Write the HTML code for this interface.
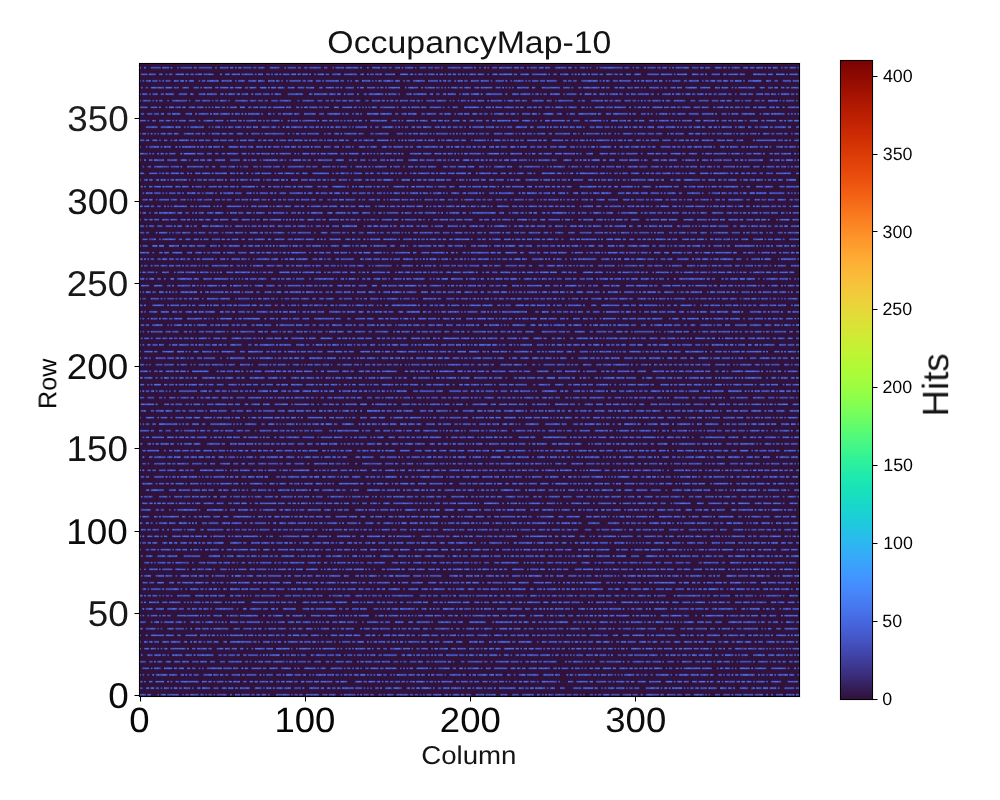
<!DOCTYPE html><html><head><meta charset="utf-8"><title>OccupancyMap-10</title><style>html,body{margin:0;padding:0;background:#fff;}body{width:1000px;height:800px;overflow:hidden;}svg{display:block;}text{font-family:"Liberation Sans",sans-serif;fill:#000;text-rendering:geometricPrecision;}</style></head><body>
<svg width="1000" height="800" viewBox="0 0 1000 800">
<defs><linearGradient id="cbg" x1="0" y1="0" x2="0" y2="1"><stop offset="0.0020" stop-color="#7a0403"/><stop offset="0.0059" stop-color="#7e0502"/><stop offset="0.0098" stop-color="#810602"/><stop offset="0.0137" stop-color="#850702"/><stop offset="0.0176" stop-color="#880802"/><stop offset="0.0215" stop-color="#8b0902"/><stop offset="0.0254" stop-color="#8e0a01"/><stop offset="0.0293" stop-color="#920b01"/><stop offset="0.0332" stop-color="#950d01"/><stop offset="0.0371" stop-color="#980e01"/><stop offset="0.0410" stop-color="#9b0f01"/><stop offset="0.0449" stop-color="#9e1001"/><stop offset="0.0488" stop-color="#a11201"/><stop offset="0.0527" stop-color="#a41301"/><stop offset="0.0566" stop-color="#a71401"/><stop offset="0.0605" stop-color="#a91601"/><stop offset="0.0645" stop-color="#ac1701"/><stop offset="0.0684" stop-color="#af1801"/><stop offset="0.0723" stop-color="#b21a01"/><stop offset="0.0762" stop-color="#b41b01"/><stop offset="0.0801" stop-color="#b71d02"/><stop offset="0.0840" stop-color="#b91e02"/><stop offset="0.0879" stop-color="#bc2002"/><stop offset="0.0918" stop-color="#be2102"/><stop offset="0.0957" stop-color="#c12302"/><stop offset="0.0996" stop-color="#c32503"/><stop offset="0.1035" stop-color="#c52603"/><stop offset="0.1074" stop-color="#c82803"/><stop offset="0.1113" stop-color="#ca2a04"/><stop offset="0.1152" stop-color="#cc2b04"/><stop offset="0.1191" stop-color="#ce2d04"/><stop offset="0.1230" stop-color="#d02f05"/><stop offset="0.1270" stop-color="#d23105"/><stop offset="0.1309" stop-color="#d43305"/><stop offset="0.1348" stop-color="#d63506"/><stop offset="0.1387" stop-color="#d83706"/><stop offset="0.1426" stop-color="#da3907"/><stop offset="0.1465" stop-color="#dc3b07"/><stop offset="0.1504" stop-color="#dd3d08"/><stop offset="0.1543" stop-color="#df3f08"/><stop offset="0.1582" stop-color="#e14109"/><stop offset="0.1621" stop-color="#e2430a"/><stop offset="0.1660" stop-color="#e4450a"/><stop offset="0.1699" stop-color="#e5470b"/><stop offset="0.1738" stop-color="#e7490c"/><stop offset="0.1777" stop-color="#e84b0c"/><stop offset="0.1816" stop-color="#ea4e0d"/><stop offset="0.1855" stop-color="#eb500e"/><stop offset="0.1895" stop-color="#ec530f"/><stop offset="0.1934" stop-color="#ed5510"/><stop offset="0.1973" stop-color="#ef5811"/><stop offset="0.2012" stop-color="#f05b12"/><stop offset="0.2051" stop-color="#f15d13"/><stop offset="0.2090" stop-color="#f26014"/><stop offset="0.2129" stop-color="#f36315"/><stop offset="0.2168" stop-color="#f46617"/><stop offset="0.2207" stop-color="#f56918"/><stop offset="0.2246" stop-color="#f66c19"/><stop offset="0.2285" stop-color="#f76f1a"/><stop offset="0.2324" stop-color="#f8721c"/><stop offset="0.2363" stop-color="#f9751d"/><stop offset="0.2402" stop-color="#f9781e"/><stop offset="0.2441" stop-color="#fa7b1f"/><stop offset="0.2480" stop-color="#fb7e21"/><stop offset="0.2520" stop-color="#fb8122"/><stop offset="0.2559" stop-color="#fc8423"/><stop offset="0.2598" stop-color="#fc8725"/><stop offset="0.2637" stop-color="#fd8a26"/><stop offset="0.2676" stop-color="#fd8d27"/><stop offset="0.2715" stop-color="#fe9029"/><stop offset="0.2754" stop-color="#fe932a"/><stop offset="0.2793" stop-color="#fe962b"/><stop offset="0.2832" stop-color="#fe992c"/><stop offset="0.2871" stop-color="#fe9b2d"/><stop offset="0.2910" stop-color="#fe9e2f"/><stop offset="0.2949" stop-color="#fea130"/><stop offset="0.2988" stop-color="#fea431"/><stop offset="0.3027" stop-color="#fea732"/><stop offset="0.3066" stop-color="#fea933"/><stop offset="0.3105" stop-color="#fdac34"/><stop offset="0.3145" stop-color="#fdae35"/><stop offset="0.3184" stop-color="#fcb136"/><stop offset="0.3223" stop-color="#fcb336"/><stop offset="0.3262" stop-color="#fbb637"/><stop offset="0.3301" stop-color="#fbb838"/><stop offset="0.3340" stop-color="#faba39"/><stop offset="0.3379" stop-color="#f9bc39"/><stop offset="0.3418" stop-color="#f8be39"/><stop offset="0.3457" stop-color="#f7c13a"/><stop offset="0.3496" stop-color="#f6c33a"/><stop offset="0.3535" stop-color="#f5c53a"/><stop offset="0.3574" stop-color="#f4c73a"/><stop offset="0.3613" stop-color="#f2c93a"/><stop offset="0.3652" stop-color="#f1cb3a"/><stop offset="0.3691" stop-color="#efcd3a"/><stop offset="0.3730" stop-color="#eecf3a"/><stop offset="0.3770" stop-color="#ecd13a"/><stop offset="0.3809" stop-color="#ebd339"/><stop offset="0.3848" stop-color="#e9d539"/><stop offset="0.3887" stop-color="#e7d739"/><stop offset="0.3926" stop-color="#e5d938"/><stop offset="0.3965" stop-color="#e3db38"/><stop offset="0.4004" stop-color="#e1dd37"/><stop offset="0.4043" stop-color="#dfdf37"/><stop offset="0.4082" stop-color="#dde037"/><stop offset="0.4121" stop-color="#dbe236"/><stop offset="0.4160" stop-color="#d9e436"/><stop offset="0.4199" stop-color="#d7e535"/><stop offset="0.4238" stop-color="#d4e735"/><stop offset="0.4277" stop-color="#d2e935"/><stop offset="0.4316" stop-color="#d0ea34"/><stop offset="0.4355" stop-color="#cdec34"/><stop offset="0.4395" stop-color="#cbed34"/><stop offset="0.4434" stop-color="#c8ef34"/><stop offset="0.4473" stop-color="#c6f034"/><stop offset="0.4512" stop-color="#c3f134"/><stop offset="0.4551" stop-color="#c1f334"/><stop offset="0.4590" stop-color="#bef434"/><stop offset="0.4629" stop-color="#bcf534"/><stop offset="0.4668" stop-color="#b9f635"/><stop offset="0.4707" stop-color="#b7f735"/><stop offset="0.4746" stop-color="#b4f836"/><stop offset="0.4785" stop-color="#b1f936"/><stop offset="0.4824" stop-color="#affa37"/><stop offset="0.4863" stop-color="#acfb38"/><stop offset="0.4902" stop-color="#a9fb39"/><stop offset="0.4941" stop-color="#a7fc3a"/><stop offset="0.4980" stop-color="#a4fc3c"/><stop offset="0.5020" stop-color="#a1fd3d"/><stop offset="0.5059" stop-color="#9ffd3f"/><stop offset="0.5098" stop-color="#9cfe40"/><stop offset="0.5137" stop-color="#99fe42"/><stop offset="0.5176" stop-color="#96fe44"/><stop offset="0.5215" stop-color="#92ff47"/><stop offset="0.5254" stop-color="#8fff49"/><stop offset="0.5293" stop-color="#8bff4b"/><stop offset="0.5332" stop-color="#88ff4e"/><stop offset="0.5371" stop-color="#84ff51"/><stop offset="0.5410" stop-color="#80ff53"/><stop offset="0.5449" stop-color="#7dff56"/><stop offset="0.5488" stop-color="#79fe59"/><stop offset="0.5527" stop-color="#75fe5c"/><stop offset="0.5566" stop-color="#71fe5f"/><stop offset="0.5605" stop-color="#6dfe62"/><stop offset="0.5645" stop-color="#69fd66"/><stop offset="0.5684" stop-color="#65fd69"/><stop offset="0.5723" stop-color="#61fc6c"/><stop offset="0.5762" stop-color="#5dfc6f"/><stop offset="0.5801" stop-color="#59fb73"/><stop offset="0.5840" stop-color="#55fa76"/><stop offset="0.5879" stop-color="#52fa7a"/><stop offset="0.5918" stop-color="#4ef97d"/><stop offset="0.5957" stop-color="#4af880"/><stop offset="0.5996" stop-color="#46f884"/><stop offset="0.6035" stop-color="#43f787"/><stop offset="0.6074" stop-color="#3ff68a"/><stop offset="0.6113" stop-color="#3cf58e"/><stop offset="0.6152" stop-color="#38f491"/><stop offset="0.6191" stop-color="#35f394"/><stop offset="0.6230" stop-color="#32f298"/><stop offset="0.6270" stop-color="#2ff19b"/><stop offset="0.6309" stop-color="#2cf09e"/><stop offset="0.6348" stop-color="#2aefa1"/><stop offset="0.6387" stop-color="#27eea4"/><stop offset="0.6426" stop-color="#25eca7"/><stop offset="0.6465" stop-color="#22ebaa"/><stop offset="0.6504" stop-color="#20eaac"/><stop offset="0.6543" stop-color="#1fe9af"/><stop offset="0.6582" stop-color="#1de7b2"/><stop offset="0.6621" stop-color="#1ce6b4"/><stop offset="0.6660" stop-color="#1ae4b6"/><stop offset="0.6699" stop-color="#19e3b9"/><stop offset="0.6738" stop-color="#19e2bb"/><stop offset="0.6777" stop-color="#18e0bd"/><stop offset="0.6816" stop-color="#18dec0"/><stop offset="0.6855" stop-color="#18ddc2"/><stop offset="0.6895" stop-color="#18dbc5"/><stop offset="0.6934" stop-color="#18d9c8"/><stop offset="0.6973" stop-color="#18d7ca"/><stop offset="0.7012" stop-color="#19d5cd"/><stop offset="0.7051" stop-color="#1ad4d0"/><stop offset="0.7090" stop-color="#1ad2d2"/><stop offset="0.7129" stop-color="#1bd0d5"/><stop offset="0.7168" stop-color="#1ccdd8"/><stop offset="0.7207" stop-color="#1ecbda"/><stop offset="0.7246" stop-color="#1fc9dd"/><stop offset="0.7285" stop-color="#20c7df"/><stop offset="0.7324" stop-color="#22c5e2"/><stop offset="0.7363" stop-color="#23c3e4"/><stop offset="0.7402" stop-color="#25c0e7"/><stop offset="0.7441" stop-color="#27bee9"/><stop offset="0.7480" stop-color="#28bceb"/><stop offset="0.7520" stop-color="#2ab9ee"/><stop offset="0.7559" stop-color="#2cb7f0"/><stop offset="0.7598" stop-color="#2eb4f2"/><stop offset="0.7637" stop-color="#2fb2f4"/><stop offset="0.7676" stop-color="#31aff5"/><stop offset="0.7715" stop-color="#33adf7"/><stop offset="0.7754" stop-color="#35abf8"/><stop offset="0.7793" stop-color="#37a8fa"/><stop offset="0.7832" stop-color="#38a5fb"/><stop offset="0.7871" stop-color="#3aa3fc"/><stop offset="0.7910" stop-color="#3ba0fd"/><stop offset="0.7949" stop-color="#3d9efe"/><stop offset="0.7988" stop-color="#3e9bfe"/><stop offset="0.8027" stop-color="#4099ff"/><stop offset="0.8066" stop-color="#4196ff"/><stop offset="0.8105" stop-color="#4294ff"/><stop offset="0.8145" stop-color="#4391fe"/><stop offset="0.8184" stop-color="#448ffe"/><stop offset="0.8223" stop-color="#458cfd"/><stop offset="0.8262" stop-color="#458afc"/><stop offset="0.8301" stop-color="#4687fb"/><stop offset="0.8340" stop-color="#4685fa"/><stop offset="0.8379" stop-color="#4682f8"/><stop offset="0.8418" stop-color="#4680f6"/><stop offset="0.8457" stop-color="#467df4"/><stop offset="0.8496" stop-color="#477bf2"/><stop offset="0.8535" stop-color="#4778f0"/><stop offset="0.8574" stop-color="#4776ee"/><stop offset="0.8613" stop-color="#4773eb"/><stop offset="0.8652" stop-color="#4771e9"/><stop offset="0.8691" stop-color="#476ee6"/><stop offset="0.8730" stop-color="#466be3"/><stop offset="0.8770" stop-color="#4669e0"/><stop offset="0.8809" stop-color="#4666dd"/><stop offset="0.8848" stop-color="#4664da"/><stop offset="0.8887" stop-color="#4661d6"/><stop offset="0.8926" stop-color="#455ed3"/><stop offset="0.8965" stop-color="#455ccf"/><stop offset="0.9004" stop-color="#4559cb"/><stop offset="0.9043" stop-color="#4456c7"/><stop offset="0.9082" stop-color="#4454c3"/><stop offset="0.9121" stop-color="#4451bf"/><stop offset="0.9160" stop-color="#434eba"/><stop offset="0.9199" stop-color="#424bb5"/><stop offset="0.9238" stop-color="#4249b1"/><stop offset="0.9277" stop-color="#4146ac"/><stop offset="0.9316" stop-color="#4143a7"/><stop offset="0.9355" stop-color="#4040a2"/><stop offset="0.9395" stop-color="#3f3e9c"/><stop offset="0.9434" stop-color="#3f3b97"/><stop offset="0.9473" stop-color="#3e3891"/><stop offset="0.9512" stop-color="#3d358b"/><stop offset="0.9551" stop-color="#3c3286"/><stop offset="0.9590" stop-color="#3b2f80"/><stop offset="0.9629" stop-color="#3a2d79"/><stop offset="0.9668" stop-color="#392a73"/><stop offset="0.9707" stop-color="#38276d"/><stop offset="0.9746" stop-color="#372466"/><stop offset="0.9785" stop-color="#36215f"/><stop offset="0.9824" stop-color="#351e58"/><stop offset="0.9863" stop-color="#341b51"/><stop offset="0.9902" stop-color="#33184a"/><stop offset="0.9941" stop-color="#321543"/><stop offset="0.9980" stop-color="#30123b"/></linearGradient>
<clipPath id="axc"><rect x="140" y="64" width="659" height="632"/></clipPath></defs>
<rect x="0" y="0" width="1000" height="800" fill="#fff"/>
<g id="heat"><rect x="140" y="64" width="659" height="632" fill="#30123b"/>
<g clip-path="url(#axc)">
<g transform="translate(139.25 0) scale(1.6500 1)" fill="none">
<use href="#hb" stroke-width="2.80" stroke-opacity="0.180"/>
<g stroke-width="1.20"><path id="hb" stroke="#4664da" d="M0 694.75h4m1 0h2m4 0h1m1 0h3m1 0h7m2 0h1m1 0h2m1 0h5m1 0h2m1 0h1m1 0h2m1 0h1m1 0h6m2 0h1m2 0h3m1 0h5m1 0h2m1 0h2m1 0h3m1 0h1m4 0h8m1 0h1m1 0h2m1 0h2m2 0h8m2 0h3m1 0h4m3 0h1m1 0h7m1 0h1m1 0h1m1 0h3m1 0h2m3 0h2m1 0h1m1 0h4m2 0h7m1 0h2m1 0h2m1 0h1m1 0h1m1 0h3m1 0h5m2 0h2m1 0h1m1 0h4m1 0h2m1 0h3m3 0h5m1 0h6m3 0h4m3 0h4m2 0h7m2 0h2m1 0h1m1 0h1m1 0h3m1 0h6m1 0h3m1 0h3m1 0h1m1 0h1m3 0h2m1 0h1m1 0h2m1 0h4m1 0h5m2 0h5m1 0h3m2 0h1m2 0h8m1 0h2m2 0h5m1 0h3m2 0h3m2 0h6m1 0h1m1 0h1m3 0h3m2 0h4m1 0h1m1 0h4m1 0h6m1 0h5m2 0h1m2 0h1m2 0h4m2 0h5m1 0h2M0 688.15h2m2 0h2m1 0h2m1 0h2m1 0h1m1 0h3m1 0h1m1 0h2m1 0h2m1 0h4m1 0h1m2 0h2m1 0h5m2 0h3m2 0h3m1 0h3m1 0h2m1 0h6m3 0h4m1 0h1m1 0h3m1 0h1m1 0h4m1 0h4m2 0h4m1 0h1m3 0h6m1 0h2m2 0h2m1 0h2m1 0h2m1 0h7m1 0h4m1 0h1m1 0h1m1 0h1m2 0h2m1 0h1m2 0h4m1 0h5m3 0h2m1 0h2m1 0h2m1 0h6m1 0h1m2 0h2m1 0h4m1 0h6m1 0h1m2 0h2m1 0h1m1 0h4m1 0h1m1 0h3m1 0h1m2 0h10m2 0h3m1 0h2m1 0h2m1 0h6m1 0h1m1 0h3m3 0h3m5 0h5m1 0h6m1 0h2m2 0h1m1 0h1m1 0h4m1 0h5m1 0h1m1 0h2m1 0h3m4 0h8m1 0h1m1 0h2m1 0h1m1 0h6m1 0h1m1 0h1m1 0h2m1 0h2m1 0h4m1 0h5m2 0h4m1 0h2m1 0h1m3 0h5m2 0h2m1 0h3m1 0h3m1 0h4m1 0h1m3 0h6m1 0h2M0 681.55h2m1 0h1m2 0h2m2 0h5m2 0h1m1 0h1m2 0h2m1 0h11m2 0h3m1 0h2m1 0h1m1 0h4m1 0h1m1 0h2m1 0h4m2 0h2m2 0h2m1 0h2m1 0h5m1 0h2m2 0h2m1 0h2m1 0h4m1 0h2m2 0h2m1 0h4m1 0h3m1 0h7m2 0h2m1 0h4m5 0h4m1 0h2m1 0h4m1 0h2m1 0h1m1 0h2m1 0h2m1 0h3m1 0h2m1 0h1m1 0h3m1 0h5m1 0h1m1 0h2m1 0h1m1 0h1m1 0h7m2 0h2m1 0h4m1 0h2m1 0h3m2 0h3m1 0h1m1 0h3m1 0h3m1 0h1m1 0h1m2 0h2m1 0h2m1 0h3m1 0h3m1 0h1m2 0h9m1 0h1m5 0h3m2 0h7m1 0h2m2 0h6m1 0h2m1 0h1m1 0h5m1 0h2m1 0h2m2 0h5m2 0h7m3 0h4m1 0h1m1 0h3m1 0h3m2 0h3m1 0h4m1 0h1m1 0h2m2 0h2m1 0h1m1 0h6m1 0h2m1 0h2m1 0h3m1 0h1m1 0h5m1 0h1m2 0h6m4 0h6M0 674.95h1m1 0h1m2 0h1m2 0h1m1 0h7m1 0h5m2 0h2m1 0h1m1 0h2m1 0h3m3 0h5m1 0h3m1 0h2m1 0h2m2 0h5m1 0h2m1 0h6m2 0h1m1 0h1m1 0h4m2 0h3m1 0h1m1 0h4m1 0h4m1 0h2m2 0h1m1 0h1m1 0h6m1 0h4m1 0h2m1 0h1m1 0h2m1 0h2m1 0h3m1 0h3m1 0h1m1 0h1m1 0h1m1 0h3m1 0h2m2 0h1m1 0h1m1 0h6m1 0h4m1 0h2m1 0h2m2 0h1m1 0h2m1 0h4m1 0h1m2 0h7m1 0h2m2 0h1m1 0h2m1 0h6m1 0h3m1 0h4m3 0h2m2 0h1m2 0h4m1 0h7m3 0h6m1 0h3m4 0h1m1 0h2m1 0h1m1 0h8m1 0h2m1 0h1m1 0h3m1 0h3m1 0h1m1 0h1m1 0h1m1 0h6m1 0h2m1 0h1m1 0h2m2 0h1m2 0h8m1 0h1m2 0h1m1 0h6m1 0h5m1 0h5m1 0h2m3 0h2m1 0h1m1 0h2m1 0h1m1 0h2m1 0h9m2 0h1m1 0h2m1 0h1m1 0h2m1 0h1m1 0h6m1 0h3m2 0h1M2 668.35h4m1 0h1m1 0h4m2 0h5m1 0h2m1 0h3m2 0h2m1 0h2m2 0h1m1 0h1m2 0h9m1 0h5m1 0h3m2 0h1m1 0h2m2 0h6m1 0h2m2 0h5m2 0h6m2 0h1m1 0h1m3 0h7m1 0h1m1 0h3m3 0h7m1 0h1m1 0h2m1 0h1m1 0h2m1 0h1m2 0h2m1 0h5m1 0h2m1 0h7m2 0h1m1 0h1m1 0h1m1 0h2m2 0h7m1 0h1m2 0h1m1 0h7m2 0h2m2 0h2m1 0h1m1 0h7m1 0h1m2 0h3m2 0h8m2 0h3m1 0h2m1 0h2m2 0h5m1 0h7m2 0h2m1 0h1m1 0h4m2 0h1m1 0h3m1 0h1m1 0h1m2 0h2m1 0h3m2 0h5m1 0h2m2 0h5m1 0h2m1 0h2m1 0h2m1 0h2m1 0h2m1 0h5m2 0h1m1 0h2m2 0h2m1 0h1m1 0h10m1 0h6m3 0h1m1 0h2m1 0h3m1 0h1m1 0h1m2 0h6m1 0h1m1 0h7m3 0h9m1 0h1m3 0h1m1 0h1M0 661.75h4m2 0h2m1 0h1m1 0h3m2 0h3m2 0h4m1 0h4m2 0h4m1 0h4m2 0h3m3 0h3m2 0h8m2 0h2m1 0h1m2 0h1m1 0h3m1 0h4m1 0h7m1 0h1m1 0h2m1 0h1m1 0h5m1 0h2m2 0h4m3 0h2m1 0h1m2 0h5m1 0h4m3 0h1m1 0h2m1 0h4m1 0h4m1 0h5m2 0h3m1 0h1m1 0h2m2 0h4m1 0h3m2 0h2m1 0h1m1 0h7m1 0h2m1 0h1m4 0h2m2 0h9m1 0h2m2 0h1m2 0h8m1 0h5m1 0h1m2 0h2m1 0h4m1 0h2m1 0h8m5 0h1m1 0h2m1 0h6m1 0h1m1 0h1m1 0h2m3 0h3m1 0h9m1 0h1m2 0h1m2 0h7m1 0h3m1 0h5m1 0h1m2 0h4m2 0h1m2 0h6m2 0h3m1 0h2m1 0h3m1 0h1m1 0h3m1 0h4m1 0h1m2 0h1m1 0h7m1 0h1m2 0h6m1 0h1m1 0h2m1 0h2m1 0h2m2 0h2m1 0h3M1 655.15h1m3 0h3m1 0h4m1 0h2m1 0h1m2 0h6m2 0h4m1 0h1m1 0h10m3 0h2m1 0h2m1 0h4m1 0h2m2 0h2m1 0h6m1 0h1m1 0h1m1 0h1m1 0h6m2 0h1m1 0h2m1 0h3m1 0h1m1 0h3m3 0h2m1 0h6m1 0h4m1 0h3m2 0h1m1 0h3m1 0h1m1 0h3m1 0h1m1 0h1m1 0h3m2 0h2m1 0h8m3 0h2m1 0h3m1 0h1m1 0h2m1 0h2m1 0h2m1 0h1m1 0h1m1 0h3m2 0h7m1 0h3m1 0h1m1 0h3m1 0h1m1 0h2m1 0h2m1 0h5m1 0h1m2 0h3m1 0h1m2 0h2m1 0h3m1 0h7m1 0h6m1 0h1m1 0h2m2 0h1m1 0h2m1 0h1m1 0h1m1 0h4m2 0h4m1 0h2m1 0h4m1 0h1m1 0h1m3 0h2m1 0h2m1 0h3m1 0h8m1 0h5m2 0h1m2 0h2m1 0h3m1 0h2m1 0h3m1 0h1m1 0h3m1 0h3m1 0h4m2 0h2m2 0h1m1 0h5m1 0h1m1 0h1m1 0h4m3 0h7m2 0h4m1 0h5m1 0h1m1 0h2m1 0h1m1 0h1M0 648.55h1m2 0h3m1 0h3m1 0h1m1 0h1m1 0h2m2 0h9m1 0h1m2 0h2m1 0h6m1 0h2m3 0h4m1 0h3m1 0h3m2 0h2m2 0h1m2 0h1m1 0h6m1 0h4m2 0h8m1 0h1m2 0h1m1 0h7m1 0h1m1 0h1m1 0h1m1 0h8m1 0h1m1 0h1m2 0h1m1 0h1m1 0h1m1 0h6m1 0h2m1 0h1m2 0h2m2 0h2m2 0h7m1 0h4m1 0h1m2 0h2m1 0h4m2 0h1m1 0h2m1 0h5m2 0h3m1 0h5m2 0h3m1 0h2m1 0h1m1 0h2m1 0h3m1 0h3m2 0h6m1 0h2m1 0h1m1 0h2m1 0h3m1 0h4m1 0h1m1 0h2m1 0h2m1 0h2m1 0h2m2 0h1m1 0h2m1 0h3m1 0h2m1 0h2m1 0h1m1 0h3m1 0h2m1 0h3m1 0h1m1 0h1m1 0h2m1 0h1m2 0h6m1 0h1m1 0h4m1 0h1m1 0h3m1 0h5m2 0h1m1 0h2m1 0h5m1 0h3m1 0h5m1 0h1m2 0h1m1 0h2m1 0h1m2 0h2m2 0h7m1 0h5m1 0h4m1 0h1m1 0h1m1 0h1m1 0h3m1 0h1m1 0h1m1 0h1m1 0h4M0 641.95h1m2 0h2m1 0h2m1 0h3m2 0h4m1 0h6m2 0h2m2 0h1m1 0h2m1 0h2m1 0h1m1 0h3m1 0h3m3 0h2m2 0h13m1 0h2m1 0h1m2 0h4m1 0h1m1 0h1m1 0h2m2 0h1m1 0h6m1 0h2m1 0h4m1 0h2m1 0h1m1 0h2m1 0h4m1 0h1m2 0h1m1 0h5m1 0h2m1 0h4m2 0h1m1 0h1m1 0h2m1 0h4m1 0h2m1 0h2m1 0h1m1 0h2m1 0h1m1 0h7m1 0h3m2 0h2m1 0h3m2 0h6m2 0h4m4 0h5m1 0h3m3 0h2m1 0h1m1 0h8m1 0h2m2 0h8m3 0h1m2 0h3m1 0h5m1 0h2m1 0h4m1 0h1m1 0h2m1 0h1m1 0h2m1 0h3m2 0h3m1 0h4m1 0h1m2 0h2m1 0h3m1 0h5m2 0h4m1 0h2m1 0h3m2 0h2m1 0h3m2 0h4m2 0h5m1 0h2m1 0h3m2 0h5m2 0h2m1 0h3m2 0h2m1 0h4m1 0h4m2 0h1m1 0h3m2 0h5m1 0h2m1 0h2m1 0h5m1 0h1M0 635.35h1m3 0h1m2 0h8m1 0h5m2 0h2m3 0h7m2 0h4m1 0h1m1 0h2m1 0h1m1 0h1m1 0h1m1 0h1m1 0h8m1 0h1m1 0h3m1 0h1m1 0h2m1 0h2m1 0h4m1 0h2m1 0h2m2 0h2m1 0h4m1 0h4m2 0h5m1 0h1m2 0h1m2 0h4m1 0h3m1 0h4m1 0h4m3 0h3m1 0h2m2 0h1m2 0h4m1 0h3m1 0h4m1 0h2m1 0h2m2 0h1m1 0h5m1 0h4m2 0h2m1 0h1m1 0h4m1 0h1m1 0h2m1 0h5m2 0h6m1 0h1m2 0h5m1 0h2m2 0h3m1 0h4m1 0h2m2 0h2m1 0h2m1 0h3m1 0h4m1 0h2m1 0h1m2 0h3m1 0h1m1 0h2m1 0h3m2 0h7m1 0h3m3 0h3m3 0h4m2 0h7m2 0h1m1 0h2m1 0h6m1 0h5m3 0h3m1 0h1m1 0h2m2 0h1m1 0h2m2 0h8m2 0h2m1 0h6m1 0h3m2 0h2m1 0h3m1 0h2m1 0h3m1 0h1m2 0h6m1 0h1m1 0h1m1 0h3M0 628.75h2m2 0h6m1 0h1m1 0h1m3 0h4m1 0h5m1 0h1m2 0h1m2 0h3m1 0h4m1 0h1m1 0h9m3 0h4m2 0h5m1 0h2m1 0h2m2 0h1m1 0h5m1 0h5m2 0h1m1 0h2m1 0h3m2 0h4m1 0h1m1 0h1m1 0h5m2 0h2m1 0h1m1 0h2m1 0h5m4 0h1m1 0h4m1 0h4m1 0h6m2 0h2m1 0h1m1 0h3m1 0h2m1 0h4m2 0h3m1 0h1m2 0h9m1 0h1m2 0h2m2 0h1m1 0h5m1 0h2m1 0h1m1 0h5m2 0h1m1 0h5m1 0h2m1 0h4m2 0h2m1 0h3m2 0h1m1 0h2m1 0h1m1 0h5m1 0h3m2 0h1m1 0h6m1 0h2m2 0h2m2 0h1m1 0h5m1 0h2m1 0h1m2 0h2m1 0h5m1 0h1m1 0h6m1 0h5m3 0h1m1 0h6m4 0h3m1 0h4m1 0h7m2 0h3m2 0h1m1 0h5m1 0h1m2 0h3m1 0h9m2 0h1m1 0h1m1 0h2m3 0h3m2 0h8M0 622.15h4m3 0h1m1 0h3m1 0h1m1 0h6m1 0h4m1 0h1m3 0h2m1 0h3m1 0h1m1 0h5m1 0h1m1 0h1m1 0h1m1 0h1m2 0h5m1 0h3m1 0h8m1 0h1m2 0h2m1 0h1m1 0h1m1 0h4m2 0h4m1 0h3m1 0h5m1 0h1m1 0h1m1 0h1m1 0h1m1 0h2m2 0h3m1 0h4m1 0h4m1 0h1m3 0h1m2 0h7m1 0h2m1 0h3m3 0h5m3 0h3m2 0h8m1 0h1m3 0h8m1 0h2m1 0h3m4 0h10m4 0h1m1 0h10m1 0h2m1 0h2m1 0h3m2 0h2m2 0h2m1 0h2m1 0h3m1 0h8m3 0h2m1 0h2m1 0h1m1 0h2m1 0h3m2 0h5m1 0h2m1 0h1m2 0h1m1 0h1m1 0h2m1 0h7m1 0h1m1 0h2m1 0h1m1 0h5m1 0h2m1 0h1m1 0h1m1 0h1m1 0h1m1 0h6m2 0h4m1 0h4m2 0h4m4 0h8m1 0h8m1 0h1m1 0h2m2 0h2m1 0h3m2 0h1m2 0h5m1 0h2M0 615.55h1m1 0h1m2 0h1m1 0h4m1 0h1m1 0h2m1 0h2m4 0h13m1 0h1m1 0h1m1 0h2m2 0h5m3 0h1m1 0h5m1 0h11m3 0h1m2 0h2m1 0h6m2 0h2m2 0h6m1 0h1m3 0h6m1 0h2m1 0h6m1 0h1m1 0h1m1 0h2m1 0h1m1 0h2m1 0h6m4 0h1m1 0h3m1 0h1m1 0h6m1 0h1m1 0h2m1 0h1m1 0h1m1 0h1m1 0h3m1 0h5m1 0h4m1 0h1m2 0h3m1 0h2m2 0h1m1 0h2m1 0h1m1 0h8m1 0h2m1 0h4m2 0h3m1 0h5m1 0h4m3 0h1m1 0h6m2 0h1m1 0h2m1 0h1m1 0h4m2 0h3m2 0h2m1 0h1m1 0h2m1 0h2m1 0h1m1 0h2m1 0h3m1 0h3m1 0h8m2 0h1m1 0h2m1 0h5m1 0h1m1 0h1m3 0h5m1 0h7m1 0h3m4 0h1m3 0h1m1 0h11m2 0h1m1 0h5m1 0h3m1 0h2m1 0h4m2 0h3m2 0h4m3 0h1m1 0h8M2 608.95h1m1 0h4m2 0h5m2 0h6m1 0h3m2 0h2m1 0h3m1 0h2m1 0h3m1 0h1m2 0h11m2 0h1m3 0h2m2 0h7m1 0h3m2 0h2m1 0h1m3 0h8m4 0h4m1 0h2m1 0h12m2 0h2m2 0h2m2 0h4m1 0h4m4 0h3m1 0h1m1 0h1m1 0h2m1 0h4m1 0h9m1 0h1m2 0h3m2 0h1m1 0h1m1 0h2m2 0h7m1 0h1m1 0h2m1 0h4m1 0h1m1 0h2m1 0h1m1 0h4m1 0h1m2 0h6m2 0h7m2 0h3m2 0h2m1 0h2m1 0h1m1 0h1m1 0h2m1 0h5m1 0h3m1 0h1m3 0h4m1 0h1m1 0h2m1 0h1m1 0h2m1 0h3m1 0h7m1 0h1m2 0h1m1 0h2m1 0h4m2 0h1m1 0h1m2 0h8m2 0h1m1 0h2m1 0h6m1 0h2m1 0h5m1 0h2m2 0h3m1 0h9m1 0h1m3 0h2m1 0h1m1 0h6m2 0h1m1 0h2m1 0h2m3 0h1m1 0h5m1 0h4M1 602.35h1m1 0h1m2 0h6m2 0h3m1 0h7m2 0h1m1 0h1m1 0h1m1 0h4m1 0h1m1 0h2m1 0h1m1 0h5m2 0h1m1 0h1m1 0h3m1 0h4m4 0h10m1 0h3m1 0h2m1 0h3m1 0h3m1 0h1m4 0h4m1 0h4m1 0h3m1 0h4m2 0h7m3 0h4m1 0h1m1 0h1m1 0h4m2 0h2m1 0h2m1 0h4m1 0h1m2 0h2m2 0h3m1 0h5m1 0h3m3 0h3m1 0h2m1 0h1m1 0h8m1 0h4m3 0h3m1 0h1m1 0h3m2 0h3m1 0h4m1 0h3m2 0h1m1 0h2m1 0h1m1 0h8m2 0h3m2 0h3m1 0h2m1 0h4m1 0h5m1 0h1m3 0h1m1 0h1m2 0h5m1 0h4m1 0h1m3 0h7m1 0h3m1 0h1m1 0h2m1 0h3m1 0h2m1 0h2m1 0h2m2 0h4m2 0h5m1 0h1m1 0h6m2 0h1m1 0h3m1 0h4m1 0h2m3 0h4m1 0h4m1 0h2m1 0h6m3 0h3m1 0h4m2 0h4m2 0h1M0 595.75h2m1 0h1m1 0h2m1 0h3m1 0h1m1 0h1m1 0h2m1 0h1m3 0h8m3 0h5m1 0h2m1 0h4m1 0h4m3 0h2m1 0h4m1 0h1m1 0h1m1 0h1m2 0h3m1 0h9m1 0h1m3 0h4m1 0h5m1 0h2m1 0h2m1 0h2m1 0h3m4 0h1m1 0h6m1 0h4m3 0h4m1 0h2m1 0h1m1 0h3m1 0h2m2 0h1m1 0h1m1 0h13m4 0h4m1 0h2m1 0h3m2 0h4m1 0h1m1 0h2m2 0h5m1 0h1m1 0h1m1 0h7m1 0h2m1 0h2m2 0h2m1 0h3m1 0h1m1 0h5m1 0h1m2 0h4m1 0h1m1 0h2m1 0h2m1 0h3m1 0h2m1 0h1m1 0h4m1 0h1m2 0h4m1 0h4m2 0h4m1 0h3m2 0h3m1 0h3m1 0h1m1 0h2m2 0h5m1 0h2m2 0h1m1 0h5m5 0h1m1 0h14m1 0h2m1 0h2m2 0h3m1 0h6m3 0h2m1 0h2m1 0h5m1 0h1m2 0h1m1 0h1m1 0h9m1 0h1m3 0h5M2 589.15h2m1 0h1m1 0h6m1 0h1m1 0h8m1 0h1m2 0h1m2 0h5m1 0h2m1 0h1m1 0h2m1 0h2m1 0h1m2 0h2m2 0h6m1 0h4m1 0h6m2 0h2m2 0h3m1 0h5m2 0h1m1 0h3m1 0h3m1 0h5m2 0h2m1 0h1m1 0h1m1 0h3m1 0h1m1 0h2m1 0h2m1 0h5m2 0h3m1 0h3m1 0h1m2 0h2m1 0h2m2 0h7m2 0h1m2 0h6m2 0h4m1 0h1m1 0h7m2 0h2m1 0h1m1 0h5m2 0h4m2 0h2m1 0h4m1 0h5m1 0h1m1 0h1m2 0h1m1 0h8m3 0h2m2 0h3m1 0h1m1 0h6m1 0h1m1 0h2m1 0h2m1 0h2m1 0h1m1 0h1m1 0h2m1 0h1m1 0h7m3 0h3m1 0h3m3 0h2m2 0h6m1 0h4m1 0h1m2 0h5m1 0h4m2 0h5m2 0h2m1 0h1m1 0h1m1 0h2m1 0h2m1 0h6m1 0h2m2 0h1m1 0h3m1 0h5m1 0h2m1 0h2m1 0h2m2 0h3m1 0h2m1 0h3m1 0h5m1 0h1m2 0h2M2 582.55h3m1 0h3m2 0h4m3 0h3m2 0h2m1 0h7m1 0h5m1 0h2m2 0h2m1 0h1m1 0h2m2 0h1m1 0h4m1 0h7m2 0h2m1 0h2m1 0h3m1 0h6m2 0h5m3 0h3m1 0h3m1 0h1m1 0h3m2 0h2m1 0h6m1 0h1m1 0h2m1 0h2m1 0h4m1 0h1m1 0h2m2 0h2m1 0h1m1 0h8m2 0h1m2 0h1m1 0h4m2 0h7m3 0h5m2 0h2m1 0h2m1 0h1m1 0h4m1 0h2m1 0h3m1 0h4m2 0h1m2 0h2m1 0h6m1 0h1m1 0h5m2 0h6m3 0h6m1 0h4m1 0h1m2 0h1m2 0h1m1 0h2m1 0h2m1 0h1m1 0h2m1 0h10m3 0h2m1 0h1m1 0h1m1 0h2m1 0h1m2 0h5m1 0h2m2 0h1m2 0h2m1 0h13m2 0h2m1 0h3m2 0h2m1 0h2m2 0h1m1 0h4m1 0h4m1 0h2m2 0h7m1 0h1m1 0h1m1 0h4m3 0h3m1 0h5m1 0h4m1 0h3m2 0h1m1 0h1M1 575.95h1m1 0h4m3 0h5m1 0h4m2 0h1m2 0h5m1 0h4m1 0h3m1 0h2m2 0h1m1 0h6m1 0h1m2 0h1m1 0h4m1 0h1m1 0h4m2 0h3m1 0h2m1 0h8m2 0h1m1 0h2m2 0h4m1 0h2m1 0h3m2 0h3m1 0h1m1 0h1m1 0h7m2 0h3m4 0h2m1 0h2m1 0h1m1 0h5m1 0h1m2 0h2m1 0h3m1 0h9m2 0h5m1 0h1m1 0h1m1 0h7m5 0h5m1 0h2m2 0h4m1 0h3m1 0h1m2 0h5m1 0h2m1 0h2m1 0h2m2 0h5m1 0h1m1 0h1m1 0h8m2 0h2m1 0h2m2 0h4m3 0h5m1 0h2m1 0h1m1 0h3m2 0h2m1 0h1m1 0h6m1 0h1m1 0h1m2 0h2m1 0h5m1 0h2m1 0h2m1 0h7m1 0h1m1 0h1m1 0h2m1 0h4m1 0h1m2 0h2m1 0h7m1 0h1m2 0h2m1 0h1m1 0h2m4 0h6m1 0h6m1 0h3m1 0h5m1 0h2m3 0h1m1 0h1m2 0h6m1 0h3M0 569.35h1m2 0h1m2 0h5m1 0h1m1 0h6m2 0h6m1 0h1m2 0h2m1 0h4m1 0h4m1 0h1m3 0h4m1 0h1m1 0h1m1 0h1m1 0h5m2 0h3m1 0h6m1 0h1m1 0h1m1 0h1m1 0h5m1 0h2m1 0h1m1 0h4m2 0h7m2 0h1m1 0h1m1 0h2m1 0h3m1 0h1m1 0h1m1 0h4m1 0h6m1 0h1m1 0h1m2 0h1m4 0h2m1 0h8m1 0h2m2 0h4m1 0h5m2 0h4m1 0h2m2 0h2m1 0h2m1 0h6m1 0h3m1 0h1m1 0h1m1 0h2m1 0h4m1 0h1m1 0h2m1 0h2m1 0h2m3 0h7m2 0h1m1 0h5m1 0h3m2 0h1m1 0h2m1 0h3m1 0h3m4 0h4m1 0h6m1 0h3m1 0h1m1 0h2m1 0h1m1 0h4m1 0h4m1 0h2m2 0h2m1 0h1m1 0h1m1 0h5m1 0h1m1 0h3m1 0h4m2 0h3m1 0h4m2 0h5m2 0h2m1 0h2m1 0h1m1 0h4m2 0h1m1 0h2m1 0h2m1 0h4m1 0h1m1 0h4m1 0h2m1 0h2m1 0h3m2 0h2m1 0h5m1 0h1m1 0h1M3 562.75h3m1 0h1m1 0h1m1 0h5m1 0h2m1 0h1m1 0h8m2 0h1m3 0h4m1 0h6m1 0h2m1 0h4m1 0h2m1 0h1m2 0h2m2 0h2m1 0h1m1 0h1m1 0h7m2 0h1m1 0h2m1 0h3m1 0h9m2 0h5m1 0h2m2 0h2m2 0h1m1 0h1m1 0h5m1 0h2m1 0h1m1 0h2m1 0h2m2 0h3m1 0h7m4 0h4m1 0h4m1 0h1m2 0h5m1 0h2m1 0h1m1 0h3m2 0h3m1 0h3m1 0h6m1 0h3m1 0h1m1 0h2m1 0h1m2 0h3m3 0h3m1 0h11m3 0h1m1 0h1m1 0h3m1 0h1m1 0h2m2 0h4m1 0h4m1 0h2m1 0h1m1 0h3m3 0h5m3 0h1m1 0h2m1 0h7m2 0h2m1 0h3m1 0h5m1 0h1m1 0h6m2 0h3m2 0h5m2 0h5m1 0h3m5 0h2m1 0h9m2 0h2m3 0h7m1 0h2m1 0h2m1 0h2m1 0h2m1 0h3m1 0h2m1 0h6m1 0h1m1 0h4M1 556.15h1m2 0h4m3 0h5m1 0h6m4 0h10m5 0h7m2 0h1m1 0h4m2 0h5m1 0h2m1 0h3m1 0h1m1 0h4m1 0h2m1 0h2m2 0h8m2 0h1m1 0h3m1 0h5m1 0h2m3 0h3m1 0h6m1 0h1m1 0h1m2 0h3m1 0h1m1 0h1m1 0h4m1 0h1m3 0h8m3 0h5m1 0h1m1 0h1m1 0h4m2 0h4m1 0h7m2 0h1m2 0h3m1 0h1m1 0h3m2 0h5m1 0h5m1 0h1m1 0h4m2 0h1m1 0h1m1 0h2m1 0h2m1 0h2m1 0h5m1 0h2m1 0h3m2 0h3m1 0h1m1 0h2m2 0h1m1 0h1m1 0h2m1 0h3m1 0h4m1 0h1m2 0h8m2 0h1m1 0h6m3 0h5m4 0h7m1 0h3m1 0h2m2 0h1m1 0h2m1 0h6m1 0h4m2 0h1m1 0h4m1 0h2m1 0h3m3 0h3m1 0h6m1 0h1m2 0h2m1 0h5m1 0h2m1 0h1m1 0h2m1 0h2m2 0h2m1 0h5M0 549.55h1m3 0h2m1 0h3m1 0h1m1 0h6m1 0h1m1 0h3m1 0h3m2 0h1m1 0h3m1 0h1m2 0h2m1 0h5m2 0h1m2 0h3m1 0h9m1 0h4m1 0h1m2 0h4m2 0h1m2 0h6m1 0h3m1 0h5m1 0h1m1 0h2m1 0h3m1 0h1m2 0h3m2 0h1m1 0h3m1 0h4m1 0h1m1 0h1m2 0h4m2 0h4m1 0h1m1 0h5m2 0h3m1 0h6m3 0h1m1 0h4m1 0h7m2 0h4m2 0h2m1 0h3m2 0h2m1 0h1m1 0h5m1 0h4m1 0h1m2 0h2m2 0h5m1 0h1m1 0h2m1 0h1m1 0h4m1 0h3m1 0h3m1 0h2m1 0h1m2 0h5m1 0h4m4 0h2m1 0h4m1 0h2m1 0h8m4 0h2m1 0h4m2 0h1m1 0h5m1 0h3m1 0h6m1 0h1m2 0h6m1 0h2m1 0h1m1 0h1m1 0h1m2 0h1m1 0h3m1 0h1m1 0h5m1 0h1m1 0h7m2 0h1m1 0h3m1 0h2m1 0h2m2 0h2m1 0h5m1 0h2m3 0h5m1 0h4M0 542.95h1m1 0h2m1 0h2m1 0h3m3 0h3m1 0h2m1 0h2m2 0h4m1 0h2m1 0h2m1 0h1m1 0h2m1 0h3m1 0h6m4 0h7m1 0h2m3 0h5m1 0h5m1 0h2m1 0h4m1 0h2m1 0h2m1 0h1m2 0h1m1 0h4m2 0h5m1 0h4m1 0h2m1 0h1m1 0h3m2 0h3m1 0h2m1 0h2m2 0h3m1 0h2m2 0h4m2 0h2m1 0h1m1 0h4m2 0h5m1 0h2m1 0h4m1 0h4m2 0h3m2 0h4m1 0h7m1 0h2m1 0h1m3 0h1m1 0h1m2 0h8m1 0h1m1 0h1m3 0h2m1 0h8m1 0h1m1 0h4m1 0h5m1 0h2m2 0h3m2 0h1m2 0h2m1 0h3m1 0h2m1 0h4m1 0h5m1 0h1m2 0h6m1 0h1m1 0h1m1 0h1m1 0h1m1 0h1m1 0h1m1 0h3m2 0h6m1 0h2m2 0h5m1 0h1m2 0h5m1 0h4m1 0h1m3 0h5m1 0h1m1 0h6m2 0h3m1 0h1m1 0h2m1 0h4m1 0h3m1 0h1m1 0h4m2 0h3m1 0h3m2 0h2M0 536.35h1m1 0h1m2 0h3m1 0h3m1 0h1m1 0h2m3 0h5m1 0h4m1 0h2m1 0h4m1 0h2m2 0h1m1 0h7m2 0h1m1 0h1m1 0h4m1 0h9m1 0h1m3 0h1m1 0h2m4 0h1m1 0h10m1 0h5m2 0h1m2 0h6m1 0h1m4 0h8m1 0h2m3 0h2m2 0h8m1 0h2m2 0h2m1 0h1m1 0h9m1 0h1m4 0h6m1 0h1m1 0h5m1 0h2m2 0h4m1 0h1m1 0h2m1 0h2m2 0h4m1 0h1m1 0h3m1 0h2m1 0h3m1 0h7m3 0h1m1 0h2m1 0h10m1 0h2m2 0h2m2 0h3m1 0h4m3 0h3m3 0h1m1 0h1m2 0h2m1 0h8m1 0h1m1 0h7m3 0h2m2 0h7m1 0h3m2 0h1m1 0h3m2 0h2m1 0h1m1 0h5m1 0h4m1 0h2m2 0h2m1 0h3m1 0h1m1 0h1m1 0h1m1 0h8m2 0h2m1 0h2m2 0h5m1 0h7m2 0h2m1 0h1m1 0h2m1 0h1M1 529.75h3m1 0h2m1 0h4m2 0h1m2 0h1m2 0h6m1 0h1m1 0h5m3 0h2m2 0h10m2 0h2m1 0h1m1 0h3m1 0h3m1 0h2m1 0h1m1 0h1m1 0h6m2 0h2m1 0h2m1 0h3m1 0h2m1 0h5m1 0h5m1 0h2m3 0h1m1 0h1m1 0h2m1 0h5m1 0h2m1 0h3m1 0h2m1 0h1m1 0h2m1 0h2m2 0h1m1 0h1m1 0h5m1 0h3m2 0h4m2 0h1m1 0h2m1 0h4m1 0h3m1 0h3m3 0h7m1 0h1m1 0h3m2 0h3m1 0h1m1 0h6m1 0h2m1 0h3m2 0h2m1 0h1m1 0h1m1 0h1m1 0h1m1 0h6m1 0h2m2 0h4m1 0h2m1 0h5m1 0h2m1 0h3m1 0h3m4 0h4m3 0h2m1 0h5m1 0h7m1 0h1m2 0h2m2 0h3m1 0h5m1 0h3m1 0h3m3 0h6m1 0h2m3 0h5m1 0h1m1 0h7m1 0h1m2 0h4m4 0h6m1 0h1m1 0h1m1 0h3m1 0h4m1 0h3m1 0h2m1 0h2m2 0h4m1 0h3M0 523.15h2m2 0h2m1 0h1m2 0h1m1 0h5m1 0h4m2 0h5m1 0h1m1 0h1m1 0h1m3 0h3m1 0h6m2 0h5m1 0h6m2 0h1m2 0h2m1 0h7m1 0h1m2 0h2m2 0h4m1 0h5m1 0h5m1 0h1m1 0h1m1 0h2m1 0h2m1 0h1m1 0h6m1 0h1m1 0h1m2 0h6m1 0h1m3 0h5m2 0h2m2 0h6m1 0h1m1 0h1m1 0h3m2 0h5m1 0h2m1 0h2m1 0h5m2 0h1m1 0h1m1 0h4m1 0h2m1 0h5m1 0h2m1 0h1m1 0h1m1 0h4m2 0h1m1 0h4m1 0h1m1 0h1m1 0h4m1 0h2m1 0h1m1 0h2m1 0h9m1 0h1m1 0h1m2 0h2m1 0h5m1 0h3m1 0h2m4 0h7m5 0h7m2 0h1m1 0h2m1 0h3m1 0h2m1 0h2m2 0h6m1 0h3m1 0h2m1 0h1m2 0h1m1 0h1m1 0h7m1 0h6m1 0h1m2 0h3m1 0h2m2 0h3m1 0h6m2 0h1m1 0h1m1 0h3m2 0h5m1 0h1m2 0h3m1 0h4m1 0h4M0 516.55h1m1 0h4m3 0h2m1 0h1m1 0h10m2 0h2m2 0h1m2 0h2m1 0h2m1 0h4m2 0h4m2 0h3m3 0h11m1 0h1m2 0h3m1 0h1m1 0h2m2 0h3m1 0h5m1 0h1m1 0h2m1 0h2m1 0h2m1 0h3m1 0h4m2 0h3m3 0h7m1 0h5m2 0h3m3 0h2m1 0h4m1 0h1m2 0h3m1 0h1m1 0h4m1 0h2m1 0h4m1 0h3m1 0h1m1 0h6m2 0h3m2 0h2m2 0h1m1 0h1m1 0h5m2 0h5m2 0h2m2 0h3m1 0h9m1 0h2m1 0h3m1 0h2m3 0h1m1 0h8m3 0h3m2 0h8m4 0h3m1 0h4m1 0h3m1 0h1m2 0h1m1 0h1m1 0h3m1 0h3m1 0h1m1 0h7m1 0h1m1 0h1m3 0h8m1 0h4m1 0h2m2 0h1m1 0h4m2 0h6m1 0h1m2 0h9m3 0h2m2 0h1m1 0h1m1 0h6m1 0h4m3 0h4m1 0h4m1 0h3M1 509.95h6m3 0h2m1 0h2m3 0h1m2 0h1m1 0h12m1 0h1m4 0h10m1 0h1m2 0h3m2 0h6m1 0h2m1 0h1m2 0h1m1 0h8m2 0h2m1 0h4m1 0h1m1 0h1m1 0h3m2 0h8m2 0h4m2 0h1m1 0h3m1 0h3m4 0h5m1 0h1m1 0h4m1 0h1m1 0h5m1 0h3m1 0h1m1 0h1m2 0h7m1 0h1m2 0h3m1 0h3m1 0h2m3 0h6m2 0h4m2 0h6m1 0h1m2 0h4m1 0h1m1 0h3m1 0h2m1 0h4m1 0h6m3 0h2m1 0h2m2 0h7m1 0h1m1 0h1m1 0h5m2 0h1m2 0h2m1 0h1m1 0h4m1 0h2m2 0h2m1 0h3m1 0h5m2 0h1m1 0h3m1 0h3m1 0h1m1 0h2m1 0h3m2 0h5m1 0h4m1 0h3m3 0h4m2 0h4m1 0h3m2 0h2m1 0h5m4 0h3m1 0h9m1 0h1m1 0h3m1 0h1m1 0h1m1 0h7m1 0h1m1 0h3m1 0h1M2 503.35h3m1 0h2m1 0h1m1 0h2m1 0h2m1 0h4m1 0h1m1 0h4m1 0h2m1 0h1m1 0h3m2 0h6m2 0h4m3 0h2m1 0h4m1 0h3m2 0h1m2 0h2m1 0h10m1 0h4m2 0h2m1 0h2m1 0h1m1 0h4m1 0h1m1 0h1m1 0h4m1 0h1m1 0h3m1 0h3m1 0h1m1 0h3m2 0h2m1 0h1m2 0h3m2 0h4m1 0h1m2 0h4m2 0h12m1 0h2m1 0h1m1 0h1m1 0h1m1 0h1m2 0h3m2 0h3m1 0h4m1 0h9m1 0h1m1 0h1m3 0h9m2 0h1m2 0h1m1 0h4m1 0h1m1 0h1m1 0h1m1 0h7m1 0h1m2 0h5m1 0h1m1 0h1m3 0h1m2 0h6m1 0h4m2 0h1m2 0h8m1 0h2m2 0h1m1 0h5m1 0h2m1 0h5m1 0h2m1 0h3m2 0h3m3 0h1m1 0h10m4 0h4m3 0h8m1 0h3m2 0h2m2 0h7m3 0h4m1 0h5m1 0h5m1 0h1m3 0h5M1 496.75h1m1 0h5m4 0h5m1 0h1m2 0h5m1 0h4m1 0h4m1 0h4m1 0h1m2 0h2m2 0h4m2 0h1m1 0h4m1 0h3m1 0h1m1 0h1m1 0h4m2 0h5m1 0h2m2 0h7m1 0h1m1 0h3m1 0h3m2 0h1m1 0h4m3 0h1m1 0h8m1 0h1m1 0h1m1 0h5m1 0h1m1 0h2m2 0h1m1 0h1m2 0h1m1 0h1m1 0h3m1 0h7m1 0h4m1 0h2m2 0h2m1 0h5m1 0h3m1 0h2m3 0h8m1 0h1m2 0h2m1 0h1m1 0h3m1 0h2m1 0h3m1 0h3m2 0h6m1 0h4m1 0h2m3 0h2m1 0h2m2 0h1m1 0h7m2 0h5m3 0h4m2 0h3m1 0h1m1 0h1m1 0h2m1 0h3m1 0h6m2 0h1m1 0h4m2 0h2m2 0h5m2 0h2m1 0h5m1 0h6m1 0h1m3 0h3m1 0h4m2 0h5m1 0h1m1 0h2m1 0h4m1 0h3m3 0h3m1 0h5m1 0h3m1 0h2m1 0h1m1 0h4m2 0h1m2 0h5m1 0h1M4 490.15h2m1 0h8m3 0h4m2 0h7m1 0h5m1 0h3m1 0h3m3 0h2m1 0h3m2 0h3m1 0h1m1 0h2m1 0h1m2 0h3m1 0h5m1 0h2m1 0h1m2 0h7m1 0h2m1 0h7m1 0h1m2 0h3m2 0h7m1 0h3m1 0h2m3 0h1m1 0h3m5 0h8m1 0h2m1 0h5m1 0h2m2 0h1m1 0h3m1 0h4m1 0h2m1 0h1m1 0h3m2 0h2m2 0h6m1 0h3m1 0h2m1 0h4m2 0h1m1 0h2m1 0h2m1 0h2m1 0h1m2 0h8m1 0h3m3 0h1m1 0h4m1 0h5m2 0h3m1 0h2m1 0h1m1 0h1m2 0h4m1 0h1m1 0h2m1 0h2m2 0h1m1 0h3m1 0h7m2 0h3m2 0h5m2 0h7m2 0h6m3 0h1m3 0h6m1 0h4m1 0h6m1 0h4m3 0h1m1 0h3m1 0h1m2 0h1m1 0h1m1 0h6m1 0h5m1 0h1m2 0h2m1 0h7m1 0h3m1 0h1m3 0h3M2 483.55h6m2 0h1m1 0h3m1 0h2m1 0h2m1 0h5m1 0h1m2 0h5m1 0h1m1 0h1m1 0h3m1 0h1m1 0h1m1 0h7m1 0h3m2 0h1m1 0h1m2 0h8m1 0h1m2 0h3m1 0h1m1 0h4m2 0h2m1 0h3m1 0h1m1 0h5m2 0h4m1 0h1m1 0h2m1 0h1m3 0h12m1 0h2m2 0h2m2 0h1m1 0h4m1 0h2m2 0h1m1 0h2m1 0h5m1 0h3m2 0h5m2 0h8m1 0h1m2 0h2m4 0h4m1 0h2m1 0h3m1 0h3m1 0h4m1 0h1m1 0h3m2 0h2m2 0h3m1 0h3m1 0h1m1 0h5m2 0h5m2 0h1m1 0h8m1 0h1m1 0h2m1 0h1m1 0h1m1 0h1m1 0h2m2 0h5m1 0h3m2 0h1m1 0h3m2 0h6m1 0h1m1 0h3m1 0h1m1 0h3m1 0h1m1 0h3m1 0h4m2 0h1m1 0h1m1 0h5m1 0h3m1 0h4m3 0h1m1 0h9m1 0h1m3 0h2m1 0h4m1 0h3m1 0h5m1 0h2m2 0h2m1 0h4m1 0h1m1 0h3m1 0h1M1 476.95h2m1 0h2m3 0h6m1 0h1m1 0h1m1 0h2m1 0h1m1 0h4m1 0h5m1 0h1m1 0h1m1 0h2m1 0h1m1 0h7m1 0h1m1 0h2m1 0h2m2 0h3m1 0h4m1 0h4m1 0h2m5 0h2m1 0h3m1 0h7m1 0h4m1 0h2m1 0h3m2 0h2m1 0h5m1 0h1m1 0h1m1 0h3m2 0h5m3 0h2m1 0h3m1 0h2m1 0h1m1 0h7m2 0h1m2 0h2m2 0h2m1 0h1m1 0h6m1 0h7m2 0h1m1 0h3m1 0h2m2 0h4m1 0h5m2 0h6m1 0h3m2 0h1m1 0h1m1 0h3m1 0h4m2 0h1m1 0h1m1 0h6m2 0h2m1 0h5m3 0h1m2 0h2m1 0h2m1 0h1m1 0h5m1 0h7m1 0h1m1 0h1m1 0h1m1 0h1m1 0h7m2 0h3m2 0h2m1 0h3m1 0h2m1 0h1m1 0h2m1 0h3m2 0h1m1 0h1m1 0h6m1 0h3m1 0h1m2 0h2m1 0h2m1 0h7m1 0h1m1 0h2m2 0h2m1 0h5m1 0h2m1 0h2m2 0h3m1 0h5m1 0h3m1 0h2m2 0h3M0 470.35h1m1 0h1m2 0h2m1 0h2m2 0h4m1 0h5m2 0h3m1 0h2m1 0h2m4 0h8m1 0h5m1 0h1m2 0h1m1 0h3m1 0h6m2 0h2m1 0h3m1 0h1m1 0h5m2 0h1m1 0h3m1 0h1m1 0h10m3 0h2m1 0h1m1 0h2m1 0h1m1 0h4m2 0h4m1 0h2m1 0h1m1 0h1m1 0h4m3 0h3m1 0h2m2 0h6m1 0h1m1 0h3m2 0h2m1 0h1m1 0h5m1 0h2m2 0h4m1 0h3m2 0h6m1 0h2m1 0h4m1 0h1m1 0h2m1 0h3m1 0h2m1 0h2m1 0h4m2 0h1m1 0h2m1 0h2m1 0h3m1 0h3m1 0h2m2 0h1m1 0h6m1 0h1m1 0h7m2 0h1m2 0h1m1 0h1m1 0h1m1 0h7m2 0h3m2 0h2m1 0h2m1 0h2m1 0h1m1 0h1m1 0h4m1 0h5m1 0h5m1 0h1m2 0h1m3 0h6m1 0h3m1 0h3m1 0h2m2 0h1m1 0h2m1 0h4m1 0h1m1 0h2m1 0h1m1 0h5m1 0h3m1 0h1m1 0h2m1 0h3m1 0h3m1 0h4m1 0h2m1 0h2m1 0h2m2 0h2M2 463.75h2m1 0h1m3 0h7m1 0h2m1 0h2m1 0h7m2 0h6m1 0h2m2 0h3m3 0h6m2 0h3m2 0h2m2 0h4m2 0h5m1 0h6m1 0h2m2 0h3m2 0h6m2 0h1m3 0h8m1 0h3m1 0h3m1 0h2m1 0h1m4 0h1m3 0h12m2 0h5m1 0h2m2 0h2m1 0h4m2 0h1m1 0h1m1 0h7m1 0h1m1 0h3m1 0h1m1 0h1m1 0h2m1 0h3m1 0h1m1 0h3m1 0h1m1 0h3m2 0h1m1 0h3m1 0h2m1 0h8m1 0h3m1 0h1m1 0h2m1 0h2m1 0h4m1 0h1m1 0h1m1 0h1m2 0h4m1 0h2m3 0h7m2 0h5m1 0h2m1 0h2m1 0h2m2 0h1m1 0h3m1 0h3m1 0h3m2 0h2m2 0h2m1 0h5m1 0h2m1 0h2m2 0h1m1 0h4m1 0h3m1 0h8m2 0h1m1 0h1m1 0h2m1 0h5m3 0h5m1 0h2m1 0h5m1 0h3m2 0h1m1 0h2m1 0h5m2 0h3m1 0h2m1 0h1m1 0h1M2 457.15h1m3 0h2m1 0h7m1 0h3m1 0h4m2 0h3m1 0h4m1 0h3m1 0h3m1 0h2m2 0h3m1 0h1m1 0h4m1 0h1m1 0h1m1 0h1m1 0h4m1 0h1m2 0h3m1 0h7m1 0h2m2 0h5m2 0h1m1 0h1m1 0h4m1 0h4m1 0h1m1 0h4m1 0h2m1 0h2m1 0h3m5 0h3m1 0h7m4 0h3m1 0h6m1 0h1m1 0h1m2 0h2m1 0h5m1 0h2m1 0h3m1 0h2m1 0h3m1 0h2m1 0h1m1 0h2m1 0h5m2 0h1m1 0h5m1 0h1m1 0h1m2 0h6m2 0h4m1 0h2m1 0h7m2 0h1m2 0h5m1 0h1m1 0h4m1 0h1m1 0h2m1 0h2m1 0h1m2 0h2m1 0h1m1 0h9m2 0h1m1 0h1m1 0h1m1 0h2m2 0h1m1 0h7m2 0h5m1 0h3m1 0h1m1 0h1m2 0h4m2 0h2m1 0h2m1 0h1m1 0h5m1 0h6m1 0h1m1 0h2m2 0h5m2 0h7m1 0h1m2 0h4m1 0h3m2 0h4m4 0h1m1 0h6m1 0h4M2 450.55h2m1 0h7m3 0h1m2 0h2m1 0h4m1 0h4m1 0h2m1 0h3m2 0h5m1 0h2m1 0h4m1 0h1m1 0h1m1 0h2m1 0h3m1 0h2m2 0h3m1 0h2m1 0h3m1 0h2m2 0h4m1 0h5m1 0h1m1 0h2m1 0h3m1 0h5m3 0h2m1 0h1m1 0h3m1 0h1m1 0h2m1 0h4m3 0h2m1 0h4m1 0h3m1 0h2m1 0h1m1 0h6m3 0h6m3 0h4m2 0h4m1 0h2m2 0h4m2 0h4m1 0h4m2 0h4m1 0h3m1 0h4m2 0h1m1 0h6m2 0h3m1 0h6m2 0h1m2 0h1m1 0h1m1 0h2m1 0h2m1 0h2m1 0h4m1 0h3m2 0h1m1 0h1m1 0h5m1 0h2m1 0h2m2 0h3m1 0h4m2 0h1m1 0h5m1 0h1m1 0h3m1 0h3m1 0h2m1 0h3m2 0h4m1 0h1m2 0h1m2 0h4m1 0h5m1 0h1m1 0h2m1 0h2m1 0h2m1 0h5m1 0h3m2 0h3m2 0h5m2 0h1m1 0h2m1 0h4m1 0h4m1 0h2m3 0h7m1 0h1M0 443.95h2m3 0h2m1 0h1m1 0h2m1 0h5m1 0h2m2 0h1m1 0h1m1 0h5m1 0h4m4 0h8m1 0h2m3 0h4m1 0h4m1 0h4m1 0h1m1 0h2m1 0h4m1 0h2m1 0h2m1 0h3m1 0h4m2 0h4m2 0h3m2 0h2m1 0h4m1 0h5m2 0h1m1 0h1m1 0h2m1 0h1m1 0h2m1 0h2m2 0h5m1 0h3m2 0h2m2 0h4m1 0h2m1 0h5m1 0h6m3 0h3m2 0h2m1 0h3m1 0h1m1 0h2m1 0h4m1 0h1m1 0h1m1 0h1m1 0h4m2 0h1m1 0h6m1 0h4m1 0h3m1 0h1m1 0h4m2 0h1m1 0h2m1 0h6m3 0h3m1 0h7m1 0h1m1 0h4m4 0h1m1 0h1m1 0h4m1 0h1m1 0h3m1 0h1m1 0h2m1 0h3m1 0h4m1 0h1m1 0h1m1 0h3m2 0h2m2 0h6m3 0h1m1 0h1m1 0h10m1 0h2m1 0h4m1 0h1m1 0h2m1 0h2m3 0h3m1 0h3m1 0h9m1 0h1m1 0h1m2 0h4m1 0h1m1 0h2m1 0h1m1 0h3m1 0h4M2 437.35h1m1 0h2m2 0h7m2 0h4m1 0h1m1 0h3m1 0h2m1 0h3m1 0h6m2 0h1m1 0h2m1 0h2m1 0h1m1 0h3m1 0h4m2 0h2m1 0h6m1 0h1m1 0h1m1 0h2m3 0h1m2 0h3m1 0h8m2 0h7m2 0h1m1 0h7m1 0h5m2 0h1m2 0h1m1 0h2m1 0h5m2 0h1m1 0h1m1 0h4m3 0h4m2 0h4m1 0h2m1 0h2m1 0h3m1 0h3m1 0h7m3 0h1m2 0h4m1 0h4m1 0h4m2 0h1m1 0h2m1 0h4m1 0h2m1 0h2m1 0h2m1 0h2m4 0h6m1 0h3m5 0h14m2 0h1m1 0h2m1 0h2m1 0h2m2 0h1m1 0h2m1 0h5m2 0h3m1 0h1m1 0h1m1 0h3m1 0h3m1 0h3m1 0h8m1 0h1m1 0h2m2 0h4m1 0h3m1 0h2m1 0h1m2 0h1m4 0h2m1 0h12m2 0h6m3 0h2m2 0h4m1 0h2m2 0h7m1 0h1m2 0h4m1 0h1m1 0h3M0 430.75h6m1 0h2m3 0h2m2 0h3m3 0h2m1 0h1m1 0h7m1 0h1m1 0h3m1 0h2m2 0h3m1 0h2m1 0h5m2 0h4m1 0h3m3 0h1m2 0h7m1 0h3m1 0h3m1 0h2m1 0h2m1 0h1m1 0h2m1 0h3m1 0h1m1 0h5m4 0h2m1 0h1m1 0h13m2 0h1m1 0h3m3 0h3m2 0h4m1 0h1m1 0h4m1 0h1m1 0h3m2 0h3m2 0h9m1 0h1m1 0h1m1 0h1m1 0h2m1 0h3m1 0h1m1 0h1m2 0h6m1 0h2m1 0h1m1 0h4m1 0h1m1 0h4m3 0h1m1 0h6m1 0h3m1 0h1m1 0h2m1 0h2m2 0h4m1 0h3m1 0h1m1 0h3m2 0h1m2 0h6m3 0h8m1 0h2m2 0h1m1 0h6m1 0h2m1 0h1m1 0h7m1 0h2m1 0h1m2 0h2m1 0h1m2 0h2m1 0h6m1 0h1m1 0h1m1 0h1m1 0h2m1 0h1m1 0h5m1 0h3m2 0h3m1 0h3m1 0h4m1 0h1m1 0h6m1 0h2m1 0h1m2 0h1m1 0h2m1 0h6m1 0h1m2 0h2M0 424.15h1m1 0h1m1 0h2m2 0h2m2 0h11m1 0h1m1 0h1m1 0h2m2 0h4m2 0h2m3 0h13m1 0h1m1 0h1m1 0h1m2 0h7m3 0h2m2 0h4m1 0h1m1 0h1m1 0h1m1 0h5m1 0h1m1 0h1m1 0h2m1 0h2m1 0h4m1 0h2m1 0h4m1 0h2m3 0h7m3 0h1m1 0h2m1 0h2m1 0h3m1 0h1m1 0h4m1 0h4m2 0h4m1 0h4m1 0h3m3 0h5m2 0h2m1 0h5m2 0h2m1 0h1m1 0h5m1 0h2m2 0h4m1 0h2m1 0h4m2 0h3m1 0h3m1 0h1m1 0h1m3 0h8m4 0h9m1 0h3m4 0h3m1 0h2m1 0h6m1 0h3m1 0h1m1 0h2m2 0h1m2 0h2m2 0h7m1 0h2m2 0h1m1 0h6m2 0h5m2 0h1m2 0h8m1 0h1m2 0h3m2 0h8m3 0h1m1 0h2m1 0h3m1 0h5m1 0h1m1 0h3m1 0h4m1 0h2m1 0h3m3 0h5m1 0h3m1 0h1M0 417.55h1m3 0h5m2 0h1m1 0h4m2 0h1m2 0h5m1 0h4m1 0h4m2 0h5m1 0h1m1 0h3m1 0h4m1 0h1m1 0h3m2 0h1m2 0h1m1 0h3m1 0h2m1 0h6m1 0h3m1 0h2m1 0h2m1 0h3m1 0h1m1 0h1m3 0h9m1 0h1m2 0h3m1 0h5m1 0h1m1 0h1m1 0h2m3 0h4m2 0h4m1 0h4m3 0h1m1 0h6m1 0h2m1 0h7m1 0h1m1 0h1m1 0h1m1 0h2m2 0h3m1 0h1m1 0h7m1 0h3m3 0h1m1 0h5m1 0h1m1 0h3m1 0h3m2 0h7m2 0h1m1 0h1m1 0h4m1 0h4m1 0h4m1 0h1m1 0h1m1 0h1m1 0h2m1 0h4m2 0h2m2 0h2m1 0h2m2 0h4m1 0h2m1 0h3m1 0h1m1 0h2m1 0h3m1 0h3m1 0h2m1 0h1m1 0h4m1 0h3m1 0h4m2 0h5m1 0h2m3 0h1m1 0h4m1 0h3m2 0h1m1 0h1m1 0h5m2 0h7m1 0h4m2 0h2m1 0h1m1 0h3m1 0h1m1 0h4m1 0h1m1 0h1m1 0h2m1 0h1m1 0h6M1 410.95h3m3 0h2m1 0h5m1 0h4m2 0h3m1 0h2m2 0h4m1 0h4m1 0h1m2 0h4m1 0h5m3 0h2m1 0h4m2 0h3m2 0h1m1 0h2m1 0h7m2 0h4m2 0h4m1 0h5m1 0h3m1 0h2m2 0h2m1 0h1m1 0h3m1 0h2m1 0h1m1 0h4m1 0h2m1 0h1m2 0h1m3 0h8m1 0h2m1 0h3m1 0h1m1 0h3m1 0h6m4 0h4m1 0h3m2 0h7m1 0h1m2 0h2m3 0h7m2 0h3m1 0h1m1 0h4m1 0h3m2 0h6m1 0h5m1 0h1m2 0h2m1 0h1m1 0h3m1 0h1m1 0h4m1 0h2m1 0h2m2 0h2m2 0h2m1 0h4m1 0h2m2 0h6m2 0h3m1 0h1m1 0h2m1 0h4m1 0h1m2 0h5m1 0h3m1 0h5m3 0h1m1 0h1m2 0h4m1 0h2m1 0h4m1 0h1m1 0h3m1 0h4m1 0h3m1 0h1m3 0h3m1 0h3m1 0h5m2 0h6m2 0h1m1 0h3m2 0h5m3 0h6M1 404.35h8m1 0h1m4 0h3m1 0h2m1 0h4m2 0h2m1 0h1m1 0h4m1 0h1m2 0h4m1 0h7m1 0h3m1 0h3m3 0h2m2 0h5m2 0h4m3 0h8m2 0h1m1 0h9m1 0h2m2 0h1m2 0h3m1 0h3m1 0h2m2 0h1m1 0h7m2 0h4m3 0h1m1 0h7m1 0h2m1 0h2m3 0h5m1 0h3m1 0h2m1 0h1m1 0h1m1 0h6m1 0h1m1 0h3m2 0h1m1 0h4m2 0h1m3 0h9m2 0h3m2 0h5m1 0h5m1 0h3m1 0h1m3 0h2m1 0h6m1 0h1m3 0h8m1 0h3m2 0h1m3 0h5m2 0h4m2 0h3m1 0h4m1 0h4m1 0h2m1 0h1m2 0h3m4 0h4m1 0h7m1 0h5m1 0h1m1 0h3m2 0h6m1 0h1m2 0h3m2 0h4m1 0h2m2 0h2m1 0h3m1 0h1m1 0h1m1 0h6m1 0h1m1 0h1m1 0h2m1 0h1m1 0h6m3 0h4M0 397.75h3m2 0h4m3 0h2m1 0h1m2 0h4m1 0h1m1 0h5m1 0h2m2 0h1m1 0h2m1 0h3m1 0h4m2 0h4m1 0h2m2 0h5m2 0h8m1 0h1m1 0h1m1 0h2m1 0h1m1 0h4m1 0h2m1 0h1m1 0h6m1 0h2m1 0h2m1 0h1m2 0h2m2 0h3m1 0h6m1 0h2m1 0h3m1 0h3m3 0h3m2 0h3m1 0h1m1 0h5m1 0h2m1 0h1m1 0h4m1 0h1m2 0h3m1 0h1m1 0h2m1 0h4m2 0h3m1 0h2m1 0h4m1 0h5m1 0h1m1 0h2m1 0h1m2 0h6m2 0h2m1 0h2m1 0h2m1 0h2m1 0h1m1 0h1m1 0h6m1 0h2m2 0h3m1 0h3m1 0h3m3 0h2m1 0h1m1 0h4m1 0h3m2 0h9m2 0h2m2 0h4m1 0h1m1 0h1m1 0h2m1 0h2m1 0h4m1 0h4m2 0h3m1 0h1m1 0h1m3 0h9m2 0h2m2 0h7m1 0h1m1 0h1m1 0h2m1 0h1m3 0h3m1 0h7m3 0h7m2 0h4m1 0h1m1 0h5m1 0h3m1 0h1M0 391.15h1m1 0h1m1 0h2m1 0h2m1 0h1m1 0h3m1 0h1m1 0h1m2 0h1m2 0h11m2 0h4m1 0h2m2 0h3m1 0h3m1 0h1m1 0h4m1 0h2m1 0h2m1 0h1m1 0h1m2 0h6m1 0h1m1 0h3m2 0h3m1 0h2m1 0h4m2 0h5m1 0h4m1 0h1m1 0h2m1 0h3m3 0h1m1 0h5m1 0h3m1 0h2m1 0h2m1 0h1m1 0h2m1 0h2m1 0h2m1 0h1m1 0h1m1 0h1m1 0h6m4 0h3m1 0h9m1 0h4m4 0h7m1 0h3m2 0h2m1 0h2m1 0h2m1 0h5m1 0h1m2 0h4m2 0h1m1 0h3m1 0h6m1 0h1m1 0h1m3 0h9m2 0h2m1 0h2m3 0h4m1 0h2m1 0h1m1 0h2m1 0h6m1 0h1m2 0h3m2 0h3m1 0h5m1 0h1m1 0h2m1 0h2m2 0h6m1 0h1m1 0h2m1 0h1m1 0h2m1 0h3m1 0h1m1 0h6m3 0h1m1 0h2m1 0h7m3 0h8m2 0h1m1 0h1m1 0h1m1 0h3m1 0h5m1 0h2m1 0h1m1 0h3m1 0h3m1 0h2m1 0h1M0 384.55h3m2 0h1m1 0h1m1 0h4m2 0h2m1 0h3m1 0h1m1 0h3m1 0h1m1 0h5m1 0h3m1 0h1m1 0h3m2 0h4m3 0h5m1 0h1m1 0h2m1 0h3m1 0h3m2 0h2m1 0h4m2 0h2m1 0h4m2 0h7m2 0h5m1 0h1m1 0h2m1 0h3m1 0h4m1 0h1m2 0h2m1 0h1m1 0h2m2 0h4m1 0h1m1 0h1m1 0h3m2 0h7m1 0h2m1 0h1m1 0h3m1 0h5m2 0h1m2 0h3m1 0h7m1 0h2m2 0h1m3 0h2m1 0h3m1 0h5m1 0h1m1 0h5m1 0h1m2 0h5m1 0h3m1 0h7m4 0h1m2 0h7m3 0h5m3 0h2m1 0h4m1 0h3m1 0h3m2 0h7m1 0h1m2 0h1m2 0h1m1 0h2m1 0h5m1 0h7m1 0h2m4 0h5m1 0h1m1 0h2m1 0h4m1 0h3m1 0h5m1 0h1m1 0h1m1 0h1m2 0h4m1 0h1m1 0h1m1 0h1m1 0h5m1 0h6m1 0h1m2 0h3m1 0h2m1 0h4m3 0h1m1 0h3m1 0h4M0 377.95h2m1 0h5m2 0h1m2 0h1m1 0h3m1 0h2m1 0h1m1 0h3m1 0h2m1 0h1m1 0h2m3 0h8m1 0h2m1 0h1m1 0h5m2 0h2m1 0h2m3 0h9m2 0h6m1 0h1m1 0h2m3 0h5m1 0h2m1 0h5m1 0h2m1 0h1m2 0h3m1 0h1m1 0h3m1 0h1m1 0h4m1 0h2m1 0h2m2 0h1m1 0h4m1 0h1m1 0h7m2 0h1m1 0h2m1 0h2m4 0h2m1 0h7m1 0h1m2 0h2m1 0h2m1 0h6m1 0h1m1 0h5m3 0h8m1 0h2m1 0h5m2 0h1m4 0h2m1 0h4m1 0h5m1 0h4m2 0h5m2 0h7m1 0h2m3 0h1m1 0h2m1 0h1m3 0h2m1 0h1m1 0h7m1 0h5m1 0h6m4 0h1m1 0h4m2 0h6m1 0h3m1 0h1m1 0h3m2 0h1m1 0h6m1 0h2m1 0h4m2 0h1m1 0h1m1 0h7m1 0h1m1 0h1m1 0h1m1 0h10m3 0h1m2 0h3m1 0h1m1 0h4m2 0h2m1 0h2M0 371.35h5m1 0h1m2 0h2m1 0h2m2 0h5m1 0h2m1 0h3m1 0h1m2 0h10m5 0h1m1 0h3m1 0h4m1 0h3m1 0h1m2 0h1m1 0h2m1 0h4m2 0h6m1 0h3m1 0h2m1 0h2m1 0h1m1 0h4m1 0h5m2 0h1m2 0h2m2 0h7m2 0h4m1 0h2m3 0h3m1 0h3m1 0h2m1 0h2m1 0h9m5 0h2m1 0h3m1 0h1m1 0h3m1 0h2m2 0h1m1 0h1m1 0h9m2 0h3m1 0h1m1 0h2m1 0h2m1 0h4m1 0h2m2 0h8m2 0h5m1 0h2m1 0h4m4 0h7m3 0h1m1 0h3m2 0h7m1 0h1m2 0h1m1 0h6m3 0h2m1 0h2m1 0h2m2 0h7m1 0h2m2 0h5m4 0h7m1 0h2m1 0h2m1 0h1m1 0h3m1 0h4m1 0h6m1 0h3m3 0h2m2 0h2m1 0h1m2 0h7m1 0h9m1 0h1m2 0h1m1 0h1m1 0h2m1 0h2m2 0h1m1 0h6M0 364.75h3m1 0h1m1 0h1m3 0h4m1 0h6m2 0h1m1 0h4m2 0h1m1 0h1m2 0h3m1 0h3m1 0h7m1 0h1m1 0h4m3 0h6m1 0h1m3 0h6m1 0h1m1 0h2m1 0h5m1 0h1m2 0h4m1 0h1m1 0h1m1 0h3m1 0h4m1 0h4m1 0h1m3 0h2m1 0h6m1 0h3m1 0h1m2 0h3m1 0h2m1 0h3m1 0h1m1 0h3m1 0h3m1 0h1m2 0h1m1 0h1m1 0h5m1 0h3m1 0h3m1 0h1m1 0h1m1 0h1m1 0h1m1 0h8m1 0h4m1 0h2m2 0h2m1 0h4m1 0h2m4 0h7m1 0h5m1 0h2m3 0h2m2 0h1m2 0h7m1 0h5m1 0h2m1 0h1m1 0h2m3 0h5m3 0h3m1 0h5m1 0h10m1 0h1m2 0h1m2 0h4m1 0h1m2 0h2m1 0h2m1 0h2m1 0h2m1 0h2m1 0h2m1 0h3m1 0h2m1 0h3m1 0h5m3 0h6m1 0h2m2 0h1m1 0h1m1 0h7m2 0h3m1 0h1m1 0h3m1 0h5m3 0h3m1 0h1m1 0h3M0 358.15h1m2 0h2m1 0h1m3 0h6m1 0h4m1 0h2m1 0h3m1 0h1m1 0h2m2 0h3m1 0h7m3 0h1m3 0h1m1 0h9m2 0h2m1 0h1m1 0h1m1 0h8m1 0h1m1 0h2m1 0h3m1 0h2m1 0h3m1 0h2m3 0h8m1 0h1m1 0h5m2 0h1m1 0h2m1 0h2m2 0h1m1 0h1m1 0h3m1 0h5m1 0h1m2 0h4m1 0h2m1 0h3m1 0h2m1 0h1m1 0h2m2 0h5m1 0h4m1 0h1m1 0h3m1 0h3m2 0h4m1 0h1m1 0h2m1 0h1m1 0h5m1 0h6m1 0h1m1 0h4m3 0h1m1 0h3m2 0h5m2 0h4m1 0h2m1 0h4m1 0h1m1 0h1m1 0h4m3 0h1m3 0h6m1 0h3m1 0h2m1 0h1m1 0h3m1 0h5m3 0h5m1 0h2m1 0h4m2 0h7m1 0h1m2 0h3m1 0h2m2 0h4m2 0h2m3 0h6m1 0h1m1 0h4m1 0h5m1 0h1m1 0h1m1 0h3m1 0h1m2 0h4m2 0h6m1 0h3m1 0h2m1 0h3m2 0h2m1 0h2M0 351.55h1m2 0h5m1 0h2m3 0h7m2 0h4m1 0h1m1 0h1m2 0h3m2 0h6m1 0h1m1 0h1m2 0h8m3 0h3m2 0h9m2 0h2m1 0h3m1 0h2m2 0h1m1 0h5m1 0h1m1 0h3m1 0h3m1 0h1m1 0h3m3 0h4m1 0h4m1 0h2m1 0h3m4 0h6m1 0h1m1 0h3m1 0h1m1 0h3m1 0h1m2 0h6m1 0h5m1 0h1m1 0h1m1 0h1m1 0h4m1 0h1m1 0h4m1 0h2m1 0h1m2 0h5m2 0h6m2 0h2m1 0h1m2 0h4m1 0h4m1 0h1m2 0h9m1 0h1m3 0h2m1 0h1m1 0h1m1 0h4m1 0h4m2 0h3m1 0h1m3 0h5m1 0h1m1 0h1m1 0h1m1 0h7m1 0h1m1 0h1m1 0h1m1 0h2m2 0h7m1 0h1m1 0h2m1 0h1m1 0h3m1 0h4m1 0h2m1 0h4m3 0h11m1 0h1m2 0h1m2 0h4m1 0h2m1 0h1m1 0h5m1 0h2m1 0h9m1 0h1m1 0h1m4 0h3m1 0h1m1 0h1m1 0h5m1 0h1M0 344.95h1m1 0h1m2 0h2m1 0h3m1 0h3m3 0h1m1 0h3m1 0h6m1 0h2m1 0h1m1 0h3m1 0h3m1 0h3m1 0h2m1 0h2m2 0h7m4 0h2m2 0h2m1 0h9m1 0h1m1 0h7m3 0h5m1 0h2m2 0h1m1 0h4m1 0h1m1 0h2m1 0h4m1 0h1m1 0h1m1 0h3m1 0h1m1 0h2m1 0h3m2 0h3m2 0h1m1 0h2m1 0h2m1 0h4m1 0h5m2 0h1m1 0h1m1 0h2m1 0h7m1 0h1m2 0h3m1 0h4m1 0h3m1 0h2m1 0h1m1 0h1m1 0h2m1 0h7m1 0h3m1 0h1m1 0h2m2 0h2m1 0h1m1 0h1m1 0h7m3 0h4m1 0h1m1 0h1m1 0h2m1 0h3m1 0h1m1 0h3m1 0h4m1 0h2m2 0h2m1 0h4m1 0h1m2 0h2m1 0h2m1 0h2m1 0h3m2 0h4m1 0h3m3 0h2m1 0h3m1 0h6m2 0h2m1 0h2m1 0h6m2 0h3m1 0h1m1 0h2m2 0h7m1 0h2m1 0h2m1 0h1m1 0h4m2 0h2m2 0h2m1 0h1m1 0h7m3 0h4m1 0h4m1 0h2M1 338.35h1m1 0h3m1 0h1m2 0h3m1 0h3m1 0h2m1 0h2m1 0h2m1 0h3m1 0h2m1 0h1m1 0h5m1 0h1m2 0h4m1 0h3m3 0h6m1 0h5m1 0h2m1 0h1m1 0h1m2 0h4m1 0h4m2 0h2m2 0h8m1 0h1m1 0h4m3 0h7m3 0h2m1 0h3m1 0h1m1 0h2m1 0h4m1 0h4m3 0h2m1 0h2m1 0h2m1 0h2m1 0h3m1 0h2m3 0h5m1 0h2m1 0h2m2 0h2m1 0h1m2 0h10m1 0h5m1 0h2m1 0h1m1 0h1m1 0h2m1 0h6m2 0h2m2 0h6m1 0h1m1 0h4m3 0h5m1 0h2m3 0h2m1 0h3m1 0h1m3 0h2m2 0h7m1 0h2m1 0h2m1 0h1m1 0h1m1 0h7m1 0h5m1 0h1m1 0h2m1 0h1m1 0h3m2 0h5m2 0h3m1 0h5m1 0h1m1 0h3m1 0h1m1 0h1m2 0h6m1 0h2m1 0h2m2 0h1m1 0h1m1 0h5m1 0h2m1 0h3m2 0h4m1 0h5m1 0h2m2 0h2m1 0h4m2 0h3m2 0h2M0 331.75h1m1 0h1m2 0h1m1 0h7m2 0h3m1 0h4m3 0h2m1 0h2m1 0h1m2 0h3m1 0h5m1 0h6m1 0h1m2 0h2m1 0h1m1 0h9m2 0h3m1 0h2m2 0h4m1 0h1m1 0h2m1 0h3m2 0h4m1 0h2m1 0h1m1 0h2m1 0h3m2 0h1m1 0h4m1 0h4m2 0h3m2 0h6m2 0h2m2 0h8m3 0h1m1 0h2m1 0h5m1 0h1m2 0h2m1 0h4m1 0h2m1 0h4m2 0h3m2 0h4m1 0h2m2 0h1m2 0h8m1 0h3m1 0h2m2 0h3m1 0h2m1 0h2m1 0h3m2 0h5m5 0h9m1 0h4m1 0h2m3 0h6m3 0h2m2 0h6m1 0h3m2 0h4m1 0h2m2 0h1m1 0h12m1 0h1m1 0h1m2 0h1m1 0h4m1 0h4m1 0h3m3 0h1m2 0h1m1 0h4m1 0h4m1 0h7m1 0h1m1 0h2m1 0h1m2 0h2m1 0h2m1 0h4m1 0h1m1 0h2m1 0h1m1 0h7m2 0h2m2 0h2M1 325.15h2m1 0h2m2 0h6m3 0h1m1 0h1m1 0h5m1 0h2m1 0h2m1 0h1m1 0h6m2 0h2m1 0h3m1 0h4m2 0h2m1 0h2m1 0h3m3 0h2m1 0h4m1 0h4m3 0h1m1 0h9m1 0h4m1 0h3m2 0h2m2 0h3m1 0h2m2 0h6m2 0h4m1 0h1m2 0h3m2 0h5m1 0h1m1 0h3m1 0h3m2 0h1m1 0h5m1 0h2m1 0h4m1 0h2m2 0h4m1 0h4m2 0h4m2 0h3m1 0h1m1 0h5m1 0h2m3 0h2m1 0h6m1 0h1m1 0h1m1 0h1m2 0h8m3 0h3m2 0h2m1 0h3m1 0h1m1 0h7m2 0h2m1 0h5m2 0h1m2 0h1m1 0h3m1 0h5m1 0h1m1 0h2m1 0h7m1 0h3m3 0h3m3 0h1m1 0h5m1 0h5m1 0h4m2 0h2m2 0h3m3 0h7m1 0h1m1 0h3m2 0h3m3 0h7m2 0h7m2 0h4m2 0h3m1 0h1m1 0h4m1 0h1m1 0h2M0 318.55h1m1 0h1m2 0h1m1 0h4m1 0h1m1 0h3m1 0h2m1 0h5m3 0h9m1 0h2m1 0h1m1 0h1m2 0h1m1 0h7m2 0h1m1 0h2m1 0h10m3 0h1m2 0h3m1 0h1m2 0h4m1 0h1m1 0h4m2 0h4m3 0h12m1 0h3m4 0h2m3 0h6m1 0h4m3 0h3m1 0h2m1 0h5m1 0h1m1 0h3m1 0h1m1 0h1m2 0h5m1 0h5m1 0h1m2 0h4m1 0h2m1 0h3m3 0h4m1 0h1m1 0h5m1 0h4m1 0h1m1 0h1m1 0h3m1 0h2m2 0h1m1 0h1m1 0h4m1 0h4m2 0h4m1 0h5m2 0h3m1 0h1m3 0h4m2 0h3m1 0h2m1 0h1m2 0h1m1 0h8m1 0h1m2 0h3m1 0h4m1 0h5m1 0h2m1 0h6m4 0h1m1 0h4m2 0h2m1 0h7m2 0h1m1 0h2m1 0h1m1 0h6m1 0h2m1 0h6m2 0h1m2 0h3m1 0h5m1 0h1m1 0h2m1 0h3m1 0h2m2 0h4m1 0h1m1 0h1M1 311.95h1m1 0h1m2 0h5m2 0h5m2 0h3m1 0h2m2 0h4m1 0h2m1 0h3m1 0h6m3 0h2m1 0h3m1 0h2m2 0h4m1 0h2m1 0h1m2 0h7m1 0h2m1 0h2m1 0h1m1 0h3m1 0h4m1 0h1m2 0h2m1 0h1m1 0h3m1 0h4m3 0h7m1 0h2m1 0h5m2 0h3m2 0h2m1 0h1m1 0h4m1 0h2m1 0h3m3 0h3m2 0h8m2 0h2m1 0h2m2 0h1m1 0h1m1 0h3m1 0h7m1 0h1m1 0h1m1 0h6m2 0h3m1 0h1m1 0h1m1 0h2m1 0h1m1 0h15m5 0h2m2 0h4m2 0h2m1 0h3m1 0h3m1 0h2m1 0h1m1 0h3m2 0h2m2 0h4m2 0h1m1 0h8m1 0h2m1 0h3m1 0h2m2 0h1m2 0h3m1 0h4m1 0h4m1 0h5m2 0h3m2 0h1m1 0h3m1 0h1m1 0h4m2 0h3m1 0h7m2 0h5m1 0h1m4 0h7m1 0h2m1 0h1m1 0h5m1 0h1m3 0h2m1 0h4M0 305.35h2m1 0h1m4 0h7m2 0h1m1 0h5m1 0h4m1 0h1m1 0h2m2 0h4m1 0h1m1 0h1m1 0h3m2 0h2m1 0h3m1 0h2m1 0h7m1 0h3m2 0h2m1 0h4m2 0h2m2 0h2m2 0h1m1 0h3m1 0h1m2 0h3m1 0h2m1 0h5m1 0h2m2 0h2m1 0h1m1 0h5m1 0h1m1 0h1m1 0h5m1 0h1m1 0h3m2 0h1m1 0h1m2 0h2m2 0h15m1 0h1m2 0h2m2 0h2m1 0h2m1 0h3m2 0h1m1 0h5m2 0h1m1 0h1m1 0h7m1 0h6m3 0h2m1 0h1m1 0h3m3 0h5m1 0h2m1 0h3m1 0h5m1 0h2m2 0h1m1 0h3m2 0h1m1 0h8m1 0h1m4 0h3m3 0h11m2 0h4m1 0h3m2 0h2m1 0h8m1 0h1m1 0h1m2 0h2m2 0h2m2 0h7m1 0h1m3 0h1m1 0h3m1 0h6m1 0h1m1 0h4m1 0h3m1 0h1m1 0h2m1 0h2m1 0h2m2 0h5m1 0h4m1 0h5m3 0h1m1 0h3M0 298.75h1m1 0h2m3 0h5m1 0h1m1 0h1m1 0h4m1 0h1m1 0h2m1 0h2m1 0h2m1 0h3m2 0h1m2 0h7m1 0h6m3 0h1m1 0h7m1 0h1m1 0h1m1 0h2m1 0h4m1 0h2m1 0h1m2 0h1m1 0h3m1 0h5m1 0h5m2 0h2m2 0h3m1 0h5m3 0h2m1 0h5m2 0h2m1 0h1m1 0h2m2 0h5m1 0h1m1 0h1m1 0h7m1 0h1m1 0h4m1 0h2m1 0h1m3 0h8m1 0h2m3 0h5m1 0h2m1 0h4m1 0h1m1 0h2m1 0h1m1 0h1m1 0h3m1 0h1m1 0h2m1 0h3m1 0h2m1 0h3m1 0h3m1 0h3m1 0h1m1 0h3m1 0h3m1 0h3m1 0h2m1 0h1m1 0h2m2 0h1m1 0h4m2 0h1m1 0h2m2 0h6m2 0h2m1 0h5m1 0h5m1 0h2m3 0h5m1 0h2m1 0h1m1 0h1m1 0h4m1 0h1m1 0h1m1 0h7m2 0h1m1 0h1m1 0h2m1 0h4m1 0h2m1 0h1m1 0h2m1 0h4m1 0h4m2 0h1m1 0h4m1 0h3m1 0h1m1 0h4m1 0h1m1 0h2m1 0h1m1 0h1m1 0h1m1 0h6M0 292.15h1m1 0h1m1 0h3m1 0h2m2 0h3m1 0h1m1 0h1m1 0h1m1 0h1m2 0h10m2 0h1m2 0h2m1 0h8m1 0h2m1 0h1m1 0h4m1 0h1m1 0h5m2 0h2m3 0h4m1 0h1m1 0h3m2 0h2m1 0h7m1 0h1m1 0h5m1 0h1m1 0h2m2 0h2m1 0h1m2 0h4m1 0h4m1 0h1m2 0h5m2 0h4m2 0h1m2 0h4m1 0h6m1 0h1m1 0h6m3 0h4m2 0h2m1 0h3m1 0h2m1 0h4m1 0h3m2 0h5m1 0h2m2 0h2m2 0h2m1 0h4m1 0h4m1 0h1m1 0h1m1 0h1m1 0h2m1 0h1m1 0h6m1 0h1m1 0h3m1 0h1m1 0h4m1 0h3m1 0h1m1 0h2m2 0h4m2 0h4m1 0h3m2 0h1m2 0h6m1 0h1m2 0h6m1 0h1m1 0h1m1 0h2m1 0h5m1 0h2m2 0h6m2 0h1m1 0h2m1 0h2m1 0h7m3 0h1m1 0h3m1 0h5m1 0h2m1 0h2m1 0h1m2 0h5m1 0h1m1 0h1m1 0h2m1 0h5m1 0h3m1 0h4m1 0h1m1 0h1m2 0h2M1 285.55h5m3 0h5m3 0h2m1 0h1m2 0h8m1 0h2m1 0h1m1 0h1m1 0h1m1 0h6m1 0h1m1 0h3m2 0h1m1 0h5m1 0h3m1 0h1m2 0h5m2 0h5m2 0h2m2 0h1m1 0h8m1 0h1m1 0h4m1 0h2m1 0h1m1 0h3m1 0h2m3 0h3m1 0h4m1 0h2m2 0h5m3 0h3m3 0h3m1 0h5m1 0h3m1 0h7m1 0h2m1 0h2m2 0h7m1 0h1m2 0h1m1 0h2m1 0h1m1 0h2m1 0h1m1 0h5m1 0h2m1 0h2m2 0h3m1 0h3m1 0h3m3 0h4m1 0h1m1 0h1m1 0h9m2 0h3m2 0h3m1 0h1m2 0h7m1 0h2m1 0h1m2 0h2m1 0h3m3 0h4m1 0h5m4 0h5m1 0h7m1 0h2m1 0h2m3 0h5m1 0h5m1 0h2m2 0h1m1 0h1m1 0h7m1 0h2m1 0h2m2 0h4m1 0h3m1 0h1m1 0h1m1 0h2m1 0h6m1 0h1m1 0h2m2 0h1m1 0h4m2 0h1m1 0h1m1 0h4m1 0h2M0 278.95h3m1 0h1m1 0h3m2 0h2m2 0h1m3 0h2m2 0h9m1 0h3m3 0h5m1 0h9m1 0h2m1 0h1m1 0h1m1 0h1m1 0h2m1 0h4m1 0h5m3 0h3m1 0h1m1 0h2m1 0h3m1 0h1m1 0h5m3 0h1m2 0h12m1 0h1m2 0h2m1 0h1m1 0h4m1 0h1m2 0h2m1 0h2m2 0h4m1 0h3m1 0h1m2 0h5m1 0h1m1 0h3m1 0h7m3 0h1m1 0h1m1 0h2m1 0h4m2 0h7m2 0h1m1 0h4m1 0h1m1 0h2m2 0h1m1 0h2m1 0h4m1 0h3m1 0h4m1 0h1m2 0h5m1 0h2m1 0h1m1 0h3m1 0h2m1 0h1m1 0h3m2 0h4m1 0h2m2 0h3m1 0h4m2 0h1m1 0h5m1 0h2m1 0h4m1 0h1m1 0h2m1 0h4m2 0h5m1 0h2m1 0h1m1 0h3m2 0h1m3 0h1m2 0h16m1 0h2m1 0h2m4 0h1m1 0h2m1 0h5m1 0h3m1 0h5m2 0h1m2 0h1m1 0h7m1 0h5m1 0h1m2 0h1m1 0h1M0 272.35h1m1 0h2m1 0h4m1 0h1m3 0h4m3 0h1m1 0h4m1 0h6m1 0h1m1 0h5m1 0h1m1 0h1m1 0h1m1 0h1m3 0h4m1 0h9m1 0h2m1 0h1m1 0h1m1 0h2m1 0h3m4 0h6m1 0h4m1 0h1m1 0h7m1 0h3m2 0h1m1 0h2m1 0h5m1 0h3m2 0h3m2 0h1m1 0h2m1 0h1m2 0h8m1 0h2m3 0h1m1 0h3m1 0h3m1 0h1m1 0h4m1 0h2m1 0h1m1 0h4m1 0h2m2 0h3m1 0h5m1 0h7m1 0h1m3 0h1m1 0h2m2 0h3m2 0h6m1 0h3m1 0h1m1 0h2m1 0h4m1 0h2m1 0h5m1 0h4m3 0h3m1 0h2m1 0h2m4 0h6m1 0h5m2 0h1m1 0h1m1 0h1m2 0h2m1 0h6m1 0h3m1 0h2m1 0h1m3 0h1m1 0h8m1 0h1m2 0h2m1 0h1m1 0h6m1 0h2m1 0h4m1 0h1m1 0h3m1 0h4m1 0h3m1 0h1m1 0h1m1 0h1m1 0h2m2 0h1m1 0h7m1 0h3m1 0h3m1 0h5m1 0h3M1 265.75h1m1 0h2m2 0h1m1 0h3m1 0h4m1 0h3m1 0h3m1 0h1m1 0h2m1 0h4m1 0h1m1 0h1m1 0h2m2 0h10m1 0h2m2 0h2m1 0h1m1 0h1m2 0h1m1 0h6m2 0h5m1 0h4m2 0h2m1 0h2m1 0h4m1 0h4m1 0h1m1 0h3m2 0h3m1 0h3m1 0h1m1 0h1m1 0h2m1 0h4m1 0h4m3 0h1m1 0h1m1 0h10m3 0h1m2 0h7m2 0h1m2 0h1m1 0h4m1 0h2m2 0h1m1 0h4m1 0h3m1 0h3m1 0h2m1 0h6m2 0h3m1 0h2m1 0h4m3 0h7m1 0h4m2 0h2m4 0h3m2 0h5m1 0h4m1 0h1m1 0h2m1 0h1m1 0h1m1 0h3m1 0h1m1 0h2m3 0h3m1 0h6m2 0h1m1 0h1m1 0h8m1 0h3m2 0h3m1 0h5m2 0h1m1 0h1m1 0h6m3 0h5m1 0h1m1 0h4m1 0h1m1 0h3m1 0h2m1 0h5m2 0h3m1 0h1m1 0h5m1 0h1m1 0h2m1 0h3m1 0h1m2 0h1m1 0h5m3 0h5M0 259.15h2m1 0h1m1 0h1m1 0h2m2 0h2m1 0h3m1 0h3m1 0h2m1 0h3m1 0h2m2 0h1m1 0h2m1 0h7m1 0h1m2 0h3m1 0h1m2 0h5m1 0h3m1 0h1m2 0h1m1 0h8m1 0h4m2 0h1m1 0h2m1 0h3m1 0h7m3 0h3m1 0h2m1 0h1m1 0h2m3 0h2m1 0h8m4 0h2m1 0h4m1 0h4m1 0h4m1 0h1m1 0h4m2 0h6m1 0h2m1 0h1m1 0h1m1 0h1m1 0h4m1 0h1m1 0h4m1 0h1m2 0h2m1 0h2m1 0h1m1 0h1m1 0h3m1 0h7m1 0h1m1 0h1m1 0h2m1 0h3m1 0h2m1 0h4m1 0h3m3 0h7m1 0h1m1 0h1m2 0h1m1 0h3m2 0h1m2 0h1m1 0h2m1 0h11m3 0h5m1 0h1m1 0h1m1 0h2m2 0h3m1 0h2m1 0h6m1 0h4m1 0h1m2 0h3m1 0h3m3 0h7m2 0h1m1 0h3m1 0h4m1 0h1m1 0h3m1 0h8m2 0h3m3 0h1m2 0h5m1 0h1m1 0h4m4 0h1m1 0h9m1 0h1M0 252.55h6m2 0h1m3 0h2m1 0h3m2 0h6m3 0h3m2 0h4m1 0h1m1 0h2m1 0h5m2 0h1m1 0h5m2 0h5m2 0h3m1 0h2m1 0h2m1 0h3m1 0h3m1 0h1m1 0h2m1 0h1m1 0h9m2 0h1m2 0h2m1 0h3m1 0h3m2 0h3m1 0h4m1 0h1m2 0h2m1 0h2m1 0h4m2 0h5m1 0h1m1 0h1m2 0h1m1 0h9m2 0h2m3 0h5m1 0h8m1 0h1m2 0h2m1 0h1m3 0h2m1 0h1m1 0h11m1 0h3m1 0h2m3 0h7m2 0h2m3 0h4m1 0h2m2 0h3m1 0h4m1 0h5m3 0h1m1 0h5m2 0h1m1 0h2m1 0h3m1 0h1m1 0h1m1 0h6m1 0h3m1 0h1m1 0h4m1 0h1m1 0h4m1 0h1m2 0h4m2 0h3m2 0h6m1 0h1m1 0h3m2 0h2m1 0h1m1 0h4m1 0h1m1 0h10m1 0h2m4 0h2m1 0h4m2 0h1m1 0h5m1 0h3m2 0h1m1 0h4m1 0h2m1 0h2M0 245.95h1m1 0h3m3 0h3m1 0h3m3 0h6m2 0h3m1 0h4m1 0h5m3 0h4m1 0h1m2 0h2m1 0h7m2 0h2m1 0h3m1 0h3m1 0h1m1 0h2m1 0h1m1 0h1m1 0h1m1 0h5m1 0h1m1 0h3m1 0h2m2 0h3m1 0h5m1 0h1m1 0h1m2 0h5m2 0h5m1 0h1m1 0h2m1 0h4m2 0h1m1 0h8m2 0h3m3 0h3m1 0h1m3 0h2m1 0h8m1 0h2m1 0h4m2 0h3m1 0h5m1 0h1m3 0h3m1 0h6m1 0h1m2 0h4m1 0h1m1 0h6m2 0h3m1 0h4m3 0h2m1 0h4m1 0h3m1 0h2m1 0h2m1 0h2m1 0h4m1 0h1m2 0h1m1 0h4m2 0h3m3 0h4m1 0h1m1 0h3m2 0h6m1 0h6m2 0h2m2 0h4m1 0h1m1 0h1m1 0h2m1 0h4m1 0h2m1 0h5m1 0h2m2 0h1m2 0h5m1 0h1m1 0h2m3 0h12m1 0h1m1 0h1m1 0h1m1 0h2m1 0h1m2 0h4m1 0h3m1 0h3m1 0h1M2 239.35h3m1 0h4m2 0h1m1 0h8m2 0h2m2 0h3m2 0h3m1 0h1m1 0h3m2 0h5m1 0h2m1 0h2m1 0h4m2 0h2m2 0h3m1 0h6m2 0h2m2 0h6m2 0h3m1 0h6m1 0h5m2 0h1m1 0h1m1 0h1m2 0h7m3 0h3m1 0h2m1 0h2m2 0h1m1 0h1m1 0h6m2 0h8m1 0h1m2 0h5m1 0h2m1 0h1m1 0h2m1 0h1m1 0h4m1 0h2m1 0h2m2 0h2m1 0h9m1 0h1m3 0h2m1 0h2m2 0h1m1 0h5m2 0h4m1 0h1m1 0h3m1 0h2m1 0h3m1 0h4m1 0h2m1 0h4m1 0h2m2 0h1m4 0h3m1 0h2m1 0h9m1 0h1m1 0h1m2 0h4m1 0h4m1 0h2m2 0h3m2 0h2m1 0h2m1 0h2m1 0h1m1 0h6m1 0h2m1 0h3m3 0h4m1 0h3m1 0h4m1 0h1m2 0h2m1 0h4m1 0h4m1 0h1m1 0h2m2 0h4m3 0h6m1 0h1m1 0h3m1 0h4m1 0h1m3 0h6M0 232.75h3m1 0h2m4 0h1m1 0h5m1 0h1m1 0h1m1 0h3m1 0h5m2 0h2m1 0h4m2 0h2m1 0h3m2 0h1m1 0h5m1 0h5m1 0h1m2 0h5m1 0h2m1 0h2m1 0h1m1 0h7m2 0h1m1 0h3m1 0h8m2 0h1m3 0h4m2 0h6m1 0h2m1 0h1m2 0h2m2 0h3m2 0h5m1 0h1m1 0h2m2 0h2m1 0h5m1 0h1m1 0h1m1 0h1m2 0h3m1 0h8m1 0h3m2 0h4m1 0h1m1 0h5m1 0h2m1 0h1m1 0h1m2 0h3m1 0h1m2 0h7m1 0h1m1 0h3m2 0h3m1 0h3m2 0h7m2 0h3m1 0h1m2 0h5m3 0h4m3 0h7m2 0h5m1 0h2m1 0h1m1 0h2m1 0h1m1 0h5m1 0h1m1 0h2m1 0h6m1 0h1m1 0h1m1 0h4m3 0h2m1 0h2m1 0h4m1 0h1m1 0h4m2 0h4m2 0h1m1 0h9m2 0h5m2 0h1m1 0h2m1 0h4m1 0h2m2 0h1m1 0h2m3 0h3m1 0h1m1 0h7M0 226.15h3m1 0h1m1 0h3m2 0h3m2 0h4m1 0h1m1 0h3m2 0h2m1 0h1m1 0h2m3 0h4m1 0h8m1 0h2m1 0h1m2 0h5m1 0h1m1 0h1m1 0h3m1 0h2m1 0h3m1 0h3m2 0h3m1 0h4m1 0h2m1 0h5m1 0h1m1 0h1m2 0h3m1 0h1m1 0h2m2 0h4m2 0h9m4 0h1m1 0h3m1 0h3m1 0h5m1 0h1m1 0h2m2 0h3m1 0h4m2 0h2m1 0h4m2 0h1m1 0h5m3 0h6m1 0h1m1 0h2m2 0h5m1 0h3m2 0h1m1 0h1m1 0h8m1 0h1m2 0h2m1 0h3m1 0h2m1 0h3m1 0h5m2 0h2m2 0h5m1 0h1m2 0h4m1 0h3m1 0h1m1 0h2m1 0h5m2 0h2m1 0h2m1 0h7m2 0h2m3 0h2m2 0h2m1 0h5m1 0h2m1 0h5m3 0h2m1 0h5m1 0h1m1 0h1m1 0h1m1 0h4m1 0h4m1 0h6m3 0h2m2 0h4m1 0h1m1 0h4m1 0h4m1 0h2m2 0h2m1 0h2m1 0h2m2 0h5M0 219.55h1m2 0h2m1 0h2m1 0h3m2 0h4m1 0h4m2 0h3m1 0h2m1 0h1m1 0h1m1 0h3m1 0h3m2 0h3m1 0h5m2 0h4m2 0h5m1 0h2m1 0h2m2 0h3m1 0h7m1 0h1m1 0h1m1 0h1m1 0h1m1 0h1m1 0h3m2 0h4m1 0h3m1 0h2m2 0h6m1 0h2m1 0h2m1 0h3m1 0h2m2 0h1m1 0h1m1 0h3m1 0h1m2 0h6m1 0h3m2 0h1m1 0h7m1 0h2m1 0h1m2 0h1m2 0h3m1 0h5m1 0h3m1 0h4m1 0h5m4 0h2m1 0h3m2 0h2m1 0h2m1 0h5m1 0h1m2 0h6m1 0h1m1 0h3m2 0h3m2 0h7m1 0h1m1 0h3m1 0h1m3 0h2m1 0h6m2 0h4m1 0h1m1 0h1m1 0h2m1 0h4m1 0h2m2 0h5m4 0h2m1 0h5m1 0h4m1 0h5m4 0h6m2 0h6m1 0h1m1 0h4m1 0h3m2 0h6m1 0h2m2 0h4m1 0h3m1 0h3m1 0h1m4 0h1m1 0h6m2 0h4M0 212.95h1m1 0h2m2 0h1m2 0h2m1 0h10m1 0h3m2 0h2m2 0h1m1 0h1m1 0h3m2 0h4m1 0h5m2 0h1m1 0h4m1 0h3m2 0h3m1 0h1m1 0h5m2 0h2m1 0h7m1 0h1m2 0h3m1 0h2m1 0h1m2 0h1m1 0h7m3 0h3m2 0h6m1 0h2m1 0h4m2 0h5m2 0h1m2 0h2m1 0h1m1 0h7m2 0h1m1 0h4m2 0h1m1 0h3m1 0h7m1 0h1m1 0h1m2 0h1m1 0h6m2 0h2m2 0h1m1 0h14m2 0h3m3 0h1m1 0h4m1 0h2m1 0h1m1 0h2m1 0h2m3 0h2m1 0h2m1 0h9m1 0h1m1 0h2m2 0h1m1 0h3m2 0h1m1 0h5m1 0h1m1 0h4m3 0h1m1 0h10m2 0h1m1 0h2m1 0h4m1 0h3m1 0h1m1 0h2m1 0h4m2 0h3m1 0h1m1 0h2m1 0h1m1 0h4m3 0h7m2 0h3m1 0h3m1 0h1m1 0h2m1 0h1m1 0h4m1 0h1m1 0h4m1 0h4m2 0h2m1 0h1m1 0h1m1 0h4M0 206.35h2m1 0h3m1 0h2m2 0h2m2 0h1m1 0h1m1 0h1m1 0h8m2 0h2m1 0h1m1 0h7m2 0h1m1 0h1m1 0h1m3 0h9m1 0h1m1 0h1m2 0h3m1 0h6m1 0h1m1 0h1m1 0h4m1 0h4m2 0h3m1 0h2m2 0h1m1 0h6m1 0h3m1 0h5m2 0h2m1 0h2m1 0h3m2 0h3m1 0h3m3 0h1m1 0h4m1 0h1m1 0h3m1 0h2m1 0h2m1 0h5m1 0h4m2 0h1m1 0h1m1 0h2m1 0h2m1 0h1m1 0h5m1 0h2m1 0h3m1 0h1m1 0h3m1 0h1m1 0h3m1 0h1m1 0h1m3 0h7m2 0h3m1 0h3m1 0h1m1 0h5m1 0h2m1 0h2m1 0h3m1 0h2m1 0h3m1 0h2m1 0h2m3 0h1m1 0h6m2 0h3m2 0h2m1 0h7m1 0h1m2 0h4m1 0h2m1 0h2m1 0h2m1 0h1m2 0h2m1 0h5m2 0h3m1 0h1m1 0h1m1 0h5m1 0h6m1 0h1m1 0h1m1 0h3m1 0h3m1 0h4m1 0h1m1 0h3m2 0h2m2 0h1m1 0h2m1 0h5m1 0h3m1 0h2m1 0h2m2 0h1m1 0h4M2 199.75h3m1 0h2m2 0h1m1 0h6m1 0h4m2 0h3m1 0h1m1 0h1m1 0h1m1 0h3m1 0h5m2 0h3m1 0h2m1 0h3m2 0h3m1 0h4m1 0h1m1 0h4m1 0h3m1 0h1m2 0h2m1 0h2m1 0h2m1 0h4m1 0h2m1 0h5m1 0h3m2 0h2m3 0h2m1 0h3m1 0h3m1 0h6m2 0h1m1 0h2m2 0h4m1 0h2m2 0h1m1 0h1m1 0h6m1 0h4m1 0h3m1 0h1m1 0h1m2 0h5m1 0h2m1 0h3m2 0h3m1 0h2m2 0h1m1 0h6m1 0h3m1 0h2m1 0h3m2 0h4m1 0h2m2 0h1m1 0h6m1 0h1m1 0h3m2 0h1m1 0h1m1 0h2m1 0h6m1 0h1m1 0h1m1 0h2m1 0h2m1 0h1m2 0h4m1 0h2m2 0h5m2 0h6m3 0h4m1 0h2m1 0h5m1 0h2m1 0h1m1 0h5m2 0h2m1 0h4m1 0h2m1 0h1m1 0h3m2 0h2m1 0h5m1 0h1m2 0h3m1 0h2m2 0h9m2 0h2m3 0h3m1 0h3m1 0h4m2 0h5m2 0h2m1 0h3M2 193.15h1m1 0h4m1 0h4m1 0h1m1 0h1m1 0h4m1 0h2m1 0h1m2 0h5m1 0h2m1 0h1m1 0h5m1 0h1m2 0h1m1 0h6m1 0h4m3 0h3m1 0h1m1 0h1m1 0h5m1 0h2m1 0h1m2 0h4m2 0h8m1 0h1m1 0h3m2 0h2m1 0h4m1 0h2m1 0h4m1 0h1m1 0h2m2 0h3m1 0h4m1 0h2m1 0h1m2 0h3m1 0h1m1 0h1m1 0h1m1 0h4m1 0h2m1 0h1m1 0h5m1 0h1m1 0h3m1 0h1m1 0h5m1 0h1m1 0h1m2 0h5m2 0h2m1 0h6m1 0h1m1 0h1m3 0h3m1 0h1m1 0h9m3 0h1m1 0h2m1 0h6m1 0h2m1 0h4m1 0h2m2 0h4m1 0h1m3 0h3m2 0h4m1 0h1m1 0h4m1 0h6m4 0h4m1 0h3m1 0h4m1 0h4m2 0h5m1 0h1m1 0h1m1 0h5m2 0h2m3 0h8m1 0h1m3 0h1m1 0h5m1 0h3m1 0h2m1 0h3m1 0h1m1 0h2m2 0h3m1 0h6m2 0h9m2 0h1m1 0h1m1 0h1m1 0h1M1 186.55h1m1 0h1m2 0h2m1 0h4m1 0h6m2 0h3m1 0h4m2 0h1m1 0h4m1 0h1m2 0h5m1 0h2m1 0h3m1 0h3m1 0h1m2 0h8m1 0h1m2 0h2m2 0h2m1 0h4m1 0h1m1 0h4m1 0h2m1 0h3m1 0h5m3 0h2m1 0h3m3 0h8m1 0h1m2 0h1m1 0h1m1 0h3m1 0h4m1 0h1m1 0h2m1 0h2m1 0h1m3 0h7m1 0h1m2 0h2m1 0h5m1 0h4m1 0h1m1 0h5m2 0h3m3 0h4m1 0h2m1 0h5m1 0h3m1 0h4m1 0h1m2 0h1m1 0h3m1 0h7m2 0h3m2 0h1m1 0h3m1 0h3m1 0h2m1 0h2m1 0h2m1 0h3m5 0h10m1 0h2m1 0h2m1 0h2m2 0h2m2 0h7m1 0h1m1 0h1m2 0h5m3 0h1m1 0h8m1 0h3m3 0h2m1 0h4m1 0h4m1 0h1m1 0h1m1 0h3m1 0h2m1 0h9m2 0h1m2 0h2m4 0h4m1 0h5m4 0h3m1 0h8M0 179.95h1m2 0h2m1 0h2m2 0h2m1 0h3m1 0h1m1 0h2m1 0h7m1 0h1m2 0h1m1 0h3m1 0h2m1 0h4m1 0h4m1 0h1m2 0h3m1 0h1m1 0h5m1 0h1m1 0h4m2 0h1m1 0h3m1 0h4m1 0h2m1 0h1m2 0h4m2 0h4m1 0h4m1 0h2m1 0h2m1 0h1m1 0h3m2 0h5m1 0h1m2 0h5m2 0h2m1 0h3m1 0h3m1 0h6m2 0h1m2 0h5m2 0h1m1 0h3m1 0h2m1 0h4m1 0h5m1 0h3m3 0h1m1 0h3m1 0h1m1 0h1m1 0h4m1 0h3m2 0h3m1 0h5m2 0h1m1 0h2m1 0h3m3 0h8m1 0h1m1 0h4m1 0h2m1 0h2m1 0h3m1 0h1m2 0h6m3 0h3m1 0h1m1 0h1m1 0h3m1 0h3m1 0h1m1 0h1m2 0h2m1 0h1m1 0h9m1 0h4m1 0h2m1 0h2m4 0h2m1 0h3m2 0h10m1 0h2m2 0h4m2 0h2m1 0h2m1 0h5m2 0h1m1 0h3m1 0h3m1 0h4m1 0h1m1 0h2m1 0h2m1 0h3m2 0h6M0 173.35h3m3 0h5m1 0h1m1 0h1m1 0h2m1 0h5m1 0h2m2 0h1m1 0h1m2 0h3m1 0h5m1 0h1m1 0h7m2 0h3m1 0h1m1 0h2m2 0h1m2 0h1m1 0h3m1 0h6m2 0h1m1 0h3m1 0h6m1 0h2m2 0h3m3 0h10m2 0h1m1 0h2m1 0h5m1 0h1m1 0h5m2 0h2m1 0h2m2 0h2m1 0h4m1 0h2m1 0h1m1 0h2m2 0h1m2 0h1m1 0h2m1 0h7m1 0h2m1 0h1m1 0h4m1 0h4m1 0h6m1 0h2m3 0h1m1 0h7m1 0h3m2 0h3m2 0h2m1 0h1m1 0h4m2 0h3m1 0h1m4 0h8m1 0h3m1 0h1m1 0h1m1 0h2m2 0h1m1 0h11m1 0h3m1 0h1m1 0h1m2 0h2m1 0h1m1 0h3m2 0h5m2 0h1m1 0h2m1 0h2m1 0h3m1 0h5m1 0h1m1 0h3m1 0h1m1 0h1m1 0h4m3 0h5m1 0h1m1 0h9m1 0h2m1 0h2m2 0h2m1 0h2m1 0h3m2 0h2m2 0h4m2 0h9m3 0h2M2 166.75h1m2 0h2m2 0h9m1 0h5m1 0h1m3 0h10m1 0h2m2 0h2m3 0h4m1 0h4m1 0h1m1 0h1m1 0h3m3 0h3m1 0h1m1 0h5m1 0h4m2 0h1m2 0h10m1 0h3m1 0h3m3 0h5m1 0h2m1 0h1m1 0h4m2 0h1m2 0h4m1 0h2m1 0h1m1 0h1m1 0h7m2 0h1m1 0h4m2 0h1m2 0h3m1 0h2m1 0h4m1 0h5m4 0h3m1 0h4m1 0h5m1 0h4m3 0h3m1 0h1m1 0h1m2 0h7m1 0h3m4 0h2m1 0h10m1 0h1m2 0h1m1 0h1m1 0h7m2 0h1m1 0h4m1 0h1m2 0h3m1 0h2m1 0h1m2 0h2m1 0h5m1 0h3m1 0h1m2 0h6m1 0h5m2 0h5m1 0h1m2 0h1m1 0h2m1 0h3m1 0h2m1 0h2m1 0h4m2 0h3m1 0h3m1 0h1m1 0h2m2 0h7m1 0h1m1 0h1m1 0h4m2 0h4m2 0h1m1 0h5m1 0h2m1 0h3m1 0h1m1 0h1m1 0h3M0 160.15h1m2 0h1m2 0h2m1 0h6m2 0h6m2 0h4m1 0h1m2 0h3m1 0h3m1 0h3m2 0h6m3 0h6m2 0h2m1 0h1m1 0h3m2 0h1m1 0h9m1 0h2m1 0h1m2 0h1m1 0h5m1 0h2m1 0h2m2 0h1m1 0h9m2 0h5m3 0h2m1 0h2m2 0h3m2 0h1m1 0h3m2 0h3m1 0h1m1 0h3m1 0h4m3 0h6m1 0h3m1 0h5m1 0h3m1 0h2m1 0h1m1 0h2m1 0h2m2 0h4m1 0h1m1 0h3m1 0h2m1 0h1m1 0h2m1 0h2m1 0h2m1 0h3m1 0h4m1 0h5m1 0h1m1 0h1m1 0h1m1 0h7m1 0h3m4 0h5m2 0h2m1 0h1m1 0h2m1 0h1m1 0h5m2 0h2m2 0h3m3 0h5m1 0h6m1 0h1m1 0h2m3 0h4m1 0h4m1 0h5m3 0h1m1 0h6m1 0h1m2 0h4m1 0h1m1 0h5m1 0h5m2 0h2m1 0h2m1 0h1m1 0h9m4 0h2m1 0h3m1 0h2m1 0h4m1 0h1m1 0h1M0 153.55h5m1 0h1m1 0h1m2 0h1m1 0h2m1 0h1m1 0h4m3 0h1m1 0h7m1 0h4m2 0h3m2 0h2m2 0h2m1 0h7m2 0h3m1 0h1m1 0h2m1 0h2m1 0h5m1 0h2m1 0h1m1 0h7m2 0h1m1 0h1m2 0h4m1 0h3m1 0h1m1 0h3m1 0h6m2 0h2m1 0h1m1 0h6m2 0h2m1 0h1m1 0h1m1 0h1m1 0h1m1 0h2m1 0h4m1 0h2m1 0h1m1 0h1m4 0h7m1 0h5m2 0h4m1 0h2m1 0h3m1 0h1m1 0h1m1 0h1m1 0h2m1 0h7m1 0h1m2 0h7m1 0h2m1 0h1m2 0h7m2 0h1m1 0h1m1 0h2m2 0h2m1 0h5m2 0h4m1 0h7m1 0h1m1 0h1m3 0h4m4 0h5m1 0h4m1 0h1m1 0h2m1 0h7m2 0h1m3 0h4m1 0h3m1 0h3m2 0h6m1 0h2m2 0h5m3 0h1m1 0h4m1 0h8m1 0h1m1 0h5m1 0h1m2 0h3m1 0h5m1 0h1m3 0h2m1 0h3m1 0h6m2 0h1m1 0h1M0 146.95h1m3 0h1m1 0h6m1 0h1m1 0h4m3 0h1m1 0h1m1 0h8m1 0h1m1 0h2m1 0h1m1 0h2m1 0h4m1 0h1m3 0h6m1 0h4m1 0h3m2 0h4m1 0h1m1 0h2m1 0h4m1 0h1m1 0h3m1 0h3m1 0h2m1 0h4m1 0h1m1 0h4m2 0h4m2 0h3m2 0h1m1 0h3m1 0h1m3 0h4m1 0h1m1 0h4m3 0h3m1 0h2m1 0h6m1 0h2m1 0h2m2 0h3m1 0h9m1 0h2m2 0h2m1 0h1m1 0h3m1 0h2m1 0h3m1 0h2m1 0h2m1 0h2m2 0h3m1 0h2m1 0h4m2 0h3m1 0h1m1 0h4m2 0h3m1 0h3m1 0h2m2 0h4m1 0h5m2 0h3m1 0h1m1 0h1m1 0h2m1 0h1m1 0h2m1 0h1m1 0h7m2 0h1m2 0h2m1 0h3m1 0h5m1 0h3m1 0h2m1 0h2m3 0h6m1 0h2m1 0h2m1 0h2m1 0h3m1 0h5m1 0h5m1 0h1m3 0h3m1 0h1m1 0h5m2 0h2m1 0h1m1 0h5m1 0h2m1 0h2m1 0h1m3 0h4m1 0h2m1 0h4m1 0h1M0 140.35h3m1 0h2m2 0h3m1 0h1m2 0h2m2 0h1m1 0h2m1 0h6m1 0h2m1 0h1m1 0h3m1 0h3m2 0h3m1 0h4m1 0h3m2 0h1m1 0h4m1 0h4m2 0h2m1 0h2m1 0h3m2 0h1m1 0h4m1 0h3m1 0h5m1 0h2m1 0h1m1 0h3m1 0h2m1 0h1m1 0h3m1 0h2m1 0h3m1 0h2m3 0h2m1 0h2m1 0h6m2 0h7m1 0h1m1 0h1m2 0h1m1 0h1m1 0h1m1 0h4m1 0h4m1 0h1m1 0h4m2 0h1m1 0h2m1 0h4m1 0h3m1 0h3m3 0h1m1 0h7m1 0h1m1 0h1m1 0h4m1 0h2m1 0h1m1 0h2m1 0h2m1 0h2m2 0h6m1 0h2m1 0h2m3 0h7m1 0h2m2 0h1m1 0h2m1 0h3m1 0h1m1 0h1m1 0h1m1 0h8m1 0h1m1 0h1m1 0h3m1 0h1m1 0h3m2 0h3m1 0h1m1 0h2m1 0h5m2 0h5m2 0h2m1 0h3m1 0h2m1 0h2m1 0h2m2 0h7m2 0h5m1 0h4m2 0h4m6 0h1m1 0h12m1 0h3m1 0h2m1 0h1m2 0h3M0 133.75h1m1 0h2m1 0h1m1 0h1m1 0h1m1 0h1m1 0h3m1 0h3m1 0h3m3 0h6m1 0h3m1 0h2m2 0h1m1 0h5m1 0h3m1 0h3m2 0h4m2 0h1m2 0h5m1 0h1m1 0h12m2 0h1m2 0h1m1 0h2m1 0h3m1 0h7m3 0h1m1 0h2m2 0h3m1 0h1m1 0h8m1 0h3m4 0h2m1 0h8m5 0h4m1 0h1m1 0h2m1 0h3m1 0h5m1 0h1m1 0h1m1 0h7m1 0h1m1 0h1m1 0h1m1 0h1m1 0h2m1 0h4m1 0h1m1 0h3m1 0h2m3 0h5m1 0h6m1 0h1m1 0h1m1 0h2m1 0h3m1 0h1m1 0h5m2 0h2m2 0h9m2 0h2m1 0h1m2 0h1m1 0h8m1 0h1m1 0h1m1 0h2m2 0h1m1 0h1m2 0h6m1 0h1m1 0h5m1 0h4m1 0h4m3 0h1m1 0h2m1 0h5m3 0h3m1 0h3m1 0h3m1 0h1m1 0h2m1 0h3m1 0h5m1 0h1m1 0h1m1 0h3m1 0h1m1 0h4m1 0h1m2 0h4m1 0h2m1 0h4m1 0h2m2 0h1m1 0h3M4 127.15h7m2 0h8m1 0h3m2 0h1m1 0h1m1 0h8m3 0h1m1 0h1m1 0h3m1 0h1m1 0h1m1 0h3m1 0h4m1 0h1m1 0h3m1 0h3m2 0h5m1 0h3m1 0h1m2 0h1m1 0h2m1 0h7m1 0h2m1 0h3m1 0h2m1 0h1m1 0h1m1 0h1m1 0h2m1 0h3m1 0h3m1 0h1m1 0h1m1 0h7m2 0h1m2 0h2m2 0h7m1 0h1m1 0h1m1 0h1m1 0h2m2 0h2m1 0h3m1 0h5m2 0h3m1 0h3m1 0h2m1 0h3m1 0h2m1 0h1m2 0h1m1 0h7m1 0h5m1 0h2m1 0h1m1 0h1m1 0h3m2 0h7m2 0h2m2 0h5m1 0h1m1 0h1m1 0h3m1 0h1m1 0h3m1 0h3m1 0h3m1 0h1m3 0h3m1 0h4m1 0h3m1 0h1m1 0h1m1 0h3m1 0h2m1 0h1m1 0h3m1 0h2m1 0h1m1 0h4m2 0h4m1 0h6m1 0h1m1 0h1m1 0h2m1 0h2m1 0h4m1 0h2m2 0h2m1 0h2m1 0h1m1 0h6m2 0h1m1 0h4m2 0h2m2 0h2m1 0h5m1 0h2m1 0h7m1 0h2m3 0h2M0 120.55h4m1 0h1m2 0h2m2 0h3m1 0h3m1 0h1m1 0h1m1 0h4m2 0h4m2 0h1m2 0h6m1 0h5m2 0h1m1 0h4m1 0h2m1 0h1m1 0h6m1 0h2m1 0h1m1 0h2m1 0h5m1 0h1m3 0h1m1 0h4m1 0h1m1 0h8m1 0h1m2 0h3m1 0h2m1 0h3m1 0h1m1 0h1m1 0h3m1 0h2m1 0h2m2 0h1m2 0h10m3 0h3m1 0h1m1 0h1m2 0h5m1 0h1m1 0h5m2 0h3m1 0h3m1 0h3m2 0h4m2 0h2m2 0h3m1 0h4m2 0h2m2 0h2m1 0h8m1 0h4m2 0h5m1 0h1m1 0h1m2 0h1m2 0h3m1 0h8m1 0h2m2 0h4m3 0h2m1 0h7m1 0h1m1 0h1m2 0h4m1 0h4m1 0h2m2 0h2m1 0h3m3 0h3m1 0h1m1 0h6m1 0h2m1 0h1m1 0h1m1 0h6m2 0h3m2 0h7m1 0h1m2 0h3m1 0h2m1 0h2m1 0h3m1 0h1m2 0h5m2 0h2m1 0h6m2 0h2m1 0h1m1 0h3m1 0h3M1 113.95h2m2 0h3m1 0h3m1 0h2m2 0h2m1 0h5m3 0h4m2 0h1m1 0h6m1 0h1m1 0h3m1 0h6m1 0h1m1 0h3m1 0h1m1 0h1m1 0h7m1 0h1m3 0h2m1 0h1m2 0h2m1 0h6m1 0h3m3 0h7m2 0h3m2 0h8m1 0h1m1 0h2m2 0h1m1 0h2m1 0h1m3 0h7m1 0h7m2 0h2m2 0h3m1 0h5m3 0h2m1 0h6m2 0h2m1 0h4m2 0h1m1 0h3m1 0h3m2 0h3m1 0h2m1 0h2m2 0h1m1 0h6m1 0h2m1 0h3m1 0h1m2 0h5m1 0h3m1 0h1m2 0h6m2 0h3m3 0h1m1 0h3m2 0h11m1 0h2m3 0h3m1 0h9m1 0h1m1 0h2m3 0h3m1 0h1m1 0h1m2 0h1m1 0h5m1 0h1m1 0h2m1 0h5m2 0h6m2 0h7m1 0h1m3 0h3m1 0h1m1 0h4m2 0h8m3 0h1m1 0h4m1 0h8m2 0h1m1 0h1m1 0h1m1 0h1M0 107.35h5m2 0h4m1 0h1m3 0h1m1 0h3m1 0h3m1 0h2m2 0h4m1 0h4m1 0h1m1 0h1m1 0h1m1 0h3m1 0h2m1 0h1m1 0h4m2 0h3m2 0h2m1 0h3m1 0h4m1 0h2m1 0h7m1 0h3m3 0h2m1 0h1m1 0h2m1 0h5m1 0h2m1 0h3m3 0h3m2 0h6m1 0h2m1 0h1m1 0h1m1 0h1m1 0h1m1 0h3m2 0h9m1 0h1m2 0h3m1 0h1m1 0h5m1 0h3m2 0h7m1 0h1m2 0h1m2 0h3m4 0h9m1 0h1m2 0h3m1 0h1m1 0h4m1 0h6m1 0h2m1 0h2m2 0h3m1 0h2m1 0h2m2 0h3m1 0h1m1 0h5m1 0h1m1 0h5m3 0h2m1 0h1m1 0h1m2 0h6m1 0h4m1 0h7m2 0h1m2 0h1m1 0h2m1 0h2m1 0h1m2 0h6m1 0h3m1 0h3m1 0h2m1 0h5m2 0h4m1 0h4m3 0h1m1 0h4m1 0h2m1 0h2m1 0h3m1 0h1m1 0h3m2 0h2m1 0h5m2 0h3m1 0h2m2 0h1m2 0h7M0 100.75h1m1 0h5m1 0h1m1 0h1m1 0h2m3 0h1m2 0h9m1 0h1m3 0h3m1 0h5m1 0h1m1 0h2m1 0h4m1 0h1m3 0h8m1 0h4m1 0h3m1 0h2m2 0h4m1 0h7m4 0h1m2 0h7m2 0h3m2 0h2m1 0h2m1 0h3m1 0h3m1 0h3m1 0h3m3 0h2m2 0h5m1 0h2m1 0h1m1 0h2m1 0h2m1 0h5m1 0h3m1 0h2m1 0h1m2 0h5m1 0h6m2 0h1m1 0h1m2 0h1m1 0h3m1 0h1m1 0h3m1 0h4m2 0h1m1 0h7m1 0h1m1 0h4m1 0h3m1 0h3m3 0h7m2 0h3m2 0h1m1 0h9m3 0h1m1 0h2m4 0h7m1 0h2m1 0h2m1 0h4m2 0h4m1 0h2m1 0h1m1 0h1m1 0h1m1 0h2m1 0h5m1 0h1m1 0h3m2 0h7m3 0h3m2 0h6m2 0h4m1 0h3m1 0h3m2 0h3m1 0h1m1 0h4m2 0h3m1 0h2m2 0h6m1 0h1m1 0h1m1 0h5m1 0h1M0 94.15h1m1 0h3m1 0h1m1 0h3m2 0h2m1 0h5m3 0h5m2 0h2m3 0h4m1 0h6m2 0h2m1 0h1m1 0h4m1 0h2m1 0h4m2 0h1m1 0h4m1 0h4m1 0h1m1 0h4m4 0h9m4 0h2m1 0h8m1 0h4m1 0h2m2 0h1m1 0h4m2 0h1m3 0h2m1 0h9m1 0h1m1 0h5m1 0h1m4 0h3m1 0h8m2 0h2m2 0h2m2 0h2m1 0h5m2 0h1m1 0h4m1 0h5m1 0h1m2 0h10m2 0h1m3 0h4m1 0h6m1 0h1m1 0h2m1 0h1m1 0h2m2 0h6m2 0h1m1 0h6m2 0h1m2 0h4m1 0h2m2 0h3m1 0h1m1 0h5m1 0h2m2 0h2m1 0h3m1 0h7m1 0h2m2 0h1m2 0h5m1 0h1m1 0h3m1 0h1m1 0h3m1 0h2m1 0h4m1 0h1m1 0h2m1 0h2m1 0h5m1 0h2m2 0h1m2 0h4m1 0h3m2 0h4m1 0h3m1 0h3m1 0h1m1 0h5m1 0h2m1 0h1M1 87.55h1m2 0h1m2 0h8m1 0h4m1 0h3m2 0h4m3 0h3m1 0h1m1 0h5m2 0h2m1 0h5m1 0h2m1 0h4m2 0h2m1 0h4m2 0h4m1 0h1m1 0h3m1 0h4m2 0h4m2 0h4m1 0h5m3 0h2m2 0h5m1 0h2m1 0h1m2 0h5m2 0h1m1 0h2m2 0h5m1 0h1m1 0h2m1 0h1m1 0h7m3 0h1m1 0h6m2 0h1m1 0h6m1 0h2m1 0h1m1 0h1m1 0h1m1 0h4m1 0h2m1 0h4m2 0h3m1 0h7m2 0h3m1 0h1m1 0h1m1 0h1m1 0h1m2 0h7m2 0h2m4 0h11m2 0h4m1 0h1m3 0h2m1 0h10m1 0h2m1 0h2m3 0h2m1 0h3m2 0h3m1 0h3m1 0h1m1 0h1m2 0h6m1 0h1m1 0h2m2 0h3m1 0h3m2 0h7m2 0h6m3 0h3m1 0h4m2 0h1m1 0h1m1 0h10m3 0h3m2 0h3m1 0h2m2 0h2m1 0h2m1 0h5M0 80.95h1m1 0h1m1 0h3m1 0h3m1 0h1m1 0h1m1 0h3m2 0h3m1 0h2m1 0h1m1 0h3m3 0h1m1 0h2m1 0h7m2 0h6m2 0h1m1 0h4m2 0h5m1 0h4m2 0h4m1 0h2m1 0h1m2 0h1m1 0h7m1 0h2m1 0h3m2 0h3m1 0h1m1 0h8m1 0h2m2 0h1m1 0h1m2 0h2m2 0h5m1 0h1m1 0h1m1 0h2m1 0h6m1 0h3m2 0h1m1 0h2m2 0h7m2 0h6m1 0h1m1 0h2m1 0h2m2 0h1m1 0h3m1 0h2m2 0h5m1 0h5m1 0h1m2 0h5m1 0h1m2 0h1m1 0h6m1 0h1m1 0h1m1 0h4m1 0h3m1 0h6m4 0h2m1 0h2m1 0h2m3 0h10m1 0h1m1 0h1m1 0h2m2 0h3m1 0h7m2 0h1m1 0h1m1 0h2m1 0h4m1 0h2m1 0h2m2 0h1m1 0h1m1 0h5m2 0h2m1 0h6m2 0h1m1 0h2m1 0h3m1 0h3m1 0h3m1 0h2m1 0h4m1 0h1m2 0h8m3 0h3m2 0h2m3 0h5m1 0h4M1 74.35h4m1 0h4m2 0h2m2 0h1m1 0h2m2 0h5m1 0h2m1 0h2m1 0h4m1 0h6m4 0h1m2 0h3m1 0h5m1 0h7m1 0h1m1 0h3m2 0h2m1 0h1m1 0h2m1 0h1m1 0h4m1 0h3m1 0h2m1 0h3m1 0h1m2 0h1m1 0h4m1 0h2m2 0h5m2 0h8m2 0h2m2 0h1m1 0h2m1 0h4m2 0h6m3 0h5m1 0h2m1 0h1m1 0h3m1 0h1m1 0h4m1 0h1m1 0h2m1 0h1m1 0h2m1 0h2m1 0h2m1 0h1m1 0h1m1 0h4m1 0h4m2 0h1m2 0h3m1 0h8m1 0h2m2 0h5m2 0h9m1 0h1m2 0h2m2 0h5m2 0h1m1 0h1m1 0h1m1 0h3m1 0h1m1 0h4m1 0h2m2 0h4m1 0h2m1 0h2m2 0h3m2 0h4m4 0h7m1 0h7m1 0h1m1 0h6m3 0h4m1 0h2m1 0h1m3 0h5m2 0h2m1 0h6m1 0h3m5 0h8m1 0h3m2 0h5m1 0h1m1 0h5M0 67.75h1m2 0h1m3 0h6m1 0h4m1 0h1m3 0h1m1 0h7m1 0h2m1 0h8m2 0h1m2 0h5m1 0h2m1 0h1m1 0h2m1 0h5m1 0h2m1 0h4m3 0h6m3 0h1m1 0h5m1 0h2m2 0h2m1 0h7m2 0h2m3 0h1m1 0h5m1 0h8m1 0h1m3 0h1m2 0h5m1 0h3m1 0h2m2 0h3m1 0h1m1 0h5m1 0h1m2 0h4m1 0h3m1 0h3m1 0h1m3 0h8m1 0h6m1 0h1m2 0h1m2 0h1m1 0h1m2 0h3m1 0h8m1 0h3m1 0h2m2 0h1m1 0h4m1 0h3m1 0h3m3 0h7m1 0h2m2 0h1m2 0h3m1 0h1m1 0h1m3 0h1m1 0h14m1 0h3m2 0h1m1 0h2m3 0h1m1 0h5m1 0h2m1 0h3m1 0h1m1 0h1m1 0h8m2 0h4m1 0h2m1 0h3m3 0h4m1 0h2m1 0h1m1 0h5m2 0h3m1 0h3m1 0h4m1 0h1m1 0h2m1 0h3m2 0h1m1 0h2m1 0h4m1 0h1"/>
<path stroke="#3f3e9c" d="M52 694.75h1m93 0h1m181 0h1m66 0h1M75 688.15h1m18 0h4m60 0h1m98 0h1m39 0h1m14 0h1M76 681.55h1m6 0h1m81 0h1m34 0h1m13 0h1m37 0h1m31 0h1m72 0h1M205 674.95h1m67 0h1m1 0h1m65 0h1m36 0h1M12 668.35h1m118 0h1m49 0h1m1 0h1m17 0h1m92 0h1m78 0h1M3 661.75h1m93 0h1m44 0h1m11 0h1m1 0h1m4 0h1m3 0h1m122 0h1M15 655.15h1m73 0h1m15 0h1m90 0h1m34 0h1m134 0h1m21 0h1M37 648.55h1m54 0h1m60 0h1m4 0h1m10 0h1m171 0h1m23 0h2m5 0h1m4 0h1m6 0h1M168 641.95h1m33 0h1m10 0h1m166 0h1M181 628.75h1m134 0h1m11 0h1m50 0h1M3 622.15h1m27 0h1m103 0h1m34 0h1m22 0h1m58 0h1m109 0h1m32 0h2m1 0h1M28 615.55h1m28 0h1m1 0h1m101 0h1m5 0h1m88 0h1m71 0h1m32 0h1M67 608.95h1m233 0h1m32 0h1m12 0h1m35 0h1M10 602.35h1m152 0h1m116 0h1m26 0h1m67 0h1m2 0h1M30 595.75h1m66 0h1m21 0h1m64 0h1m19 0h1m64 0h1m117 0h1M5 589.15h1m75 0h1m206 0h1m102 0h1m7 0h1M6 582.55h1m106 0h1m8 0h1m69 0h1M31 575.95h1m222 0h1m30 0h1M35 569.35h1m1 0h1m33 0h1m79 0h1m49 0h1m88 0h1M28 562.75h1m55 0h1m17 0h1m29 0h1m2 0h1m52 0h1m58 0h1m16 0h1m74 0h1m13 0h1M29 556.15h1m1 0h1m299 0h1M59 549.55h1m162 0h1m114 0h1M69 542.95h1m8 0h1m59 0h1m78 0h1m28 0h1M88 536.35h1m136 0h1m107 0h1m9 0h1M10 529.75h1m35 0h1m141 0h1m119 0h1m62 0h1M112 523.15h1m39 0h1m15 0h1m4 0h1m51 0h1m28 0h1M170 516.55h1m66 0h1m107 0h1m30 0h1M81 509.95h1m139 0h1m116 0h1M129 503.35h1m11 0h1m9 0h1m16 0h1M5 496.75h1m83 0h1m125 0h1m15 0h1m95 0h1M75 490.15h1m12 0h1m130 0h1m10 0h1m34 0h1M43 483.55h1m30 0h1m20 0h1M231 476.95h1m72 0h1m21 0h1M313 470.35h1m3 0h1m18 0h1M28 463.75h1m90 0h1m20 0h1m42 0h1m13 0h1m93 0h1M17 457.15h1m286 0h1m24 0h1m44 0h1M86 450.55h1m50 0h1m254 0h1M41 443.95h1m128 0h1m159 0h1m1 0h1m60 0h1M89 437.35h1m18 0h1m231 0h1m20 0h1m10 0h1m14 0h1M314 430.75h1m46 0h1M99 424.15h1m70 0h1m45 0h1m82 0h1M251 417.55h1M24 410.95h1m31 0h1m64 0h1m101 0h1m84 0h1M111 404.35h1m132 0h1m74 0h1M145 397.75h1m29 0h1m154 0h1m5 0h1m59 0h1M56 391.15h1m84 0h1m134 0h1m21 0h1m75 0h1M0 384.55h1m183 0h1m62 0h1m30 0h1M69 377.95h1m31 0h1m3 0h1m111 0h1m172 0h1M217 371.35h1m9 0h1m111 0h1M4 364.75h1m339 0h1m48 0h1M27 358.15h1m151 0h1m93 0h1m99 0h1M190 351.55h1m82 0h1m8 0h1m22 0h1m2 0h1m24 0h1M42 344.95h1m15 0h1m28 0h1m13 0h1m48 0h1m91 0h1m98 0h1M16 338.35h1m47 0h1m5 0h1m21 0h1m60 0h1m60 0h1m8 0h1m63 0h1m21 0h1M23 331.75h1m73 0h1m7 0h1m106 0h1m108 0h1m76 0h1M60 325.15h1m110 0h1m3 0h1m7 0h1m98 0h1m110 0h1M8 318.55h1m33 0h1m150 0h1m40 0h1m39 0h1M77 311.95h1m32 0h1m84 0h1m27 0h1m26 0h1m65 0h1M83 305.35h1m24 0h2m21 0h1m216 0h1m15 0h1M2 298.75h1m67 0h1m89 0h1m4 0h1m2 0h1m8 0h1m79 0h1m77 0h1m30 0h1M45 292.15h1m112 0h1m80 0h1m127 0h1M170 285.55h1m5 0h1m35 0h1m75 0h1M76 278.95h1m58 0h1m18 0h1m2 0h1m42 0h1M39 272.35h1m33 0h1m95 0h1m9 0h1m117 0h1m3 0h1m45 0h1m14 0h1m13 0h1m9 0h1M127 265.75h1m217 0h1m32 0h1M26 259.15h1m36 0h1m61 0h1m115 0h1m2 0h1m129 0h1M41 252.55h1m108 0h1m221 0h1m20 0h1M197 245.95h1m51 0h1M6 239.35h2m37 0h1m69 0h1m239 0h1M22 232.75h1m69 0h1m40 0h1m240 0h1M224 226.15h1M133 219.55h1m31 0h1M17 212.95h1m26 0h1m106 0h1m12 0h1m130 0h1m47 0h1M19 206.35h1m158 0h1m5 0h1m113 0h1m14 0h1m15 0h1m29 0h1M39 199.75h1m171 0h1m13 0h1m11 0h1m12 0h1m127 0h1m19 0h1M69 193.15h1m61 0h1m138 0h1m76 0h1M15 186.55h1m163 0h1m19 0h1m134 0h1M65 179.95h1m56 0h1m72 0h1m98 0h1m44 0h1M124 173.35h2m109 0h1m23 0h1m29 0h1m92 0h1M17 166.75h1m63 0h1m43 0h1m18 0h1m161 0h1m34 0h1M233 160.15h1m140 0h1M3 153.55h1m286 0h1m66 0h1m2 0h1m38 0h1M6 146.95h1m145 0h1m141 0h1m4 0h1m62 0h1M96 140.35h1m42 0h1m124 0h1m38 0h1m9 0h1m31 0h1m17 0h1M106 133.75h1m36 0h1m28 0h1m102 0h1m30 0h1m63 0h1M61 127.15h1m67 0h1m23 0h1m1 0h1m220 0h1M78 120.55h1m40 0h1m7 0h1m46 0h1m11 0h1m13 0h1m39 0h1m25 0h1m14 0h1M96 113.95h1m29 0h1M147 107.35h1m112 0h1m23 0h1m112 0h1M65 100.75h1m76 0h1m25 0h1m206 0h1M63 94.15h1m88 0h1m139 0h1m13 0h1m42 0h1M10 87.55h1m11 0h1m3 0h1m60 0h1m86 0h1m6 0h1m91 0h1m23 0h1m21 0h1m48 0h1m30 0h1M75 80.95h1m76 0h1m78 0h1M35 74.35h1m5 0h1m21 0h1m55 0h1m25 0h1m110 0h1m29 0h1M25 67.75h1m155 0h1m155 0h1m21 0h1m34 0h1"/>
<path stroke="#4451bf" d="M1 694.75h1m16 0h1m2 0h1m1 0h1m4 0h1m5 0h1m3 0h1m26 0h1m2 0h1m2 0h1m6 0h1m5 0h1m1 0h1m2 0h2m4 0h1m1 0h1m7 0h1m7 0h1m1 0h1m9 0h2m2 0h2m10 0h1m11 0h1m5 0h2m4 0h1m9 0h2m2 0h1m1 0h1m3 0h1m2 0h1m1 0h1m2 0h1m16 0h1m1 0h2m12 0h2m4 0h1m1 0h1m9 0h1m4 0h1m2 0h1m7 0h1m15 0h1m4 0h1m2 0h1m1 0h1m3 0h1m4 0h1m5 0h1m10 0h1m13 0h1m4 0h1m9 0h1m7 0h1m4 0h1m8 0h1m6 0h1m3 0h1m11 0h1m1 0h1M17 688.15h1m1 0h1m15 0h1m4 0h1m17 0h1m3 0h1m1 0h1m1 0h1m5 0h2m10 0h1m3 0h1m2 0h1m11 0h1m1 0h2m1 0h1m8 0h1m10 0h2m1 0h3m9 0h2m9 0h1m16 0h1m6 0h1m7 0h1m2 0h2m2 0h2m7 0h1m1 0h1m4 0h1m10 0h1m5 0h2m4 0h1m12 0h1m9 0h2m7 0h1m4 0h1m1 0h1m10 0h1m1 0h1m5 0h3m9 0h1m4 0h1m8 0h1m9 0h1m7 0h1m2 0h1m4 0h2m3 0h2m9 0h1m5 0h1m11 0h1m10 0h1m7 0h1m3 0h1M0 681.55h2m17 0h1m3 0h1m5 0h1m5 0h1m11 0h2m10 0h1m11 0h1m1 0h1m20 0h1m7 0h1m1 0h1m8 0h2m4 0h1m5 0h1m5 0h1m2 0h1m2 0h1m6 0h1m8 0h1m1 0h2m2 0h1m2 0h1m9 0h1m3 0h1m2 0h1m7 0h1m5 0h1m2 0h1m1 0h1m5 0h1m10 0h2m10 0h1m10 0h2m1 0h1m6 0h1m2 0h1m14 0h1m4 0h1m5 0h4m6 0h1m2 0h1m2 0h1m9 0h1m6 0h1m1 0h1m15 0h1m3 0h1m4 0h1m1 0h1m10 0h1m7 0h1m1 0h1m11 0h1m1 0h1m1 0h1m1 0h1m9 0h1m7 0h1M0 674.95h1m15 0h1m1 0h1m15 0h1m4 0h1m18 0h1m4 0h1m1 0h1m1 0h1m9 0h1m9 0h1m4 0h1m2 0h3m5 0h1m3 0h2m1 0h1m3 0h2m3 0h1m12 0h1m5 0h1m1 0h1m1 0h1m5 0h1m3 0h1m5 0h2m1 0h1m4 0h1m5 0h1m7 0h1m13 0h1m2 0h1m4 0h1m21 0h1m11 0h1m1 0h1m1 0h1m5 0h3m32 0h2m11 0h1m4 0h1m6 0h1m3 0h1m5 0h1m1 0h1m6 0h1m1 0h1m8 0h1m10 0h1m3 0h2m4 0h1m27 0h1m8 0h1M2 668.35h2m6 0h1m11 0h1m9 0h1m5 0h1m2 0h3m2 0h2m4 0h1m1 0h1m3 0h2m13 0h1m2 0h1m5 0h2m2 0h1m13 0h1m4 0h1m2 0h1m1 0h1m1 0h1m6 0h3m4 0h1m10 0h1m14 0h1m12 0h1m4 0h1m2 0h1m2 0h1m13 0h1m9 0h1m11 0h1m2 0h1m1 0h1m1 0h1m10 0h1m6 0h1m2 0h1m1 0h1m4 0h2m3 0h1m3 0h1m2 0h1m4 0h1m3 0h1m1 0h1m20 0h1m12 0h1m10 0h1m5 0h2m12 0h1m2 0h1m3 0h1m2 0h1m7 0h1m30 0h1m6 0h1m1 0h1M0 661.75h3m4 0h1m3 0h1m11 0h1m11 0h1m8 0h1m4 0h1m4 0h2m11 0h1m4 0h2m7 0h2m9 0h1m7 0h1m12 0h1m2 0h1m2 0h1m2 0h1m5 0h1m5 0h1m5 0h1m3 0h1m5 0h1m13 0h1m1 0h1m4 0h1m2 0h1m5 0h1m1 0h2m12 0h1m5 0h1m3 0h1m6 0h1m2 0h1m3 0h1m5 0h1m1 0h2m1 0h1m5 0h1m4 0h1m6 0h1m16 0h2m2 0h1m4 0h1m9 0h1m4 0h1m9 0h2m1 0h1m4 0h1m4 0h1m3 0h1m3 0h1m1 0h1m10 0h1m4 0h1m10 0h1m6 0h1m6 0h1m1 0h1m9 0h1m1 0h1M1 655.15h1m4 0h1m7 0h1m13 0h1m6 0h1m7 0h1m12 0h1m2 0h2m2 0h2m1 0h1m12 0h1m18 0h1m8 0h1m9 0h1m1 0h2m6 0h2m4 0h1m6 0h2m6 0h1m2 0h1m3 0h1m3 0h1m6 0h1m1 0h1m5 0h1m7 0h2m3 0h1m1 0h1m2 0h1m1 0h1m9 0h1m4 0h1m6 0h1m4 0h1m10 0h1m3 0h1m1 0h2m4 0h1m1 0h1m1 0h1m7 0h1m4 0h1m3 0h1m7 0h1m5 0h1m1 0h2m14 0h1m2 0h1m8 0h1m3 0h1m15 0h1m1 0h1m1 0h1m7 0h1m4 0h1m6 0h1m5 0h1m1 0h1m1 0h1m1 0h1m8 0h1m7 0h1m7 0h1m6 0h1M9 648.55h1m5 0h1m3 0h1m7 0h1m14 0h1m4 0h1m6 0h1m6 0h1m12 0h1m4 0h1m6 0h1m14 0h1m5 0h1m25 0h1m2 0h1m11 0h2m2 0h1m1 0h1m19 0h1m2 0h1m4 0h1m1 0h1m6 0h1m2 0h1m1 0h1m4 0h1m2 0h2m12 0h1m2 0h1m20 0h2m1 0h1m5 0h1m1 0h2m5 0h1m14 0h1m1 0h1m1 0h1m1 0h1m4 0h1m16 0h1m10 0h1m5 0h1m17 0h1m7 0h1m17 0h1m6 0h1m1 0h1m1 0h1m2 0h1m1 0h1m1 0h1m4 0h1m8 0h1m1 0h1M4 641.95h1m1 0h1m4 0h1m2 0h1m2 0h1m5 0h1m17 0h1m5 0h1m7 0h2m8 0h3m2 0h1m1 0h1m2 0h3m4 0h1m2 0h1m7 0h3m4 0h1m2 0h1m41 0h1m7 0h1m5 0h1m13 0h1m5 0h1m5 0h2m5 0h2m7 0h1m5 0h1m10 0h1m3 0h1m8 0h1m13 0h1m3 0h1m5 0h1m4 0h1m1 0h1m9 0h2m5 0h1m4 0h1m8 0h1m2 0h1m1 0h1m4 0h2m6 0h1m4 0h1m9 0h1m7 0h1m6 0h1m3 0h1m21 0h1m8 0h1m6 0h1m5 0h2m4 0h2M7 635.35h1m15 0h1m15 0h1m9 0h1m23 0h1m6 0h2m2 0h1m1 0h2m11 0h2m7 0h1m7 0h1m4 0h1m27 0h1m3 0h1m9 0h1m24 0h1m7 0h1m3 0h2m3 0h3m10 0h1m8 0h1m3 0h1m7 0h1m8 0h4m8 0h1m13 0h2m3 0h1m1 0h1m32 0h1m5 0h1m1 0h1m5 0h1m15 0h1m1 0h2m2 0h1m3 0h1m2 0h1m3 0h1m3 0h1m14 0h1m5 0h2m10 0h1M0 628.75h1m4 0h1m11 0h1m4 0h2m1 0h2m8 0h1m7 0h1m5 0h1m2 0h2m22 0h1m1 0h1m2 0h1m22 0h1m20 0h1m11 0h1m13 0h1m8 0h1m8 0h1m4 0h1m5 0h1m5 0h1m57 0h1m4 0h1m2 0h1m23 0h1m2 0h1m15 0h3m1 0h1m2 0h1m7 0h1m22 0h1m5 0h2m1 0h1m10 0h1m2 0h1m13 0h2m21 0h1m2 0h1M16 622.15h2m9 0h1m18 0h1m1 0h1m3 0h1m3 0h1m8 0h4m1 0h1m15 0h1m9 0h2m7 0h1m3 0h1m8 0h1m7 0h1m1 0h2m8 0h1m1 0h1m9 0h1m21 0h4m1 0h1m3 0h1m12 0h1m5 0h1m2 0h1m1 0h1m2 0h1m5 0h1m2 0h1m10 0h1m2 0h1m10 0h1m2 0h1m3 0h1m7 0h1m5 0h1m15 0h1m2 0h1m3 0h1m1 0h1m2 0h1m1 0h1m7 0h1m9 0h1m3 0h1m4 0h1m11 0h1m2 0h1m3 0h2m10 0h2m5 0h1m2 0h1m1 0h1m2 0h1m4 0h2m5 0h1m6 0h1m13 0h1M5 615.55h1m1 0h1m4 0h1m5 0h1m20 0h1m7 0h2m15 0h1m3 0h1m2 0h1m6 0h1m2 0h2m11 0h1m1 0h1m3 0h1m6 0h1m1 0h1m9 0h1m14 0h1m8 0h1m1 0h1m6 0h1m29 0h1m15 0h1m4 0h1m4 0h2m12 0h1m1 0h1m12 0h1m1 0h1m10 0h1m1 0h1m7 0h2m8 0h1m14 0h1m5 0h2m13 0h1m5 0h1m7 0h1m1 0h1m8 0h2m10 0h1m5 0h1m8 0h1m1 0h1m3 0h1m3 0h2m8 0h1m4 0h1m1 0h1M11 608.95h2m5 0h1m5 0h2m10 0h2m2 0h1m12 0h1m2 0h1m11 0h1m1 0h2m4 0h1m12 0h1m1 0h2m1 0h1m6 0h1m3 0h1m8 0h1m1 0h1m1 0h1m3 0h1m2 0h1m3 0h1m2 0h1m13 0h1m1 0h1m1 0h1m2 0h2m1 0h1m3 0h2m3 0h1m22 0h1m3 0h1m12 0h1m4 0h1m3 0h1m14 0h2m4 0h1m3 0h1m20 0h1m1 0h1m10 0h1m8 0h2m2 0h1m3 0h1m11 0h1m11 0h1m1 0h1m7 0h1m6 0h1m19 0h1m2 0h1m1 0h1m2 0h1m5 0h1m15 0h1m14 0h4M1 602.35h1m12 0h1m4 0h1m3 0h1m7 0h1m1 0h2m1 0h1m3 0h1m4 0h1m3 0h1m11 0h1m1 0h1m4 0h1m5 0h1m6 0h1m1 0h1m6 0h2m10 0h1m4 0h1m2 0h1m4 0h2m6 0h1m1 0h1m5 0h1m2 0h1m1 0h1m7 0h1m6 0h1m7 0h1m4 0h1m3 0h1m11 0h1m11 0h2m9 0h1m6 0h1m10 0h1m16 0h1m2 0h2m9 0h1m7 0h1m2 0h2m1 0h1m7 0h1m4 0h1m3 0h2m7 0h1m8 0h1m4 0h1m6 0h1m2 0h1m12 0h1m2 0h2m13 0h2m5 0h1m1 0h2m4 0h1m1 0h1m3 0h2m2 0h1m1 0h1m9 0h1m2 0h2m10 0h1M8 595.75h1m8 0h1m1 0h1m4 0h1m1 0h1m21 0h1m1 0h1m24 0h1m3 0h1m9 0h2m5 0h1m6 0h1m1 0h2m1 0h1m16 0h1m5 0h1m1 0h1m5 0h1m1 0h1m3 0h1m5 0h1m2 0h1m4 0h1m3 0h1m1 0h1m5 0h1m3 0h1m3 0h1m3 0h1m2 0h1m1 0h1m8 0h1m7 0h1m3 0h1m10 0h1m7 0h1m3 0h1m9 0h1m7 0h1m1 0h1m2 0h1m1 0h1m9 0h1m4 0h1m11 0h2m28 0h2m2 0h1m12 0h1m2 0h1m18 0h1m1 0h1m12 0h1m11 0h1m2 0h1m1 0h1m10 0h1M9 589.15h3m16 0h1m5 0h1m32 0h2m2 0h1m7 0h1m3 0h2m5 0h1m6 0h1m6 0h1m3 0h1m1 0h1m9 0h1m13 0h1m4 0h1m5 0h1m1 0h1m5 0h1m13 0h1m8 0h1m6 0h2m2 0h1m2 0h1m1 0h1m3 0h1m4 0h2m2 0h2m7 0h2m10 0h1m1 0h1m9 0h1m4 0h1m6 0h1m6 0h1m7 0h1m4 0h1m3 0h1m5 0h1m4 0h1m4 0h1m3 0h1m8 0h1m4 0h1m5 0h2m1 0h1m9 0h1m1 0h1m3 0h1m1 0h1m7 0h1m5 0h2m1 0h1m5 0h1m5 0h1m6 0h1m7 0h1M4 582.55h1m13 0h1m10 0h1m10 0h1m9 0h1m2 0h1m7 0h1m14 0h1m2 0h1m8 0h1m12 0h1m1 0h1m2 0h1m4 0h1m6 0h1m14 0h1m1 0h1m8 0h1m2 0h1m3 0h1m13 0h3m7 0h1m3 0h1m10 0h2m13 0h1m2 0h1m2 0h1m3 0h1m1 0h3m1 0h1m12 0h1m8 0h1m32 0h2m5 0h1m9 0h1m4 0h1m1 0h1m2 0h1m9 0h1m6 0h1m3 0h1m13 0h1m8 0h1m12 0h1m3 0h1m5 0h1m10 0h1m3 0h1m2 0h2m2 0h2M13 575.95h1m11 0h1m7 0h1m4 0h1m12 0h1m11 0h1m4 0h1m6 0h1m5 0h1m2 0h2m2 0h1m6 0h1m17 0h1m1 0h1m2 0h3m10 0h1m3 0h1m1 0h1m4 0h1m14 0h3m1 0h2m5 0h2m11 0h2m11 0h1m5 0h1m3 0h1m2 0h1m6 0h1m2 0h1m8 0h3m1 0h1m11 0h2m5 0h1m5 0h1m6 0h1m8 0h1m7 0h1m1 0h1m1 0h1m2 0h1m1 0h1m7 0h1m8 0h1m14 0h1m3 0h1m3 0h1m6 0h1m3 0h1m20 0h1m2 0h1m14 0h1m2 0h1m5 0h1m3 0h1m5 0h2M6 569.35h1m1 0h1m7 0h1m2 0h1m2 0h1m15 0h1m2 0h1m7 0h1m6 0h1m11 0h1m3 0h1m1 0h1m3 0h1m1 0h1m9 0h1m30 0h1m5 0h1m11 0h1m23 0h1m1 0h1m9 0h1m14 0h1m1 0h1m2 0h1m1 0h1m12 0h1m10 0h1m9 0h1m5 0h1m1 0h1m11 0h1m2 0h1m2 0h1m8 0h1m16 0h1m8 0h1m2 0h1m2 0h1m10 0h1m7 0h1m3 0h1m5 0h2m1 0h1m12 0h1m16 0h1m14 0h1M4 562.75h1m7 0h2m1 0h1m2 0h1m1 0h1m8 0h1m8 0h1m4 0h2m1 0h1m6 0h1m8 0h1m3 0h1m6 0h1m3 0h2m9 0h1m5 0h1m8 0h1m1 0h1m15 0h2m16 0h2m4 0h1m10 0h1m10 0h2m3 0h1m5 0h1m11 0h1m4 0h1m2 0h1m4 0h1m12 0h1m4 0h1m2 0h1m18 0h2m12 0h2m4 0h1m8 0h1m3 0h1m2 0h1m3 0h1m2 0h1m14 0h1m5 0h1m10 0h1m2 0h1m4 0h2m4 0h1m16 0h1m35 0h1m2 0h1m6 0h2M1 556.15h1m10 0h1m7 0h1m6 0h1m2 0h1m4 0h1m7 0h1m3 0h1m7 0h1m3 0h1m9 0h2m12 0h1m3 0h2m2 0h1m1 0h1m14 0h2m16 0h1m8 0h1m3 0h2m6 0h1m10 0h1m1 0h1m15 0h1m1 0h1m5 0h1m19 0h1m8 0h1m1 0h1m1 0h2m9 0h2m2 0h1m2 0h1m2 0h1m5 0h1m3 0h2m5 0h1m22 0h1m3 0h2m7 0h1m19 0h1m1 0h1m1 0h2m6 0h1m2 0h1m6 0h1m1 0h1m25 0h1m34 0h1M4 549.55h2m12 0h1m3 0h1m21 0h1m2 0h1m12 0h1m14 0h1m12 0h1m8 0h1m1 0h1m3 0h1m6 0h1m2 0h1m1 0h1m5 0h2m1 0h1m1 0h1m8 0h1m15 0h1m3 0h1m4 0h1m11 0h1m5 0h1m13 0h1m9 0h1m6 0h1m10 0h2m4 0h1m2 0h1m8 0h1m4 0h1m2 0h2m6 0h1m3 0h2m17 0h3m9 0h1m3 0h1m1 0h1m6 0h3m8 0h1m3 0h1m2 0h1m6 0h2m3 0h1m6 0h1m3 0h1m1 0h1m1 0h1m20 0h2m10 0h1m4 0h1m3 0h2m1 0h1M0 542.95h1m1 0h1m5 0h1m16 0h2m11 0h1m2 0h1m3 0h3m8 0h1m2 0h1m10 0h1m3 0h1m2 0h1m6 0h2m6 0h1m16 0h1m7 0h1m8 0h1m1 0h1m8 0h1m7 0h1m1 0h1m3 0h2m4 0h1m4 0h1m1 0h2m3 0h1m9 0h1m4 0h1m5 0h1m5 0h1m12 0h1m5 0h2m4 0h1m8 0h1m1 0h1m1 0h1m1 0h1m16 0h1m14 0h1m12 0h1m11 0h1m13 0h1m4 0h1m1 0h1m8 0h2m7 0h1m7 0h2m6 0h1m2 0h1m3 0h1m2 0h1m8 0h1m2 0h1m3 0h1m8 0h1m1 0h1m3 0h1m4 0h1m4 0h1M20 536.35h1m10 0h1m14 0h2m3 0h1m4 0h1m3 0h1m9 0h1m18 0h1m1 0h1m4 0h1m8 0h1m3 0h1m11 0h1m1 0h1m1 0h1m4 0h1m21 0h1m4 0h1m1 0h1m4 0h1m1 0h1m8 0h2m1 0h1m1 0h1m1 0h2m2 0h1m8 0h1m1 0h1m6 0h2m5 0h2m6 0h2m1 0h1m11 0h1m3 0h1m9 0h1m7 0h1m10 0h1m11 0h1m3 0h1m12 0h2m4 0h2m7 0h2m1 0h2m11 0h1m4 0h1m16 0h2m8 0h1m4 0h1m5 0h1m1 0h2m3 0h3m2 0h2m4 0h1m3 0h1m1 0h1M3 529.75h1m4 0h1m12 0h1m3 0h1m3 0h1m3 0h1m9 0h2m4 0h1m4 0h1m9 0h1m4 0h1m1 0h1m3 0h2m8 0h1m3 0h1m8 0h1m1 0h1m3 0h1m6 0h1m28 0h1m20 0h1m12 0h3m2 0h1m9 0h1m6 0h1m8 0h1m6 0h2m1 0h3m2 0h1m11 0h5m5 0h1m1 0h2m2 0h1m1 0h1m2 0h1m2 0h1m4 0h1m10 0h1m5 0h1m2 0h1m1 0h1m7 0h1m9 0h1m4 0h2m14 0h1m11 0h2m8 0h1m9 0h2m5 0h1m5 0h1m1 0h1m2 0h2m4 0h1m3 0h1m2 0h1m2 0h1m2 0h1M7 523.15h1m4 0h2m5 0h2m7 0h1m15 0h1m1 0h1m5 0h1m3 0h2m2 0h2m5 0h1m7 0h1m2 0h1m17 0h1m1 0h1m3 0h1m1 0h1m1 0h2m6 0h1m1 0h1m9 0h1m2 0h1m8 0h1m6 0h1m5 0h1m5 0h1m8 0h1m9 0h1m11 0h3m5 0h1m4 0h1m2 0h1m1 0h1m2 0h1m13 0h1m4 0h1m1 0h1m5 0h1m1 0h2m3 0h1m13 0h1m1 0h1m2 0h2m10 0h1m9 0h1m10 0h2m1 0h1m10 0h1m1 0h1m2 0h1m1 0h1m11 0h1m1 0h1m3 0h1m8 0h1m1 0h1m15 0h2m7 0h1m6 0h1m1 0h2m2 0h1M5 516.55h1m4 0h1m5 0h2m9 0h1m5 0h2m7 0h1m2 0h1m11 0h1m8 0h2m1 0h1m14 0h1m2 0h2m5 0h1m8 0h1m1 0h1m3 0h1m4 0h1m5 0h2m18 0h1m12 0h1m5 0h1m17 0h1m8 0h1m8 0h1m3 0h1m1 0h1m9 0h1m4 0h1m2 0h1m2 0h1m1 0h1m1 0h1m16 0h1m1 0h2m9 0h1m2 0h1m2 0h1m9 0h1m2 0h1m2 0h1m2 0h1m5 0h1m14 0h1m16 0h1m2 0h1m4 0h1m2 0h1m20 0h1m4 0h1m7 0h1m9 0h2m2 0h1m2 0h1m3 0h1m1 0h1m3 0h1M4 509.95h1m5 0h1m15 0h1m2 0h2m1 0h3m7 0h2m3 0h1m4 0h1m4 0h1m4 0h2m1 0h1m1 0h2m4 0h1m4 0h2m5 0h1m4 0h1m2 0h1m1 0h1m3 0h1m2 0h1m12 0h1m2 0h1m6 0h1m5 0h1m3 0h1m5 0h1m19 0h1m3 0h1m21 0h1m15 0h2m5 0h1m1 0h1m4 0h1m6 0h1m7 0h1m8 0h1m14 0h1m12 0h1m1 0h1m1 0h1m9 0h3m1 0h2m5 0h1m1 0h1m18 0h1m1 0h1m26 0h1m3 0h1m2 0h1m17 0h2m6 0h1m15 0h1M18 503.35h1m7 0h2m6 0h1m6 0h1m2 0h1m4 0h2m4 0h1m1 0h1m2 0h1m9 0h1m4 0h1m9 0h1m4 0h1m9 0h2m6 0h3m19 0h1m4 0h1m1 0h1m10 0h1m5 0h1m1 0h1m1 0h2m3 0h2m14 0h2m3 0h3m1 0h2m10 0h1m15 0h1m9 0h1m7 0h1m2 0h1m4 0h1m7 0h2m3 0h1m7 0h1m7 0h1m6 0h2m3 0h1m1 0h1m11 0h1m1 0h1m6 0h1m1 0h1m2 0h1m1 0h1m2 0h2m6 0h2m1 0h1m13 0h1m3 0h1m6 0h1m21 0h1m1 0h1m1 0h1m17 0h1M3 496.75h2m7 0h1m3 0h1m10 0h1m21 0h1m5 0h1m3 0h1m3 0h1m2 0h1m1 0h1m1 0h2m4 0h2m8 0h1m3 0h1m7 0h1m10 0h2m14 0h1m3 0h2m31 0h1m1 0h1m9 0h1m7 0h1m9 0h1m8 0h1m24 0h1m7 0h1m16 0h1m6 0h1m2 0h1m3 0h1m11 0h1m16 0h1m14 0h1m3 0h2m5 0h1m3 0h1m1 0h1m10 0h2m20 0h1m7 0h1m12 0h1m9 0h1m2 0h1m2 0h1m2 0h1M12 490.15h2m5 0h1m7 0h1m1 0h1m9 0h1m2 0h1m5 0h1m29 0h1m8 0h1m1 0h1m2 0h1m3 0h1m3 0h2m5 0h2m2 0h1m1 0h2m8 0h1m8 0h1m9 0h1m1 0h1m2 0h1m3 0h1m4 0h1m15 0h1m14 0h1m1 0h1m6 0h2m15 0h2m1 0h1m8 0h1m19 0h1m3 0h1m2 0h1m7 0h2m9 0h1m4 0h1m8 0h1m10 0h1m7 0h1m1 0h1m18 0h1m13 0h1m2 0h2m5 0h1m5 0h1m8 0h1m10 0h1m5 0h3m13 0h1M3 483.55h2m5 0h1m2 0h1m14 0h1m3 0h1m6 0h1m2 0h1m6 0h1m1 0h1m5 0h1m10 0h1m14 0h1m4 0h1m5 0h1m7 0h2m6 0h1m27 0h2m10 0h1m5 0h1m7 0h1m6 0h1m6 0h1m1 0h2m3 0h1m9 0h3m4 0h1m3 0h1m21 0h1m3 0h1m3 0h1m3 0h1m2 0h1m11 0h1m3 0h1m3 0h1m4 0h1m9 0h1m5 0h1m5 0h1m6 0h1m6 0h1m4 0h3m1 0h1m1 0h1m6 0h1m7 0h1m2 0h1m2 0h1m12 0h1m12 0h2m4 0h1m1 0h2m24 0h1M1 476.95h1m3 0h1m4 0h3m7 0h2m3 0h1m4 0h1m10 0h1m3 0h2m4 0h1m4 0h1m11 0h1m15 0h1m1 0h3m4 0h1m1 0h2m1 0h1m1 0h1m2 0h1m21 0h1m3 0h2m9 0h1m1 0h1m1 0h1m4 0h1m2 0h1m1 0h2m5 0h1m3 0h1m5 0h1m2 0h1m2 0h1m10 0h3m6 0h1m11 0h1m19 0h1m6 0h1m2 0h1m2 0h1m3 0h1m5 0h2m15 0h1m9 0h1m8 0h1m1 0h2m4 0h1m8 0h1m8 0h1m6 0h1m17 0h1m2 0h1m2 0h1m2 0h2m3 0h1m12 0h1m4 0h1m8 0h1m2 0h1m5 0h2M9 470.35h1m4 0h2m2 0h1m2 0h1m4 0h1m1 0h1m2 0h2m8 0h1m7 0h1m8 0h1m3 0h1m2 0h1m3 0h1m2 0h2m6 0h1m1 0h1m2 0h1m2 0h1m2 0h1m8 0h1m11 0h1m1 0h1m9 0h1m12 0h1m8 0h1m9 0h1m1 0h1m7 0h1m3 0h1m7 0h1m4 0h1m5 0h1m1 0h1m3 0h2m4 0h1m4 0h1m1 0h1m1 0h1m1 0h1m3 0h1m1 0h1m5 0h1m5 0h1m3 0h1m1 0h3m7 0h2m2 0h1m5 0h2m2 0h1m18 0h1m8 0h1m4 0h1m4 0h1m4 0h1m4 0h1m2 0h2m13 0h1m1 0h1m3 0h1m4 0h1m5 0h1m5 0h1m10 0h1m3 0h1m11 0h1m3 0h1m11 0h1m5 0h1M2 463.75h1m6 0h1m2 0h2m3 0h1m2 0h1m4 0h1m6 0h1m2 0h1m4 0h1m4 0h1m6 0h1m5 0h2m6 0h1m1 0h1m7 0h1m6 0h1m1 0h1m3 0h1m5 0h1m20 0h1m4 0h1m1 0h2m1 0h1m17 0h1m4 0h1m3 0h1m10 0h1m5 0h1m6 0h1m16 0h1m8 0h1m1 0h1m4 0h1m1 0h1m4 0h1m2 0h1m11 0h1m2 0h1m1 0h1m9 0h1m15 0h1m7 0h1m2 0h1m2 0h2m1 0h2m2 0h1m5 0h1m3 0h1m2 0h1m13 0h1m6 0h1m7 0h2m1 0h1m4 0h3m10 0h2m9 0h1m5 0h1m6 0h1m8 0h1m4 0h3m4 0h1m1 0h1M7 457.15h1m3 0h1m7 0h1m7 0h1m6 0h1m6 0h1m6 0h1m16 0h2m11 0h1m2 0h1m1 0h1m7 0h1m11 0h1m1 0h2m7 0h2m1 0h1m3 0h1m24 0h2m2 0h1m1 0h1m13 0h2m1 0h1m8 0h2m2 0h1m7 0h1m2 0h1m3 0h1m2 0h1m1 0h1m5 0h1m12 0h1m2 0h1m4 0h1m2 0h1m5 0h1m11 0h1m6 0h1m7 0h1m17 0h1m19 0h1m1 0h1m11 0h1m2 0h1m2 0h2m8 0h1m26 0h1m1 0h1m2 0h1m3 0h1m10 0h1m9 0h1M22 450.55h1m3 0h1m4 0h2m13 0h1m3 0h1m6 0h1m4 0h1m16 0h1m20 0h2m23 0h2m5 0h2m1 0h1m8 0h1m6 0h1m17 0h1m4 0h1m1 0h1m5 0h1m5 0h1m2 0h1m1 0h1m5 0h1m1 0h1m4 0h1m1 0h3m9 0h1m3 0h1m1 0h1m4 0h1m1 0h1m2 0h1m2 0h1m4 0h1m1 0h1m6 0h1m12 0h1m1 0h1m11 0h1m2 0h1m5 0h1m1 0h1m7 0h1m8 0h1m20 0h1m9 0h2m7 0h1m2 0h2m1 0h1m4 0h1m16 0h2m3 0h3m3 0h1M8 443.95h1m5 0h2m1 0h1m2 0h1m7 0h1m4 0h1m2 0h1m7 0h1m2 0h1m2 0h2m9 0h2m15 0h1m5 0h1m3 0h1m2 0h2m3 0h1m6 0h2m2 0h2m6 0h1m8 0h1m2 0h1m4 0h1m5 0h1m1 0h1m5 0h1m2 0h1m3 0h1m1 0h1m16 0h1m3 0h1m1 0h1m3 0h1m3 0h1m6 0h2m1 0h1m1 0h1m6 0h1m8 0h1m18 0h1m12 0h1m5 0h1m7 0h1m1 0h1m1 0h1m7 0h1m3 0h1m6 0h1m3 0h1m1 0h1m7 0h1m1 0h1m3 0h1m1 0h2m3 0h1m4 0h1m9 0h1m8 0h2m6 0h1m1 0h1m3 0h1m7 0h1m3 0h3m18 0h1m2 0h1m4 0h1m5 0h2M11 437.35h1m12 0h1m6 0h1m4 0h1m1 0h1m1 0h1m17 0h1m1 0h1m2 0h1m2 0h1m2 0h1m15 0h1m4 0h1m1 0h1m3 0h1m2 0h3m1 0h1m8 0h2m7 0h1m3 0h1m7 0h1m2 0h1m3 0h1m3 0h1m9 0h1m3 0h3m2 0h1m5 0h2m2 0h1m2 0h1m2 0h1m6 0h1m3 0h1m5 0h1m5 0h1m15 0h1m6 0h1m6 0h1m4 0h1m1 0h1m10 0h1m3 0h2m2 0h1m5 0h1m10 0h1m2 0h1m3 0h1m2 0h1m7 0h1m7 0h1m5 0h1m8 0h2m4 0h1m3 0h1m5 0h1m10 0h1m1 0h1m5 0h2m5 0h1m8 0h1m7 0h1m4 0h2m9 0h1m7 0h1M2 430.75h1m1 0h2m7 0h1m4 0h1m10 0h1m2 0h1m21 0h1m1 0h1m2 0h1m4 0h1m9 0h1m4 0h1m3 0h1m8 0h1m7 0h1m6 0h2m7 0h1m9 0h2m10 0h1m6 0h1m3 0h2m2 0h1m2 0h1m18 0h1m2 0h1m1 0h1m8 0h1m1 0h1m1 0h1m8 0h2m4 0h1m4 0h1m5 0h1m2 0h1m10 0h1m11 0h1m2 0h1m6 0h1m4 0h2m2 0h1m3 0h1m2 0h1m21 0h1m12 0h1m2 0h1m8 0h1m4 0h2m2 0h2m4 0h1m10 0h2m9 0h2m8 0h1m20 0h1m3 0h1m2 0h1M5 424.15h1m2 0h2m5 0h1m2 0h1m2 0h1m4 0h1m2 0h1m2 0h1m6 0h1m5 0h1m13 0h1m1 0h1m5 0h2m14 0h1m6 0h1m2 0h1m6 0h1m4 0h1m12 0h1m4 0h1m18 0h1m2 0h1m4 0h1m2 0h1m9 0h1m1 0h1m8 0h2m5 0h1m4 0h2m6 0h1m2 0h1m11 0h1m4 0h1m11 0h1m8 0h1m5 0h1m9 0h1m1 0h1m2 0h2m9 0h2m6 0h1m5 0h1m5 0h1m9 0h1m2 0h1m5 0h1m3 0h1m9 0h1m8 0h1m2 0h2m1 0h1m3 0h2m6 0h1m6 0h1m10 0h1m5 0h1m12 0h1m4 0h2M14 417.55h1m8 0h1m5 0h1m17 0h1m4 0h2m28 0h1m37 0h2m3 0h1m3 0h1m5 0h1m1 0h1m14 0h1m1 0h2m5 0h1m6 0h1m9 0h1m3 0h1m3 0h1m1 0h1m1 0h3m1 0h1m1 0h1m8 0h1m34 0h1m8 0h1m6 0h1m4 0h1m7 0h1m7 0h1m2 0h1m2 0h1m5 0h2m3 0h1m2 0h1m10 0h1m2 0h1m10 0h1m1 0h1m8 0h2m13 0h1m5 0h3m1 0h1m1 0h1m7 0h1m6 0h1m4 0h1m7 0h1m9 0h1M14 410.95h1m3 0h2m2 0h1m4 0h1m9 0h1m10 0h1m2 0h1m7 0h1m7 0h1m5 0h1m5 0h3m34 0h1m1 0h1m31 0h2m5 0h1m3 0h1m1 0h1m16 0h1m1 0h1m5 0h1m11 0h1m6 0h1m4 0h2m7 0h2m9 0h1m1 0h1m7 0h1m1 0h1m4 0h1m1 0h1m13 0h1m2 0h1m4 0h1m7 0h1m4 0h1m6 0h2m7 0h1m2 0h1m1 0h1m1 0h1m15 0h1m3 0h1m9 0h1m1 0h1m6 0h2m10 0h1m1 0h1m3 0h2m3 0h1m10 0h1m4 0h1m2 0h1m6 0h2M3 404.35h1m11 0h1m6 0h2m5 0h1m13 0h2m4 0h1m19 0h1m6 0h1m6 0h3m8 0h1m7 0h1m1 0h1m8 0h1m13 0h1m1 0h1m1 0h1m11 0h1m1 0h1m6 0h1m10 0h1m1 0h2m2 0h1m4 0h1m4 0h2m24 0h2m3 0h1m21 0h1m5 0h1m3 0h1m3 0h1m1 0h1m7 0h1m5 0h2m2 0h1m3 0h2m1 0h1m16 0h1m3 0h1m3 0h1m4 0h1m7 0h1m4 0h3m2 0h1m2 0h1m2 0h1m8 0h1m1 0h1m1 0h1m2 0h1m2 0h1m6 0h1m2 0h1m3 0h2m7 0h1m29 0h1M6 397.75h1m1 0h1m3 0h1m13 0h1m2 0h1m1 0h1m6 0h1m1 0h1m3 0h1m1 0h1m5 0h2m5 0h1m6 0h2m2 0h1m11 0h1m7 0h1m3 0h1m7 0h1m7 0h2m3 0h1m24 0h1m2 0h2m2 0h1m7 0h1m13 0h2m3 0h1m5 0h1m4 0h1m5 0h2m2 0h1m1 0h1m6 0h1m1 0h1m6 0h1m7 0h1m1 0h1m14 0h1m20 0h1m3 0h1m12 0h1m7 0h1m10 0h1m12 0h1m9 0h1m9 0h1m3 0h1m6 0h2m1 0h1m8 0h1m21 0h1m4 0h1m10 0h1m2 0h1m5 0h1M13 391.15h1m7 0h1m16 0h1m11 0h2m6 0h1m2 0h1m12 0h1m12 0h1m5 0h2m4 0h1m7 0h1m16 0h1m1 0h1m15 0h1m7 0h1m1 0h1m5 0h1m11 0h2m11 0h1m4 0h1m2 0h3m16 0h1m5 0h1m10 0h1m5 0h1m2 0h1m3 0h1m6 0h1m3 0h1m13 0h1m7 0h1m7 0h1m9 0h1m7 0h1m3 0h1m3 0h1m2 0h1m3 0h1m10 0h1m3 0h1m17 0h1m2 0h1m8 0h1m1 0h1m17 0h2m16 0h1M5 384.55h1m12 0h2m4 0h1m6 0h1m18 0h1m6 0h2m3 0h1m11 0h1m8 0h1m4 0h1m5 0h1m2 0h1m3 0h1m1 0h1m14 0h1m16 0h1m2 0h1m5 0h1m5 0h1m1 0h1m13 0h1m4 0h1m2 0h1m4 0h1m1 0h1m8 0h1m10 0h2m1 0h1m2 0h1m4 0h1m6 0h1m1 0h1m7 0h2m1 0h3m4 0h1m5 0h2m6 0h1m2 0h1m3 0h1m2 0h1m4 0h1m3 0h1m4 0h1m4 0h1m5 0h1m5 0h1m1 0h1m8 0h2m3 0h1m6 0h1m2 0h1m3 0h1m9 0h1m3 0h1m1 0h1m1 0h1m3 0h1m9 0h1m6 0h1m3 0h1m2 0h1m22 0h2m1 0h1M10 377.95h1m2 0h1m3 0h1m4 0h1m8 0h1m1 0h1m5 0h1m7 0h1m2 0h1m2 0h1m5 0h1m12 0h1m5 0h1m1 0h1m6 0h2m14 0h2m10 0h1m1 0h1m2 0h1m9 0h1m3 0h1m4 0h2m3 0h1m7 0h1m4 0h1m11 0h1m3 0h1m1 0h1m1 0h1m6 0h1m21 0h1m8 0h1m15 0h2m4 0h2m16 0h1m2 0h1m23 0h2m12 0h1m1 0h3m17 0h1m2 0h1m2 0h1m3 0h1m5 0h1m2 0h1m17 0h1m2 0h1m8 0h1m12 0h1m11 0h1m2 0h1M2 371.35h1m3 0h1m2 0h2m7 0h1m30 0h1m3 0h3m9 0h1m5 0h1m1 0h1m3 0h1m1 0h1m5 0h1m33 0h2m4 0h2m1 0h1m8 0h1m3 0h1m6 0h1m15 0h1m1 0h1m3 0h1m3 0h1m3 0h1m24 0h1m12 0h1m7 0h1m3 0h1m2 0h1m1 0h1m7 0h1m3 0h1m1 0h1m6 0h2m5 0h1m11 0h1m1 0h2m10 0h1m3 0h1m1 0h1m9 0h1m1 0h1m8 0h3m14 0h3m15 0h2m8 0h1m4 0h1m2 0h1m14 0h1m1 0h1m6 0h1m3 0h1M2 364.75h1m7 0h1m2 0h1m1 0h2m8 0h1m10 0h1m12 0h2m22 0h1m2 0h2m3 0h1m4 0h1m25 0h2m11 0h2m11 0h1m5 0h1m16 0h1m6 0h1m2 0h2m8 0h1m14 0h1m4 0h1m8 0h1m9 0h1m4 0h1m5 0h1m15 0h1m3 0h1m12 0h1m7 0h2m3 0h1m5 0h1m8 0h1m8 0h1m17 0h1m1 0h1m5 0h1m4 0h1m10 0h1m7 0h1m4 0h1m7 0h1m2 0h1m2 0h1m4 0h1m4 0h1m6 0h1m4 0h1m6 0h1M4 358.15h1m7 0h1m5 0h1m1 0h1m5 0h1m5 0h1m3 0h2m7 0h1m7 0h1m5 0h4m6 0h1m1 0h1m3 0h1m3 0h1m19 0h1m10 0h1m12 0h1m15 0h1m2 0h1m17 0h1m9 0h1m1 0h1m10 0h1m3 0h1m2 0h3m2 0h1m15 0h1m3 0h1m10 0h1m1 0h1m6 0h1m5 0h1m4 0h1m4 0h1m1 0h1m8 0h1m5 0h2m4 0h2m12 0h1m5 0h2m2 0h1m12 0h1m1 0h1m6 0h1m8 0h1m10 0h1m3 0h1m6 0h1m5 0h1m5 0h1m8 0h1m4 0h1m3 0h1m5 0h2m2 0h1m6 0h2M40 351.55h1m1 0h2m3 0h1m9 0h1m5 0h1m5 0h1m2 0h2m3 0h1m3 0h1m2 0h1m8 0h2m4 0h1m4 0h1m4 0h1m12 0h1m30 0h1m6 0h2m4 0h1m2 0h1m1 0h1m11 0h1m1 0h1m18 0h1m4 0h1m6 0h1m4 0h1m6 0h3m4 0h1m5 0h1m4 0h1m2 0h1m5 0h1m3 0h1m7 0h3m1 0h1m9 0h1m5 0h1m1 0h1m1 0h1m1 0h2m8 0h1m9 0h1m4 0h1m2 0h1m3 0h3m6 0h1m4 0h2m5 0h1m4 0h1m3 0h1m3 0h2m8 0h1m26 0h1M2 344.95h1m6 0h2m10 0h1m4 0h2m4 0h1m11 0h1m28 0h1m1 0h1m2 0h2m9 0h1m1 0h1m7 0h1m15 0h1m12 0h1m4 0h1m3 0h1m3 0h1m3 0h1m1 0h1m11 0h2m1 0h1m2 0h1m9 0h1m7 0h2m5 0h1m2 0h1m37 0h1m3 0h1m5 0h1m2 0h1m18 0h1m9 0h1m15 0h2m7 0h2m16 0h1m9 0h2m4 0h3m4 0h1m9 0h1m2 0h1m3 0h1m26 0h1m5 0h1m4 0h1m3 0h1M7 338.35h1m13 0h2m4 0h2m11 0h1m1 0h1m14 0h1m9 0h1m4 0h1m5 0h1m15 0h2m8 0h1m1 0h1m17 0h1m12 0h1m12 0h2m4 0h1m17 0h1m4 0h1m15 0h1m19 0h1m3 0h1m5 0h1m13 0h1m2 0h2m9 0h1m7 0h1m6 0h1m7 0h1m2 0h1m1 0h1m2 0h2m14 0h1m1 0h1m1 0h2m6 0h2m2 0h1m3 0h2m8 0h1m27 0h1m3 0h1m6 0h2m5 0h1m3 0h2m2 0h1m2 0h1m2 0h1m7 0h2M10 331.75h3m3 0h1m3 0h1m6 0h1m15 0h1m2 0h1m9 0h1m8 0h1m3 0h1m10 0h1m6 0h1m18 0h1m1 0h2m3 0h1m3 0h1m21 0h1m21 0h1m10 0h2m3 0h1m25 0h2m18 0h1m7 0h1m2 0h1m12 0h1m1 0h1m1 0h1m3 0h2m2 0h1m5 0h1m3 0h1m3 0h1m4 0h2m4 0h1m4 0h1m2 0h1m5 0h1m1 0h1m3 0h1m4 0h1m8 0h1m8 0h1m11 0h1m6 0h1m2 0h1m5 0h2m4 0h1m5 0h2m2 0h1m1 0h1m1 0h1m2 0h1m7 0h1m7 0h1M1 325.15h2m1 0h2m2 0h1m30 0h1m4 0h1m1 0h2m9 0h1m4 0h1m15 0h1m8 0h1m5 0h1m8 0h1m11 0h1m13 0h1m6 0h1m3 0h1m6 0h1m4 0h1m5 0h2m5 0h1m1 0h1m11 0h1m1 0h1m12 0h2m1 0h1m4 0h1m8 0h1m3 0h2m5 0h1m8 0h1m15 0h2m1 0h1m2 0h2m2 0h1m3 0h1m5 0h2m2 0h1m17 0h1m4 0h1m19 0h1m2 0h1m2 0h1m2 0h1m3 0h1m4 0h1m9 0h1m8 0h2m4 0h1m15 0h1m1 0h1m21 0h1M2 318.55h1m6 0h1m6 0h1m1 0h2m11 0h3m24 0h1m1 0h1m27 0h1m2 0h1m3 0h1m3 0h1m7 0h1m2 0h1m1 0h1m2 0h1m5 0h1m4 0h2m3 0h3m7 0h1m5 0h1m6 0h2m8 0h1m6 0h1m4 0h1m9 0h2m11 0h1m3 0h1m9 0h1m8 0h1m2 0h1m22 0h1m2 0h1m3 0h1m9 0h1m4 0h2m4 0h1m18 0h1m2 0h1m3 0h1m10 0h1m1 0h1m16 0h1m17 0h1m2 0h1m4 0h1m1 0h1m2 0h1m5 0h2m5 0h1m2 0h1m5 0h2m2 0h1m2 0h1M15 311.95h1m1 0h1m4 0h1m6 0h1m1 0h1m8 0h1m22 0h1m2 0h1m1 0h1m10 0h2m2 0h1m3 0h1m1 0h1m2 0h1m6 0h2m3 0h1m1 0h1m10 0h1m3 0h1m19 0h1m17 0h1m2 0h1m4 0h1m7 0h1m11 0h1m11 0h1m1 0h1m5 0h2m4 0h1m7 0h2m1 0h1m1 0h1m14 0h1m19 0h2m9 0h1m3 0h1m7 0h1m1 0h1m1 0h1m1 0h1m15 0h1m4 0h1m1 0h1m1 0h1m1 0h1m2 0h1m3 0h1m3 0h1m3 0h1m2 0h1m10 0h3m5 0h1m7 0h1m8 0h1m4 0h1m21 0h1M13 305.35h2m6 0h1m6 0h1m24 0h2m6 0h1m3 0h1m27 0h1m9 0h2m5 0h1m8 0h1m1 0h3m1 0h1m1 0h1m7 0h1m4 0h1m14 0h1m2 0h2m4 0h1m8 0h1m5 0h1m2 0h1m9 0h1m7 0h1m21 0h3m12 0h1m9 0h1m7 0h1m6 0h1m11 0h1m10 0h1m1 0h1m10 0h1m1 0h1m7 0h1m1 0h1m1 0h1m21 0h1m1 0h1m18 0h1m1 0h2m7 0h1m3 0h1m1 0h1m3 0h1m2 0h2m1 0h1m6 0h2m4 0h1M0 298.75h1m8 0h3m10 0h1m5 0h1m1 0h1m12 0h1m1 0h3m1 0h1m4 0h1m3 0h1m3 0h1m12 0h1m2 0h1m1 0h2m10 0h1m3 0h1m2 0h1m1 0h1m4 0h1m7 0h1m6 0h2m1 0h1m3 0h1m5 0h1m6 0h3m6 0h1m4 0h1m2 0h1m7 0h1m11 0h1m8 0h2m3 0h1m16 0h1m5 0h1m3 0h2m5 0h1m6 0h2m2 0h1m3 0h1m1 0h2m29 0h1m10 0h1m9 0h1m1 0h2m6 0h1m3 0h1m6 0h1m5 0h1m7 0h1m9 0h1m12 0h1m1 0h1m2 0h1m2 0h1m18 0h1m3 0h1m6 0h1m6 0h1M0 292.15h1m19 0h1m1 0h1m2 0h1m6 0h1m7 0h1m2 0h1m2 0h1m1 0h1m4 0h1m1 0h1m2 0h1m5 0h1m6 0h1m4 0h1m11 0h1m5 0h1m8 0h3m8 0h1m4 0h1m6 0h1m2 0h1m5 0h1m6 0h1m5 0h2m15 0h1m6 0h1m7 0h2m21 0h1m8 0h1m13 0h1m3 0h1m2 0h1m16 0h1m1 0h1m4 0h1m1 0h1m5 0h1m2 0h1m3 0h2m11 0h1m1 0h1m3 0h1m2 0h1m2 0h2m51 0h1m11 0h1m21 0h1m3 0h1m2 0h1M17 285.55h1m5 0h1m1 0h1m1 0h1m1 0h1m11 0h1m3 0h1m2 0h1m11 0h1m10 0h1m6 0h1m1 0h1m3 0h1m9 0h1m2 0h1m8 0h1m8 0h1m14 0h1m2 0h1m1 0h1m16 0h4m25 0h1m13 0h1m3 0h1m2 0h1m2 0h1m2 0h1m4 0h1m2 0h2m10 0h1m9 0h1m13 0h1m5 0h1m1 0h1m5 0h2m4 0h1m3 0h1m7 0h1m2 0h1m21 0h1m2 0h2m3 0h1m28 0h1m6 0h2m2 0h1m8 0h1m1 0h1m6 0h1m7 0h1m12 0h1M1 278.95h1m10 0h1m2 0h1m14 0h2m1 0h1m1 0h1m4 0h1m9 0h3m11 0h1m3 0h1m1 0h1m10 0h1m7 0h1m13 0h1m7 0h1m18 0h1m5 0h1m1 0h1m31 0h1m5 0h1m16 0h1m1 0h1m7 0h1m4 0h1m4 0h1m14 0h1m5 0h1m5 0h1m1 0h1m5 0h1m9 0h1m8 0h1m1 0h1m1 0h1m7 0h1m1 0h1m6 0h1m1 0h1m2 0h1m2 0h1m9 0h1m6 0h1m1 0h1m4 0h1m12 0h1m3 0h1m1 0h1m42 0h1m5 0h1m1 0h1M5 272.35h2m1 0h1m8 0h1m6 0h2m2 0h2m1 0h1m8 0h1m19 0h2m2 0h2m3 0h1m9 0h1m8 0h1m4 0h1m6 0h1m1 0h1m5 0h1m9 0h2m1 0h1m2 0h1m8 0h1m9 0h3m13 0h1m1 0h1m13 0h1m2 0h1m3 0h2m2 0h1m7 0h1m3 0h2m2 0h1m11 0h2m5 0h1m4 0h1m1 0h1m12 0h1m2 0h1m11 0h1m1 0h1m1 0h1m17 0h1m4 0h1m3 0h1m10 0h1m1 0h1m4 0h1m9 0h1m2 0h1m6 0h2m10 0h2m3 0h1m2 0h1m3 0h1m6 0h1m3 0h1m16 0h1m16 0h1M1 265.75h1m1 0h1m9 0h1m5 0h1m8 0h1m2 0h1m1 0h2m1 0h1m10 0h1m5 0h1m6 0h1m19 0h1m4 0h1m10 0h1m11 0h2m4 0h1m3 0h1m1 0h1m7 0h1m6 0h1m3 0h1m3 0h1m2 0h2m1 0h2m33 0h1m2 0h1m5 0h3m5 0h1m1 0h2m10 0h1m6 0h1m3 0h1m38 0h1m3 0h1m3 0h1m4 0h2m4 0h1m1 0h1m22 0h2m27 0h1m2 0h1m14 0h1m4 0h1m7 0h1m3 0h1m16 0h1m7 0h1M5 259.15h1m1 0h1m4 0h1m5 0h1m1 0h1m8 0h1m3 0h1m5 0h1m1 0h1m7 0h1m3 0h1m3 0h4m11 0h2m1 0h1m25 0h1m13 0h1m3 0h1m8 0h2m5 0h1m1 0h1m4 0h3m5 0h1m1 0h1m3 0h2m19 0h1m7 0h1m11 0h1m5 0h1m5 0h1m7 0h1m15 0h1m20 0h1m3 0h1m12 0h2m2 0h1m10 0h1m12 0h1m8 0h1m17 0h1m2 0h1m18 0h1m4 0h1m9 0h1m9 0h1m16 0h1m1 0h1m1 0h4m1 0h1M4 252.55h1m25 0h1m3 0h1m7 0h1m4 0h1m8 0h2m3 0h1m1 0h1m7 0h1m10 0h1m5 0h1m10 0h1m13 0h1m9 0h1m6 0h1m11 0h1m10 0h1m2 0h3m3 0h1m8 0h1m5 0h1m6 0h1m14 0h1m3 0h2m3 0h2m1 0h1m3 0h1m22 0h1m10 0h2m6 0h1m13 0h1m4 0h1m9 0h1m4 0h1m1 0h1m3 0h1m1 0h1m4 0h1m1 0h1m2 0h1m16 0h1m1 0h1m1 0h1m1 0h1m20 0h1m16 0h1m6 0h1m6 0h1m6 0h1M4 245.95h1m23 0h1m3 0h1m3 0h1m2 0h1m17 0h1m1 0h1m3 0h1m4 0h1m1 0h2m14 0h1m2 0h1m1 0h1m2 0h1m18 0h1m3 0h1m16 0h1m11 0h1m1 0h1m3 0h1m18 0h1m1 0h1m20 0h1m11 0h2m1 0h1m8 0h1m11 0h1m4 0h2m5 0h1m3 0h1m3 0h1m11 0h1m7 0h1m14 0h1m7 0h1m4 0h1m2 0h1m1 0h2m3 0h1m2 0h1m3 0h2m11 0h2m2 0h1m4 0h1m24 0h1m2 0h1m2 0h1m11 0h1M8 239.35h1m3 0h1m1 0h1m2 0h1m3 0h1m6 0h1m1 0h1m4 0h1m4 0h1m6 0h1m20 0h1m2 0h1m3 0h1m9 0h1m4 0h1m1 0h1m2 0h1m2 0h2m5 0h1m6 0h1m12 0h1m6 0h1m5 0h1m2 0h1m11 0h1m6 0h4m2 0h1m4 0h2m3 0h1m2 0h1m11 0h1m2 0h1m10 0h1m3 0h1m4 0h2m12 0h1m10 0h2m6 0h1m2 0h1m1 0h2m2 0h1m5 0h2m6 0h1m1 0h1m29 0h1m5 0h1m8 0h1m6 0h1m4 0h1m20 0h2m7 0h1m5 0h2m5 0h2m16 0h1m4 0h2M2 232.75h1m13 0h1m13 0h1m3 0h1m2 0h1m1 0h1m16 0h1m7 0h1m6 0h1m1 0h1m3 0h1m12 0h1m5 0h1m2 0h2m1 0h2m9 0h1m9 0h1m20 0h1m2 0h1m2 0h1m3 0h1m1 0h1m6 0h1m7 0h1m3 0h1m5 0h1m2 0h1m8 0h1m4 0h1m15 0h1m16 0h1m4 0h1m1 0h1m21 0h1m6 0h1m3 0h2m3 0h1m1 0h1m9 0h1m7 0h1m20 0h1m4 0h1m1 0h1m2 0h2m11 0h1m1 0h1m5 0h1m3 0h1m19 0h1m4 0h1m4 0h2m3 0h2m4 0h1m3 0h1M0 226.15h2m4 0h2m3 0h2m4 0h1m1 0h1m14 0h1m5 0h1m9 0h1m1 0h1m17 0h1m1 0h1m8 0h1m3 0h1m4 0h1m8 0h1m4 0h1m3 0h2m10 0h1m6 0h2m25 0h2m16 0h1m19 0h1m4 0h1m9 0h2m4 0h1m2 0h2m10 0h1m32 0h1m10 0h2m2 0h2m5 0h1m6 0h1m2 0h1m8 0h1m8 0h1m4 0h1m3 0h1m10 0h1m5 0h1m4 0h1m6 0h1m2 0h1m11 0h1m21 0h1m2 0h1M15 219.55h1m1 0h1m4 0h1m3 0h1m32 0h1m19 0h1m19 0h1m20 0h1m2 0h1m4 0h1m1 0h1m7 0h1m5 0h1m2 0h1m1 0h1m1 0h1m12 0h1m1 0h1m15 0h1m2 0h1m2 0h3m1 0h1m2 0h1m3 0h1m6 0h1m10 0h1m5 0h2m1 0h1m11 0h3m10 0h1m19 0h2m4 0h1m2 0h1m3 0h1m1 0h1m7 0h1m3 0h1m3 0h1m5 0h1m13 0h1m12 0h1m4 0h1m1 0h2m5 0h1m9 0h2m1 0h1m5 0h1m1 0h1m8 0h1m6 0h1m1 0h1m8 0h1m1 0h1M2 212.95h1m10 0h2m17 0h1m24 0h1m2 0h1m1 0h1m15 0h1m3 0h1m2 0h2m2 0h1m14 0h1m2 0h1m6 0h1m4 0h1m1 0h1m5 0h1m1 0h1m1 0h1m3 0h1m20 0h1m5 0h1m7 0h1m3 0h1m11 0h1m1 0h1m4 0h1m3 0h1m6 0h1m4 0h1m1 0h1m3 0h1m3 0h1m4 0h1m7 0h1m17 0h1m1 0h1m3 0h1m1 0h1m11 0h1m23 0h1m4 0h1m4 0h1m1 0h1m3 0h1m1 0h1m5 0h1m17 0h1m12 0h1m7 0h1m6 0h1m7 0h1m12 0h2m10 0h1m1 0h1M8 206.35h1m2 0h1m11 0h1m7 0h1m5 0h2m10 0h1m13 0h1m5 0h1m4 0h1m10 0h1m5 0h1m4 0h1m8 0h1m1 0h1m8 0h1m9 0h1m16 0h1m1 0h1m10 0h1m8 0h1m5 0h1m17 0h2m12 0h1m16 0h2m5 0h1m3 0h1m4 0h1m2 0h1m2 0h1m3 0h1m3 0h1m2 0h1m16 0h2m1 0h1m5 0h1m6 0h2m1 0h2m6 0h1m10 0h1m28 0h1m6 0h1m4 0h1m6 0h1m6 0h1m5 0h1m5 0h1m8 0h2m1 0h1m2 0h2M2 199.75h2m8 0h1m3 0h1m3 0h1m1 0h1m2 0h1m5 0h1m1 0h1m1 0h2m9 0h1m6 0h1m4 0h1m17 0h1m11 0h1m7 0h1m3 0h2m7 0h2m7 0h1m6 0h1m2 0h2m15 0h1m2 0h1m13 0h1m16 0h1m9 0h1m5 0h1m9 0h1m6 0h1m23 0h1m6 0h1m1 0h2m23 0h1m14 0h1m9 0h1m7 0h2m2 0h1m4 0h1m6 0h1m3 0h1m1 0h1m11 0h1m8 0h1m7 0h1m4 0h2m3 0h2m8 0h1m7 0h2m6 0h1m8 0h1M5 193.15h1m4 0h2m11 0h2m1 0h1m14 0h1m2 0h1m1 0h1m4 0h1m13 0h1m5 0h1m1 0h2m12 0h1m7 0h1m2 0h1m9 0h1m1 0h1m12 0h1m12 0h1m1 0h2m1 0h1m6 0h1m3 0h1m6 0h1m2 0h1m1 0h1m19 0h1m5 0h1m5 0h1m6 0h1m4 0h1m5 0h1m7 0h2m9 0h1m9 0h1m2 0h1m7 0h1m4 0h1m3 0h1m9 0h1m1 0h1m1 0h1m7 0h1m5 0h1m1 0h1m5 0h1m4 0h3m3 0h2m4 0h1m1 0h1m2 0h1m2 0h1m29 0h1m3 0h1m2 0h1m2 0h1m10 0h1m1 0h2m5 0h1m3 0h1m8 0h1M24 186.55h1m10 0h1m1 0h1m5 0h2m4 0h1m12 0h1m2 0h1m16 0h3m1 0h1m1 0h1m2 0h1m1 0h1m17 0h1m12 0h1m1 0h1m10 0h2m6 0h1m30 0h2m3 0h1m2 0h2m3 0h1m13 0h1m1 0h1m2 0h1m6 0h1m10 0h1m2 0h1m1 0h1m10 0h1m5 0h1m20 0h3m2 0h1m9 0h1m8 0h1m6 0h1m8 0h1m29 0h1m5 0h1m9 0h1m5 0h1m15 0h1m1 0h1m2 0h1m7 0h1m1 0h1m1 0h1m1 0h2M6 179.95h1m12 0h1m13 0h1m14 0h2m6 0h1m12 0h1m7 0h1m4 0h1m10 0h2m3 0h4m4 0h1m9 0h1m13 0h1m14 0h1m24 0h1m1 0h1m5 0h1m7 0h1m1 0h1m11 0h1m2 0h1m1 0h1m3 0h1m4 0h1m8 0h1m2 0h1m1 0h1m14 0h1m1 0h1m19 0h1m2 0h1m5 0h1m5 0h3m2 0h1m7 0h1m4 0h1m6 0h1m7 0h1m16 0h1m7 0h1m3 0h1m14 0h2m1 0h1m7 0h1m12 0h1m2 0h2m6 0h1M12 173.35h1m4 0h1m3 0h1m27 0h1m6 0h1m31 0h1m7 0h1m23 0h1m5 0h1m3 0h2m12 0h1m2 0h2m3 0h1m2 0h1m2 0h1m2 0h1m2 0h1m4 0h1m4 0h2m12 0h1m17 0h1m4 0h1m8 0h1m4 0h1m20 0h1m6 0h1m22 0h1m6 0h1m10 0h2m2 0h2m2 0h1m7 0h1m2 0h1m3 0h1m1 0h1m3 0h1m1 0h1m20 0h1m8 0h2m1 0h1m9 0h1m3 0h2m2 0h2m2 0h1m11 0h1m1 0h1M9 166.75h1m5 0h1m6 0h1m12 0h1m5 0h1m9 0h1m13 0h1m11 0h1m5 0h1m3 0h1m2 0h2m1 0h2m10 0h1m7 0h1m3 0h1m6 0h1m12 0h1m11 0h1m5 0h2m7 0h1m5 0h2m1 0h1m2 0h1m1 0h1m10 0h1m9 0h1m7 0h1m2 0h1m5 0h1m3 0h1m26 0h1m26 0h2m9 0h1m4 0h1m5 0h1m1 0h1m5 0h1m7 0h1m6 0h1m1 0h1m4 0h1m19 0h1m4 0h1m2 0h1m12 0h2m3 0h1m1 0h1m7 0h1m4 0h1m10 0h2M7 160.15h1m9 0h1m4 0h1m11 0h2m1 0h1m8 0h1m2 0h2m7 0h1m4 0h1m2 0h1m8 0h1m20 0h1m2 0h1m3 0h1m2 0h1m6 0h1m2 0h1m6 0h1m7 0h1m2 0h1m1 0h1m10 0h2m8 0h1m13 0h1m2 0h1m6 0h1m5 0h1m1 0h2m13 0h1m45 0h1m18 0h1m16 0h1m4 0h2m2 0h1m5 0h1m10 0h1m4 0h1m3 0h1m7 0h1m20 0h1m3 0h1m3 0h1m3 0h1m4 0h1m2 0h1m2 0h1M4 153.55h1m3 0h1m5 0h1m3 0h1m18 0h2m2 0h1m14 0h1m1 0h1m7 0h1m2 0h1m6 0h2m3 0h1m6 0h1m2 0h1m13 0h1m9 0h1m6 0h2m6 0h1m5 0h1m9 0h1m8 0h1m10 0h1m1 0h1m6 0h1m5 0h1m2 0h1m3 0h1m6 0h1m6 0h1m1 0h1m1 0h1m4 0h1m7 0h1m7 0h2m5 0h1m1 0h1m11 0h1m10 0h1m1 0h2m4 0h1m3 0h2m9 0h1m9 0h2m1 0h1m1 0h2m18 0h2m11 0h1m5 0h1m8 0h1m2 0h1m1 0h2m16 0h2m6 0h1m5 0h1m3 0h1m2 0h2m1 0h1M7 146.95h1m2 0h1m2 0h1m10 0h1m4 0h1m7 0h1m8 0h2m8 0h1m1 0h2m4 0h1m8 0h2m8 0h1m8 0h1m4 0h1m1 0h1m25 0h3m7 0h2m1 0h1m2 0h1m5 0h1m6 0h2m1 0h2m3 0h1m7 0h1m4 0h1m4 0h1m1 0h1m12 0h1m2 0h1m1 0h1m11 0h2m6 0h1m6 0h1m1 0h1m7 0h1m4 0h1m3 0h1m4 0h1m2 0h1m1 0h1m5 0h2m3 0h1m1 0h1m13 0h1m12 0h1m20 0h1m2 0h2m4 0h1m9 0h1m2 0h2m19 0h1m4 0h2m4 0h1m1 0h1m3 0h1m10 0h1M0 140.35h1m1 0h1m5 0h1m3 0h1m14 0h1m1 0h1m1 0h1m8 0h1m1 0h1m3 0h1m2 0h1m2 0h1m13 0h1m1 0h1m4 0h1m5 0h1m6 0h1m5 0h1m13 0h1m2 0h2m3 0h2m9 0h1m8 0h1m1 0h1m15 0h1m1 0h1m8 0h1m4 0h1m2 0h1m4 0h1m1 0h1m4 0h2m8 0h1m1 0h1m5 0h1m7 0h1m1 0h1m8 0h2m1 0h1m2 0h1m4 0h1m21 0h1m4 0h1m22 0h4m5 0h1m19 0h1m1 0h1m4 0h1m1 0h2m3 0h2m24 0h1m23 0h1m5 0h2m5 0h2m10 0h1M9 133.75h1m3 0h1m3 0h1m9 0h1m3 0h1m7 0h1m5 0h1m2 0h1m3 0h1m3 0h1m5 0h1m19 0h2m3 0h1m10 0h3m4 0h1m2 0h1m3 0h1m15 0h1m12 0h1m2 0h1m4 0h1m7 0h1m15 0h1m9 0h4m1 0h1m7 0h1m7 0h1m3 0h1m1 0h1m8 0h1m2 0h1m14 0h1m1 0h1m12 0h2m3 0h1m32 0h1m4 0h1m13 0h2m12 0h1m3 0h1m1 0h1m5 0h1m6 0h1m7 0h1m4 0h1m1 0h1m41 0h1M5 127.15h1m3 0h2m3 0h2m4 0h1m2 0h1m7 0h3m12 0h2m15 0h1m20 0h1m8 0h1m1 0h1m24 0h2m1 0h2m7 0h2m2 0h1m3 0h1m3 0h1m24 0h1m4 0h1m8 0h1m10 0h1m7 0h3m1 0h1m1 0h1m1 0h1m1 0h1m10 0h1m1 0h1m5 0h1m1 0h1m4 0h1m4 0h1m7 0h1m7 0h1m18 0h2m6 0h1m10 0h1m6 0h1m3 0h1m5 0h1m4 0h4m5 0h1m4 0h2m16 0h1m3 0h2m4 0h1m4 0h1m21 0h1m10 0h1M9 120.55h1m2 0h1m1 0h1m10 0h1m13 0h2m7 0h1m16 0h2m6 0h1m1 0h1m5 0h1m4 0h1m6 0h2m4 0h2m5 0h1m15 0h1m1 0h1m18 0h1m1 0h2m6 0h1m19 0h1m17 0h1m13 0h1m13 0h1m3 0h1m4 0h1m7 0h1m1 0h1m9 0h1m10 0h1m3 0h2m6 0h1m1 0h1m18 0h2m19 0h1m4 0h1m10 0h1m1 0h1m13 0h2m6 0h1m6 0h1m10 0h2m20 0h1M1 113.95h1m3 0h1m5 0h1m6 0h1m17 0h1m9 0h1m3 0h1m2 0h1m5 0h1m9 0h2m1 0h1m1 0h1m15 0h1m4 0h1m5 0h1m1 0h1m6 0h1m4 0h1m4 0h1m2 0h1m10 0h1m17 0h1m7 0h1m4 0h1m6 0h1m3 0h1m5 0h1m3 0h1m6 0h1m16 0h1m14 0h1m6 0h1m2 0h1m4 0h1m4 0h1m4 0h1m11 0h2m6 0h1m13 0h1m14 0h2m5 0h1m3 0h1m4 0h1m2 0h1m4 0h1m2 0h1m3 0h1m4 0h1m1 0h2m2 0h1m1 0h3m7 0h1m12 0h1m11 0h1m2 0h1m8 0h1m2 0h1m1 0h1m1 0h1m1 0h1M0 107.35h2m20 0h2m7 0h1m4 0h1m5 0h1m10 0h1m13 0h1m5 0h1m1 0h1m14 0h1m12 0h1m5 0h2m1 0h1m18 0h1m7 0h1m16 0h1m9 0h1m1 0h1m8 0h1m3 0h2m4 0h1m3 0h2m6 0h1m21 0h2m3 0h1m9 0h1m6 0h1m2 0h3m9 0h1m5 0h1m13 0h1m7 0h1m2 0h1m3 0h2m5 0h1m25 0h2m1 0h2m7 0h2m4 0h1m5 0h1m12 0h1m1 0h1m17 0h1m10 0h1M0 100.75h1m19 0h1m3 0h3m7 0h1m7 0h1m21 0h1m16 0h2m8 0h1m7 0h1m4 0h1m4 0h1m3 0h1m9 0h1m1 0h1m2 0h1m15 0h1m7 0h1m2 0h1m5 0h1m23 0h1m4 0h1m10 0h1m1 0h1m10 0h2m22 0h2m1 0h1m2 0h1m3 0h1m8 0h1m4 0h1m3 0h1m7 0h1m3 0h1m4 0h1m1 0h2m4 0h1m3 0h1m4 0h1m5 0h1m2 0h1m2 0h1m2 0h1m27 0h2m2 0h2m1 0h1m1 0h1m5 0h1m2 0h1m3 0h1m7 0h1m16 0h1m1 0h2M3 94.15h1m14 0h1m5 0h1m2 0h2m8 0h1m8 0h1m5 0h1m4 0h1m6 0h1m7 0h2m3 0h1m2 0h1m1 0h1m14 0h1m15 0h1m14 0h2m19 0h1m3 0h2m7 0h1m7 0h1m13 0h1m5 0h1m8 0h1m1 0h1m12 0h2m1 0h2m7 0h1m2 0h1m1 0h1m3 0h2m14 0h1m10 0h1m9 0h1m10 0h1m7 0h1m3 0h1m7 0h3m21 0h1m1 0h1m8 0h1m2 0h1m3 0h1m8 0h2m8 0h1m4 0h2m3 0h3m2 0h3m10 0h2m4 0h1M1 87.55h1m2 0h1m8 0h2m14 0h1m3 0h1m1 0h1m5 0h1m22 0h2m25 0h1m7 0h1m2 0h2m5 0h1m9 0h1m5 0h2m1 0h2m10 0h1m3 0h1m4 0h1m16 0h1m10 0h1m5 0h1m8 0h1m2 0h1m4 0h1m3 0h1m3 0h1m15 0h1m6 0h1m2 0h1m11 0h3m5 0h1m2 0h1m2 0h1m1 0h1m3 0h1m10 0h1m5 0h1m8 0h1m5 0h1m12 0h2m1 0h1m3 0h1m13 0h1m7 0h1m9 0h2m2 0h1m6 0h1m9 0h1m9 0h2m9 0h1m2 0h1m2 0h1M8 80.95h3m3 0h1m1 0h1m5 0h1m15 0h2m1 0h1m3 0h1m7 0h1m6 0h1m6 0h1m6 0h1m18 0h1m6 0h1m7 0h1m2 0h1m1 0h1m1 0h3m2 0h1m27 0h2m5 0h1m1 0h1m8 0h1m5 0h1m4 0h1m1 0h2m6 0h1m3 0h1m10 0h1m6 0h2m5 0h1m1 0h1m8 0h1m1 0h1m6 0h1m2 0h2m2 0h1m5 0h1m7 0h2m1 0h1m3 0h1m5 0h1m23 0h1m1 0h1m11 0h1m1 0h1m12 0h1m1 0h1m18 0h1m7 0h1m6 0h1m3 0h1m5 0h1m11 0h1m9 0h1m2 0h1m4 0h1M1 74.35h1m1 0h1m4 0h1m3 0h1m6 0h1m8 0h1m5 0h1m4 0h1m14 0h1m4 0h1m5 0h1m1 0h1m2 0h1m6 0h1m2 0h1m16 0h1m2 0h1m16 0h2m6 0h1m3 0h2m10 0h1m1 0h1m6 0h1m2 0h1m15 0h1m1 0h1m1 0h1m1 0h2m17 0h1m7 0h1m5 0h1m29 0h2m1 0h1m9 0h2m17 0h1m4 0h1m1 0h1m10 0h1m19 0h1m1 0h1m3 0h1m5 0h1m3 0h1m22 0h1m2 0h1m4 0h1m6 0h1m2 0h1m8 0h1m2 0h1M7 67.75h1m3 0h1m15 0h1m1 0h1m1 0h1m1 0h1m5 0h1m2 0h2m2 0h1m4 0h1m20 0h2m7 0h1m6 0h1m2 0h2m4 0h1m2 0h1m3 0h1m2 0h1m1 0h1m2 0h2m5 0h1m1 0h1m3 0h1m2 0h1m20 0h1m5 0h1m3 0h1m2 0h1m1 0h1m5 0h1m6 0h1m1 0h1m7 0h1m10 0h1m2 0h1m12 0h1m5 0h1m6 0h1m3 0h2m6 0h1m8 0h1m4 0h1m10 0h1m6 0h1m9 0h1m1 0h1m3 0h1m3 0h1m3 0h1m14 0h2m3 0h1m1 0h1m18 0h1m6 0h1m1 0h1m11 0h1m12 0h1m11 0h1m3 0h1m10 0h1"/>
<path stroke="#4771e9" d="M2 694.75h1m2 0h2m7 0h2m4 0h1m1 0h1m8 0h2m18 0h1m3 0h1m2 0h1m1 0h1m1 0h1m9 0h1m2 0h1m7 0h1m3 0h2m12 0h1m2 0h1m1 0h2m9 0h1m6 0h1m2 0h1m6 0h1m16 0h1m4 0h1m1 0h1m2 0h1m18 0h1m1 0h1m3 0h1m4 0h2m2 0h1m8 0h1m3 0h1m5 0h2m3 0h1m2 0h1m12 0h2m1 0h1m2 0h1m4 0h1m1 0h1m5 0h1m27 0h2m13 0h1m6 0h1m3 0h3m5 0h1m3 0h1m16 0h2m1 0h1m18 0h1m4 0h1m2 0h1m3 0h1m4 0h2m2 0h1m2 0h1m5 0h1m2 0h1m1 0h1m1 0h1m1 0h1M5 688.15h1m1 0h2m6 0h1m5 0h2m4 0h1m8 0h1m1 0h2m11 0h1m2 0h1m1 0h1m4 0h1m3 0h1m5 0h1m5 0h1m1 0h1m1 0h1m3 0h1m4 0h1m8 0h1m4 0h1m6 0h1m2 0h1m5 0h1m2 0h1m1 0h1m20 0h1m4 0h1m3 0h2m6 0h1m4 0h2m2 0h3m10 0h1m1 0h1m3 0h1m4 0h1m2 0h1m5 0h1m9 0h1m2 0h1m6 0h1m4 0h1m6 0h2m1 0h1m1 0h2m6 0h1m19 0h1m1 0h1m1 0h1m1 0h1m9 0h1m6 0h1m16 0h2m2 0h1m4 0h1m1 0h1m1 0h1m1 0h1m1 0h2m9 0h1m6 0h1m6 0h2m3 0h1m2 0h1m5 0h1m5 0h1m1 0h1m3 0h3m2 0h1m1 0h1M6 681.55h1m3 0h1m3 0h1m2 0h1m9 0h2m5 0h1m3 0h1m3 0h1m12 0h1m1 0h1m2 0h1m6 0h1m2 0h1m6 0h1m2 0h1m6 0h1m3 0h1m6 0h2m6 0h2m2 0h1m1 0h1m7 0h1m1 0h2m8 0h2m5 0h2m4 0h1m20 0h1m1 0h1m1 0h2m9 0h1m2 0h1m3 0h1m42 0h1m1 0h2m9 0h2m14 0h1m6 0h1m5 0h2m17 0h1m5 0h2m5 0h1m3 0h1m5 0h1m4 0h3m4 0h1m8 0h1m3 0h3m1 0h1m1 0h1m4 0h1m3 0h1m7 0h1m1 0h2m2 0h1m7 0h1m7 0h2m11 0h1M8 674.95h1m2 0h1m2 0h2m4 0h1m5 0h1m1 0h1m13 0h2m1 0h1m3 0h1m10 0h1m12 0h1m15 0h3m8 0h1m8 0h1m2 0h1m4 0h1m7 0h1m5 0h1m2 0h3m7 0h2m10 0h2m6 0h1m4 0h1m1 0h1m3 0h1m1 0h1m12 0h1m5 0h1m3 0h1m2 0h1m4 0h2m3 0h2m1 0h1m2 0h1m3 0h1m8 0h2m5 0h1m5 0h1m4 0h1m1 0h1m6 0h1m1 0h1m4 0h1m3 0h1m5 0h1m3 0h1m3 0h1m11 0h2m19 0h1m1 0h1m8 0h1m1 0h2m3 0h1m2 0h1m3 0h1m3 0h1m12 0h1m2 0h1m3 0h3m2 0h1m3 0h1m6 0h2m4 0h1m2 0h2m2 0h1M9 668.35h1m1 0h1m3 0h1m1 0h2m2 0h1m3 0h2m2 0h1m14 0h2m2 0h2m7 0h1m4 0h1m1 0h1m14 0h1m1 0h1m6 0h2m6 0h1m4 0h2m8 0h1m20 0h1m9 0h1m7 0h1m3 0h1m9 0h1m4 0h1m1 0h1m2 0h1m10 0h1m1 0h1m6 0h2m7 0h2m21 0h1m2 0h1m3 0h1m5 0h1m3 0h1m2 0h1m7 0h1m7 0h1m10 0h1m4 0h1m2 0h2m1 0h1m2 0h1m5 0h1m4 0h1m7 0h2m4 0h3m17 0h2m3 0h1m1 0h1m4 0h1m7 0h1m2 0h2m7 0h3m1 0h1m2 0h1m4 0h1m11 0h1m8 0h1M9 661.75h1m2 0h1m4 0h2m3 0h1m3 0h2m1 0h1m7 0h2m1 0h1m2 0h1m12 0h1m2 0h1m1 0h1m8 0h1m3 0h1m3 0h1m4 0h1m1 0h1m5 0h1m2 0h1m14 0h1m4 0h1m5 0h1m5 0h1m5 0h1m2 0h1m1 0h1m1 0h1m5 0h1m1 0h1m3 0h1m17 0h2m8 0h1m5 0h1m1 0h2m15 0h1m14 0h1m2 0h2m11 0h1m2 0h1m1 0h1m4 0h1m4 0h2m6 0h1m4 0h2m7 0h1m16 0h1m1 0h1m1 0h1m2 0h1m5 0h1m4 0h1m7 0h1m13 0h2m10 0h2m2 0h1m5 0h2m3 0h1m15 0h1m4 0h1m6 0h1m5 0h1m3 0h1m2 0h1M5 655.15h1m4 0h1m1 0h1m7 0h1m1 0h1m2 0h1m3 0h1m3 0h1m4 0h1m2 0h1m33 0h1m1 0h1m3 0h1m1 0h2m2 0h1m4 0h1m11 0h1m3 0h1m12 0h1m16 0h1m3 0h1m17 0h1m2 0h2m4 0h1m7 0h1m1 0h1m6 0h1m11 0h1m1 0h2m4 0h2m5 0h1m1 0h1m6 0h1m6 0h1m3 0h1m3 0h1m9 0h1m5 0h1m17 0h1m4 0h2m8 0h1m11 0h1m8 0h1m3 0h1m7 0h1m2 0h1m1 0h1m5 0h1m4 0h2m3 0h1m2 0h2m4 0h1m5 0h3m9 0h1m7 0h2m1 0h1m4 0h1m3 0h1m4 0h1m6 0h1M0 648.55h1m3 0h1m2 0h1m8 0h1m9 0h1m2 0h1m9 0h1m9 0h1m2 0h1m5 0h1m3 0h1m8 0h3m4 0h1m1 0h1m2 0h3m1 0h2m1 0h1m6 0h1m1 0h2m8 0h1m2 0h1m3 0h1m10 0h1m3 0h1m2 0h1m4 0h1m15 0h3m2 0h1m2 0h1m15 0h2m4 0h2m6 0h1m6 0h1m8 0h1m2 0h2m2 0h2m4 0h3m1 0h1m2 0h1m4 0h1m2 0h2m23 0h1m2 0h2m6 0h1m11 0h1m7 0h1m5 0h2m4 0h1m1 0h1m1 0h2m11 0h1m2 0h1m1 0h2m1 0h1m11 0h1m1 0h1m9 0h1m7 0h1m4 0h1m1 0h1m6 0h1m13 0h1m8 0h1M3 641.95h1m3 0h1m7 0h1m4 0h2m6 0h1m2 0h1m1 0h1m2 0h1m9 0h1m5 0h1m4 0h1m1 0h2m1 0h1m15 0h1m5 0h1m3 0h1m3 0h1m5 0h1m6 0h2m26 0h3m2 0h1m4 0h1m4 0h1m5 0h1m1 0h1m1 0h1m5 0h1m6 0h1m4 0h2m9 0h1m1 0h1m4 0h1m5 0h1m2 0h2m1 0h1m5 0h1m2 0h1m3 0h3m1 0h1m6 0h1m1 0h1m2 0h2m7 0h1m7 0h1m5 0h1m5 0h2m1 0h1m9 0h2m3 0h2m8 0h1m1 0h1m10 0h2m5 0h1m12 0h1m5 0h1m5 0h1m1 0h1m4 0h1m3 0h1m6 0h2m5 0h2m4 0h2m3 0h1m8 0h1m1 0h1m9 0h1m3 0h1M4 635.35h1m3 0h2m7 0h1m6 0h1m9 0h1m2 0h1m2 0h1m1 0h1m1 0h1m8 0h1m1 0h1m2 0h1m2 0h2m1 0h1m3 0h1m6 0h1m3 0h1m3 0h1m7 0h1m1 0h4m4 0h1m4 0h1m10 0h1m4 0h1m2 0h2m1 0h1m1 0h2m6 0h2m1 0h2m5 0h1m1 0h2m2 0h1m2 0h3m2 0h1m9 0h3m8 0h1m6 0h2m17 0h2m5 0h2m4 0h1m9 0h1m1 0h2m23 0h1m3 0h1m13 0h1m11 0h1m9 0h1m1 0h1m1 0h1m1 0h1m2 0h1m2 0h1m3 0h1m1 0h1m11 0h2m3 0h1m3 0h1m2 0h1m3 0h1m2 0h2m5 0h1m2 0h1m5 0h1m5 0h1m3 0h1m8 0h1m4 0h1m4 0h1m1 0h1m1 0h1m1 0h1M1 628.75h1m5 0h2m9 0h2m11 0h1m2 0h1m1 0h1m2 0h1m1 0h1m3 0h1m1 0h2m9 0h1m8 0h1m2 0h1m1 0h2m5 0h1m2 0h1m3 0h1m6 0h1m3 0h1m3 0h3m8 0h1m1 0h1m2 0h1m5 0h1m2 0h1m2 0h1m4 0h1m3 0h1m3 0h1m1 0h1m1 0h1m7 0h1m2 0h1m5 0h1m2 0h1m1 0h1m3 0h2m9 0h2m4 0h1m3 0h1m6 0h1m1 0h1m1 0h1m4 0h2m8 0h4m1 0h2m1 0h1m1 0h2m10 0h1m4 0h1m12 0h1m2 0h2m1 0h1m6 0h2m7 0h2m2 0h1m1 0h1m16 0h2m6 0h1m8 0h1m10 0h1m1 0h1m8 0h1m2 0h1m4 0h1m2 0h1m2 0h1m1 0h1m7 0h1m1 0h1m4 0h1m6 0h2m4 0h1m4 0h1m1 0h2m2 0h1M10 622.15h2m7 0h1m4 0h1m7 0h1m9 0h2m6 0h1m4 0h1m16 0h1m14 0h1m4 0h1m2 0h1m5 0h1m5 0h1m6 0h1m6 0h2m1 0h1m17 0h1m12 0h1m1 0h1m1 0h1m4 0h1m4 0h1m13 0h1m2 0h1m8 0h1m5 0h1m2 0h1m2 0h1m8 0h1m2 0h1m2 0h1m2 0h1m4 0h1m2 0h2m4 0h1m10 0h1m4 0h2m1 0h1m12 0h1m8 0h1m14 0h1m2 0h1m3 0h1m6 0h1m3 0h2m1 0h1m5 0h1m1 0h1m8 0h2m6 0h1m17 0h2m3 0h1m4 0h1m7 0h1m8 0h1m5 0h2M27 615.55h1m6 0h1m2 0h1m11 0h1m3 0h1m1 0h1m9 0h3m2 0h1m4 0h1m7 0h3m4 0h1m2 0h1m1 0h1m1 0h1m10 0h1m6 0h3m7 0h1m5 0h1m3 0h1m1 0h2m7 0h2m1 0h1m5 0h1m2 0h1m4 0h1m11 0h1m1 0h1m1 0h1m12 0h1m14 0h1m3 0h1m3 0h1m1 0h1m2 0h1m4 0h1m1 0h1m4 0h1m7 0h1m2 0h1m5 0h1m5 0h1m10 0h1m6 0h2m1 0h1m2 0h1m1 0h3m2 0h1m6 0h2m4 0h1m1 0h1m2 0h1m3 0h1m1 0h1m6 0h1m5 0h3m1 0h1m13 0h1m2 0h3m4 0h1m1 0h1m2 0h1m8 0h1m5 0h1m1 0h1m5 0h1m2 0h1m6 0h1m2 0h1m1 0h1m3 0h1M2 608.95h1m3 0h2m5 0h1m6 0h2m10 0h1m6 0h1m9 0h1m1 0h1m11 0h2m4 0h1m10 0h2m1 0h1m4 0h1m4 0h1m8 0h1m1 0h1m10 0h1m18 0h1m1 0h1m14 0h1m3 0h1m2 0h2m3 0h1m4 0h1m4 0h1m2 0h1m1 0h1m5 0h3m2 0h1m4 0h2m11 0h1m1 0h1m2 0h1m4 0h1m7 0h1m8 0h1m5 0h1m2 0h1m1 0h1m1 0h1m1 0h1m2 0h1m3 0h1m11 0h2m4 0h1m1 0h1m2 0h1m5 0h1m5 0h1m1 0h1m5 0h1m3 0h1m3 0h1m1 0h1m3 0h1m1 0h1m1 0h1m17 0h1m7 0h1m5 0h1m3 0h1m3 0h1m8 0h1m3 0h1m1 0h1m1 0h2m4 0h1m3 0h1m7 0h1M3 602.35h1m2 0h1m4 0h1m8 0h1m20 0h1m4 0h1m13 0h1m1 0h1m6 0h1m7 0h1m16 0h1m5 0h1m5 0h1m6 0h2m4 0h1m1 0h2m1 0h1m4 0h1m8 0h1m6 0h1m23 0h2m1 0h1m1 0h1m12 0h1m1 0h1m8 0h2m5 0h1m10 0h1m1 0h2m4 0h1m5 0h2m4 0h2m7 0h2m3 0h1m3 0h2m16 0h1m4 0h1m3 0h1m3 0h1m2 0h1m4 0h2m2 0h2m1 0h1m8 0h1m1 0h1m2 0h1m2 0h1m1 0h1m4 0h1m14 0h2m8 0h1m2 0h1m14 0h1m8 0h1m6 0h1m1 0h1m3 0h1m6 0h1M0 595.75h2m1 0h1m2 0h1m2 0h1m13 0h1m3 0h1m1 0h1m4 0h1m1 0h3m1 0h2m1 0h1m1 0h2m2 0h1m5 0h2m3 0h1m2 0h1m10 0h1m6 0h1m11 0h1m5 0h1m10 0h1m4 0h1m5 0h2m3 0h1m5 0h1m1 0h1m14 0h1m7 0h2m2 0h1m29 0h1m2 0h1m3 0h1m1 0h1m9 0h1m1 0h2m1 0h1m3 0h1m3 0h2m4 0h1m7 0h3m11 0h1m9 0h1m2 0h1m13 0h1m2 0h1m1 0h1m5 0h1m13 0h2m3 0h1m3 0h1m11 0h1m1 0h2m5 0h1m1 0h2m2 0h1m8 0h1m8 0h1m4 0h1m18 0h1m2 0h1m9 0h2m2 0h1M3 589.15h1m10 0h1m6 0h2m8 0h1m1 0h1m9 0h1m1 0h2m4 0h1m3 0h2m1 0h1m3 0h1m2 0h1m14 0h1m11 0h1m1 0h1m1 0h1m5 0h2m12 0h1m1 0h1m11 0h1m2 0h1m10 0h1m3 0h1m5 0h2m9 0h1m2 0h1m4 0h1m5 0h2m14 0h1m4 0h1m12 0h1m5 0h1m4 0h1m2 0h1m2 0h1m2 0h1m3 0h1m7 0h1m5 0h1m2 0h1m4 0h1m2 0h2m3 0h1m7 0h2m12 0h1m5 0h1m4 0h1m5 0h2m11 0h1m12 0h1m6 0h1m2 0h1m2 0h4m10 0h1m2 0h2m1 0h1m8 0h1m5 0h1m4 0h1m1 0h1m4 0h1m5 0h1M11 582.55h3m6 0h1m7 0h1m2 0h1m2 0h3m21 0h1m1 0h1m3 0h2m4 0h1m1 0h2m1 0h1m5 0h1m2 0h1m4 0h1m1 0h1m5 0h1m1 0h2m6 0h1m2 0h1m4 0h1m1 0h1m5 0h1m1 0h1m3 0h1m10 0h1m8 0h1m4 0h1m2 0h1m11 0h1m8 0h1m3 0h1m3 0h1m1 0h1m9 0h2m2 0h3m7 0h1m13 0h2m2 0h1m1 0h1m11 0h1m1 0h1m10 0h1m2 0h1m6 0h2m4 0h1m1 0h1m15 0h1m17 0h1m2 0h1m3 0h2m1 0h1m1 0h3m6 0h3m2 0h2m5 0h1m1 0h1m5 0h1m1 0h1m5 0h1m2 0h3m13 0h3m10 0h1m3 0h1m4 0h1M5 575.95h2m5 0h1m1 0h1m1 0h1m9 0h2m1 0h1m4 0h1m2 0h1m6 0h1m11 0h1m1 0h3m6 0h1m5 0h1m16 0h1m11 0h1m4 0h1m3 0h1m5 0h1m6 0h1m7 0h1m7 0h2m10 0h2m2 0h1m3 0h1m13 0h1m16 0h2m5 0h1m2 0h1m3 0h1m6 0h1m3 0h1m3 0h1m13 0h1m1 0h2m2 0h2m11 0h1m2 0h1m20 0h1m16 0h1m3 0h2m2 0h2m2 0h1m1 0h1m4 0h2m1 0h1m4 0h1m3 0h1m8 0h1m3 0h1m9 0h1m7 0h3m13 0h1m2 0h1m1 0h1m12 0h1m2 0h1m5 0h1M7 569.35h1m2 0h1m12 0h1m9 0h1m2 0h1m5 0h1m24 0h1m1 0h1m12 0h1m4 0h1m3 0h1m3 0h1m1 0h2m5 0h2m1 0h1m6 0h2m3 0h1m8 0h1m3 0h1m1 0h2m20 0h2m1 0h1m6 0h1m3 0h1m7 0h1m1 0h2m6 0h1m4 0h2m3 0h2m6 0h1m1 0h2m5 0h1m3 0h1m7 0h1m15 0h2m3 0h1m4 0h1m13 0h1m1 0h1m2 0h1m1 0h1m3 0h1m6 0h1m1 0h2m13 0h1m1 0h1m3 0h1m3 0h1m3 0h1m3 0h1m10 0h1m8 0h1m5 0h2m1 0h1m1 0h1m1 0h1m3 0h1m10 0h1m1 0h1m1 0h3m2 0h1m2 0h1m2 0h1m5 0h1m1 0h2m1 0h1M5 562.75h1m1 0h1m6 0h1m2 0h1m4 0h3m14 0h1m1 0h1m3 0h1m3 0h1m2 0h1m1 0h1m8 0h1m3 0h1m3 0h1m3 0h1m3 0h1m2 0h1m6 0h1m2 0h2m1 0h1m3 0h1m4 0h1m1 0h1m1 0h1m3 0h1m5 0h1m1 0h1m3 0h1m2 0h1m1 0h1m13 0h1m2 0h2m7 0h1m2 0h1m4 0h1m5 0h2m8 0h1m4 0h1m1 0h1m10 0h1m19 0h1m2 0h1m1 0h2m2 0h2m5 0h1m1 0h1m3 0h1m1 0h1m6 0h1m6 0h1m4 0h1m1 0h1m7 0h2m15 0h1m10 0h1m4 0h1m9 0h1m28 0h2m1 0h1m4 0h1m7 0h3m1 0h1m3 0h1m5 0h1m2 0h2m2 0h2m1 0h1m4 0h1m2 0h1m3 0h1M6 556.15h1m7 0h1m3 0h1m3 0h1m22 0h2m1 0h1m7 0h1m3 0h1m7 0h1m8 0h1m11 0h1m2 0h1m9 0h1m2 0h1m9 0h1m4 0h2m8 0h2m10 0h1m5 0h2m3 0h1m3 0h1m5 0h1m3 0h2m6 0h1m3 0h1m10 0h2m2 0h1m14 0h1m11 0h1m4 0h1m13 0h1m2 0h1m22 0h2m1 0h3m2 0h1m4 0h1m4 0h1m2 0h1m2 0h1m1 0h3m13 0h3m14 0h1m2 0h1m1 0h1m13 0h1m12 0h1m4 0h3m1 0h1m1 0h1m2 0h2m3 0h1m4 0h1m4 0h1m1 0h1m3 0h1m4 0h2M17 549.55h1m6 0h1m3 0h1m2 0h1m1 0h1m6 0h1m2 0h1m6 0h1m6 0h1m5 0h1m4 0h1m1 0h1m5 0h2m3 0h1m7 0h1m3 0h1m4 0h1m8 0h1m12 0h1m4 0h1m3 0h1m7 0h1m2 0h1m1 0h1m6 0h1m8 0h2m1 0h1m5 0h1m2 0h1m4 0h2m2 0h1m3 0h2m1 0h1m3 0h1m12 0h3m11 0h1m15 0h1m1 0h2m5 0h1m6 0h1m10 0h1m5 0h1m3 0h1m1 0h1m1 0h1m5 0h1m2 0h1m6 0h1m10 0h1m5 0h2m1 0h3m2 0h1m5 0h1m2 0h1m16 0h1m9 0h1m2 0h2m2 0h1m5 0h1m1 0h1m4 0h1m4 0h1m2 0h1m2 0h1m8 0h1M6 542.95h1m2 0h1m5 0h1m2 0h2m2 0h1m4 0h1m5 0h2m1 0h1m5 0h1m5 0h3m6 0h2m9 0h1m3 0h1m3 0h1m3 0h1m7 0h2m1 0h1m9 0h1m6 0h1m3 0h1m1 0h1m7 0h1m4 0h1m3 0h1m7 0h1m1 0h2m11 0h1m1 0h1m2 0h1m11 0h2m4 0h1m5 0h1m5 0h1m4 0h2m4 0h2m12 0h1m12 0h1m7 0h1m1 0h1m5 0h2m4 0h1m7 0h1m6 0h1m4 0h1m1 0h1m4 0h2m10 0h1m3 0h1m2 0h1m17 0h1m2 0h1m3 0h1m13 0h1m12 0h1m12 0h1m12 0h1m3 0h1m3 0h1m2 0h1m1 0h1m3 0h1M0 536.35h1m1 0h1m2 0h1m4 0h1m4 0h1m5 0h1m2 0h1m2 0h3m2 0h1m1 0h1m1 0h1m2 0h2m4 0h1m8 0h1m3 0h1m4 0h1m1 0h1m3 0h1m29 0h3m13 0h1m4 0h1m1 0h1m1 0h1m1 0h1m8 0h1m4 0h1m3 0h2m1 0h1m3 0h1m2 0h1m1 0h1m6 0h1m10 0h1m16 0h1m6 0h1m1 0h2m24 0h2m7 0h1m1 0h1m1 0h1m1 0h4m1 0h1m2 0h1m2 0h1m4 0h1m2 0h3m22 0h1m33 0h1m2 0h1m6 0h1m1 0h1m6 0h1m8 0h1m12 0h1m23 0h2m1 0h1m11 0h1M1 529.75h1m3 0h1m3 0h1m4 0h1m2 0h1m2 0h1m2 0h1m7 0h2m5 0h1m3 0h1m2 0h1m7 0h1m19 0h1m8 0h1m1 0h1m9 0h1m18 0h1m1 0h2m7 0h2m5 0h1m4 0h1m10 0h1m1 0h1m14 0h1m1 0h1m2 0h2m13 0h2m1 0h1m2 0h1m3 0h1m4 0h1m1 0h1m1 0h1m4 0h1m1 0h1m14 0h1m3 0h1m9 0h1m3 0h1m3 0h1m3 0h1m8 0h1m2 0h1m22 0h1m2 0h2m6 0h2m3 0h1m6 0h1m3 0h1m1 0h1m8 0h1m3 0h1m10 0h1m2 0h1m9 0h1m10 0h1m1 0h1m15 0h1m2 0h1m8 0h1m3 0h1M0 523.15h1m3 0h1m10 0h1m2 0h1m5 0h2m1 0h1m2 0h1m1 0h1m1 0h1m16 0h1m2 0h1m3 0h1m5 0h1m17 0h1m2 0h2m5 0h1m7 0h1m9 0h1m7 0h1m4 0h1m9 0h1m6 0h1m9 0h1m8 0h3m2 0h1m2 0h1m2 0h1m7 0h1m1 0h1m12 0h1m3 0h1m1 0h1m2 0h1m8 0h1m4 0h1m9 0h2m7 0h1m6 0h1m1 0h2m2 0h1m4 0h1m2 0h1m1 0h1m1 0h1m3 0h1m10 0h1m12 0h1m23 0h2m4 0h1m1 0h2m4 0h1m8 0h1m2 0h1m2 0h1m14 0h3m1 0h1m2 0h1m10 0h1m3 0h1m2 0h1m4 0h1m1 0h1m4 0h1m3 0h2M2 516.55h2m5 0h1m2 0h1m6 0h2m5 0h1m10 0h1m1 0h1m12 0h1m6 0h2m2 0h1m1 0h1m6 0h1m6 0h1m2 0h2m2 0h1m2 0h2m6 0h2m2 0h1m8 0h1m2 0h1m15 0h1m1 0h1m3 0h2m4 0h1m4 0h1m5 0h1m5 0h1m1 0h1m4 0h1m5 0h2m1 0h1m1 0h1m1 0h4m2 0h1m4 0h1m3 0h1m6 0h1m3 0h1m1 0h1m10 0h1m11 0h1m2 0h1m15 0h3m10 0h1m3 0h1m5 0h1m1 0h1m2 0h1m3 0h1m1 0h1m9 0h2m1 0h1m1 0h1m7 0h1m3 0h1m1 0h1m3 0h1m1 0h2m5 0h1m1 0h1m2 0h1m5 0h1m7 0h1m4 0h1m3 0h2m1 0h1m2 0h2m9 0h1m3 0h1m12 0h1m9 0h1M5 509.95h1m21 0h2m2 0h1m9 0h1m3 0h2m1 0h2m10 0h1m3 0h1m12 0h1m2 0h1m5 0h1m2 0h1m13 0h1m5 0h1m4 0h1m7 0h1m10 0h1m3 0h1m4 0h1m9 0h1m3 0h1m5 0h3m4 0h1m7 0h2m1 0h2m4 0h1m1 0h2m3 0h2m4 0h1m1 0h2m3 0h1m11 0h1m4 0h1m1 0h2m2 0h1m3 0h1m6 0h1m4 0h1m2 0h1m1 0h1m7 0h1m4 0h1m2 0h1m10 0h1m2 0h2m7 0h1m8 0h1m1 0h1m3 0h1m9 0h1m1 0h1m10 0h1m4 0h2m6 0h1m2 0h1m3 0h1m2 0h1m8 0h2m5 0h1m4 0h1m1 0h1m2 0h1m2 0h1m4 0h3m4 0h1M2 503.35h1m4 0h1m1 0h1m1 0h2m1 0h1m5 0h1m3 0h1m10 0h1m6 0h1m4 0h1m11 0h1m2 0h3m16 0h2m4 0h1m5 0h1m2 0h1m1 0h2m3 0h1m3 0h1m4 0h1m6 0h1m6 0h1m15 0h1m6 0h2m9 0h1m9 0h1m3 0h1m6 0h1m9 0h1m3 0h1m1 0h1m3 0h1m1 0h1m5 0h1m1 0h3m1 0h1m7 0h1m4 0h1m1 0h1m7 0h1m2 0h1m5 0h1m14 0h1m2 0h1m3 0h1m17 0h1m15 0h1m1 0h1m3 0h1m2 0h1m15 0h3m2 0h1m4 0h2m8 0h1m6 0h1m3 0h2m2 0h3m1 0h1m7 0h1m3 0h1m5 0h1m9 0h1M1 496.75h1m4 0h1m8 0h1m6 0h1m2 0h1m6 0h1m2 0h1m1 0h2m3 0h1m2 0h2m4 0h1m10 0h1m9 0h1m6 0h1m3 0h1m4 0h1m5 0h1m5 0h1m1 0h1m2 0h1m10 0h2m3 0h1m11 0h1m3 0h2m4 0h1m6 0h1m3 0h1m1 0h1m1 0h2m3 0h1m12 0h2m3 0h1m8 0h1m4 0h2m1 0h1m5 0h1m5 0h1m2 0h1m3 0h2m5 0h2m13 0h1m2 0h1m7 0h1m1 0h1m4 0h1m10 0h1m6 0h1m6 0h2m3 0h1m2 0h1m8 0h1m2 0h2m4 0h1m1 0h1m14 0h1m3 0h1m9 0h1m7 0h1m1 0h1m2 0h1m3 0h2m7 0h1m5 0h1m3 0h1m8 0h1m9 0h2M5 490.15h1m2 0h3m10 0h1m2 0h1m9 0h1m3 0h1m5 0h1m4 0h1m1 0h1m6 0h1m13 0h1m12 0h1m4 0h1m4 0h1m3 0h1m3 0h1m2 0h1m8 0h1m4 0h1m9 0h1m8 0h2m2 0h1m10 0h1m5 0h1m6 0h2m2 0h1m2 0h1m3 0h1m2 0h1m10 0h1m7 0h1m7 0h1m12 0h3m4 0h1m5 0h1m1 0h1m2 0h1m3 0h1m13 0h1m4 0h1m4 0h1m6 0h1m6 0h2m3 0h1m4 0h1m3 0h1m1 0h1m4 0h1m23 0h1m5 0h2m4 0h1m1 0h1m4 0h1m14 0h1m1 0h2m2 0h2m2 0h1m1 0h2m10 0h1m6 0h1M2 483.55h1m2 0h2m18 0h1m5 0h1m15 0h1m2 0h1m2 0h1m5 0h1m2 0h1m7 0h2m7 0h2m5 0h1m9 0h1m4 0h1m2 0h1m2 0h2m12 0h2m2 0h1m4 0h1m3 0h1m7 0h1m1 0h1m1 0h1m2 0h1m5 0h1m4 0h3m2 0h1m3 0h1m2 0h1m3 0h1m11 0h1m21 0h1m4 0h1m1 0h2m3 0h1m4 0h1m2 0h2m12 0h1m8 0h2m1 0h3m7 0h1m3 0h1m1 0h1m3 0h1m3 0h1m1 0h1m6 0h1m1 0h1m7 0h1m16 0h1m4 0h1m3 0h1m5 0h2m4 0h1m1 0h1m1 0h1m8 0h1m1 0h1m1 0h1m3 0h1m6 0h1m1 0h1m7 0h1m1 0h1m3 0h1m3 0h1m2 0h1m9 0h1M16 476.95h1m6 0h1m3 0h2m3 0h1m1 0h1m15 0h1m2 0h1m1 0h1m3 0h1m6 0h2m3 0h1m2 0h1m1 0h2m14 0h1m6 0h1m4 0h1m1 0h3m2 0h2m2 0h1m6 0h1m1 0h1m6 0h1m6 0h1m11 0h2m1 0h1m4 0h1m13 0h2m1 0h1m2 0h1m4 0h1m9 0h1m5 0h1m2 0h2m4 0h1m4 0h1m3 0h1m2 0h1m1 0h1m5 0h1m9 0h1m10 0h1m1 0h1m5 0h1m2 0h2m15 0h2m1 0h1m11 0h4m12 0h2m1 0h2m4 0h1m10 0h1m3 0h2m1 0h1m10 0h1m12 0h1m8 0h2m2 0h1m9 0h1m2 0h1m6 0h1m3 0h1m1 0h1M0 470.35h1m1 0h1m16 0h1m5 0h1m11 0h1m1 0h2m2 0h1m3 0h1m2 0h1m13 0h1m14 0h1m7 0h1m9 0h3m1 0h2m16 0h1m8 0h1m5 0h1m6 0h2m9 0h2m5 0h2m3 0h1m4 0h1m5 0h1m4 0h1m9 0h1m2 0h1m4 0h1m1 0h1m12 0h1m18 0h1m11 0h1m3 0h1m4 0h1m1 0h1m2 0h2m1 0h1m2 0h1m6 0h1m1 0h3m1 0h1m18 0h1m3 0h1m6 0h1m7 0h1m13 0h1m1 0h1m24 0h1m1 0h1m13 0h2m1 0h1m1 0h1m1 0h1m5 0h2m1 0h1m6 0h1m3 0h1M14 463.75h1m3 0h1m4 0h2m1 0h1m16 0h1m7 0h1m1 0h2m7 0h2m10 0h1m15 0h1m7 0h1m3 0h1m3 0h2m3 0h1m1 0h1m1 0h1m1 0h1m13 0h1m5 0h1m7 0h1m9 0h1m7 0h1m1 0h1m8 0h1m3 0h1m7 0h1m3 0h1m9 0h1m5 0h2m11 0h1m3 0h2m3 0h3m3 0h1m3 0h1m1 0h1m4 0h1m8 0h1m2 0h1m4 0h1m2 0h1m2 0h1m29 0h2m3 0h1m2 0h1m8 0h2m16 0h1m4 0h1m6 0h1m6 0h2m11 0h1m3 0h1m13 0h1m6 0h1m4 0h1M2 457.15h1m3 0h1m5 0h1m5 0h1m2 0h1m1 0h2m4 0h1m2 0h1m3 0h3m3 0h1m1 0h1m4 0h2m16 0h1m7 0h1m4 0h1m1 0h1m2 0h2m3 0h1m5 0h1m4 0h2m10 0h1m4 0h1m5 0h1m7 0h1m3 0h1m20 0h1m17 0h2m4 0h1m9 0h1m2 0h1m1 0h1m7 0h1m1 0h1m7 0h2m1 0h2m4 0h1m3 0h1m2 0h1m4 0h1m7 0h2m4 0h1m2 0h1m3 0h1m3 0h1m7 0h1m1 0h1m3 0h1m2 0h1m7 0h1m5 0h1m3 0h1m1 0h1m11 0h1m2 0h1m1 0h1m4 0h1m15 0h1m3 0h4m7 0h2m5 0h2m2 0h1m8 0h1m2 0h1m4 0h2m1 0h1m4 0h1m2 0h1m6 0h1m1 0h1M5 450.55h1m5 0h1m11 0h1m11 0h1m3 0h1m3 0h1m11 0h1m5 0h1m3 0h1m6 0h2m6 0h1m2 0h1m10 0h1m4 0h1m3 0h1m3 0h1m3 0h1m10 0h1m4 0h1m8 0h1m5 0h1m2 0h1m1 0h1m4 0h2m5 0h1m1 0h1m8 0h1m4 0h1m2 0h2m5 0h1m9 0h1m6 0h1m1 0h1m6 0h1m2 0h1m1 0h4m8 0h1m1 0h1m10 0h1m12 0h1m2 0h1m6 0h1m2 0h1m2 0h1m2 0h1m2 0h1m2 0h1m14 0h1m2 0h1m5 0h1m1 0h1m1 0h1m7 0h1m4 0h1m5 0h1m1 0h1m4 0h1m1 0h1m1 0h1m8 0h1m8 0h1m9 0h4m10 0h1m4 0h1m1 0h1m4 0h1m2 0h1M6 443.95h1m3 0h1m2 0h1m2 0h1m2 0h1m5 0h1m4 0h1m3 0h2m7 0h1m11 0h1m2 0h1m1 0h1m2 0h1m1 0h1m2 0h1m1 0h1m9 0h1m5 0h1m15 0h1m7 0h2m1 0h1m4 0h2m19 0h1m4 0h2m4 0h1m3 0h1m8 0h2m4 0h1m7 0h1m3 0h1m3 0h1m4 0h1m11 0h1m3 0h2m4 0h1m13 0h1m1 0h1m10 0h1m1 0h1m2 0h1m6 0h1m2 0h2m2 0h2m5 0h2m12 0h1m4 0h1m5 0h1m2 0h1m4 0h1m2 0h1m16 0h2m3 0h1m5 0h1m1 0h1m11 0h1m2 0h1m2 0h1m1 0h1m13 0h1m1 0h1m3 0h1m8 0h1M5 437.35h1m2 0h1m8 0h2m3 0h1m2 0h2m1 0h1m3 0h1m6 0h1m6 0h1m1 0h1m4 0h1m1 0h1m1 0h1m6 0h1m5 0h1m4 0h1m6 0h1m8 0h1m2 0h1m23 0h1m3 0h1m19 0h1m3 0h2m4 0h1m9 0h1m9 0h1m1 0h1m2 0h1m2 0h1m18 0h2m9 0h1m2 0h1m1 0h2m4 0h1m8 0h1m4 0h1m2 0h1m6 0h1m2 0h2m1 0h1m1 0h1m7 0h1m8 0h1m2 0h1m7 0h1m4 0h1m8 0h1m10 0h1m1 0h1m1 0h1m3 0h1m5 0h2m8 0h1m15 0h1m13 0h1m1 0h1m3 0h1m4 0h1m4 0h1m6 0h1m6 0h1m1 0h1m4 0h2M1 430.75h1m1 0h1m3 0h1m4 0h1m9 0h1m8 0h1m1 0h1m3 0h2m6 0h1m1 0h1m4 0h1m2 0h1m4 0h1m12 0h1m1 0h1m5 0h2m4 0h1m2 0h1m2 0h1m10 0h1m13 0h1m1 0h3m2 0h1m4 0h3m2 0h1m7 0h1m4 0h1m2 0h1m5 0h2m3 0h1m1 0h1m2 0h1m1 0h1m3 0h2m4 0h1m6 0h1m5 0h1m2 0h1m9 0h1m9 0h1m4 0h1m8 0h2m6 0h1m1 0h1m9 0h1m1 0h1m15 0h1m2 0h1m1 0h1m4 0h1m1 0h2m2 0h1m1 0h1m5 0h2m1 0h2m2 0h2m4 0h2m1 0h2m3 0h1m4 0h1m2 0h1m9 0h2m3 0h1m12 0h1m11 0h1m10 0h2m1 0h1m2 0h1m13 0h2m2 0h1M12 424.15h3m7 0h1m10 0h1m1 0h1m13 0h1m1 0h1m14 0h1m12 0h2m10 0h1m3 0h1m6 0h1m4 0h1m2 0h2m1 0h3m9 0h3m5 0h1m1 0h1m2 0h2m1 0h1m5 0h2m3 0h1m1 0h1m3 0h2m1 0h1m2 0h1m4 0h1m8 0h1m3 0h1m28 0h1m5 0h1m3 0h2m2 0h1m11 0h2m13 0h1m17 0h1m2 0h2m2 0h1m5 0h1m7 0h1m2 0h3m1 0h1m3 0h1m9 0h2m2 0h2m1 0h1m3 0h1m4 0h1m1 0h1m7 0h1m5 0h1m1 0h1m9 0h1m10 0h1m4 0h2m3 0h2m2 0h1m1 0h1m1 0h1m6 0h1m2 0h2M5 417.55h2m23 0h1m3 0h2m4 0h2m7 0h1m4 0h1m4 0h2m8 0h1m5 0h1m1 0h1m1 0h2m2 0h2m2 0h1m4 0h2m4 0h1m11 0h1m1 0h1m4 0h1m16 0h1m7 0h1m3 0h2m8 0h1m1 0h1m5 0h2m32 0h1m3 0h1m1 0h1m5 0h1m2 0h2m1 0h1m1 0h1m3 0h1m2 0h1m1 0h1m2 0h1m3 0h1m1 0h1m7 0h1m1 0h2m5 0h1m1 0h1m2 0h2m16 0h1m1 0h1m19 0h1m1 0h1m2 0h1m1 0h1m1 0h1m2 0h1m4 0h2m10 0h1m8 0h1m2 0h2m18 0h1m5 0h1m11 0h1m16 0h1m1 0h1M3 410.95h1m9 0h1m2 0h2m25 0h1m2 0h1m18 0h1m21 0h1m3 0h1m1 0h1m2 0h1m1 0h1m2 0h1m3 0h1m3 0h2m1 0h1m2 0h1m9 0h2m4 0h1m2 0h1m3 0h3m1 0h2m1 0h1m1 0h1m8 0h1m1 0h1m3 0h1m1 0h1m6 0h1m5 0h1m3 0h1m10 0h1m8 0h1m3 0h2m2 0h1m4 0h1m3 0h1m5 0h2m2 0h3m9 0h1m5 0h1m1 0h1m5 0h1m5 0h1m9 0h1m5 0h1m3 0h1m4 0h1m2 0h1m1 0h2m3 0h2m7 0h1m6 0h2m6 0h1m1 0h1m8 0h1m3 0h1m5 0h1m2 0h4m9 0h1m4 0h1m2 0h1m7 0h2m1 0h1m3 0h1m3 0h1m5 0h1m5 0h1m3 0h1M1 404.35h2m2 0h2m1 0h1m1 0h1m6 0h1m15 0h1m1 0h1m11 0h2m1 0h1m3 0h1m4 0h1m4 0h2m4 0h1m1 0h1m2 0h1m1 0h2m8 0h3m10 0h1m14 0h1m9 0h1m4 0h1m3 0h4m3 0h1m2 0h1m1 0h1m4 0h1m26 0h1m2 0h1m4 0h1m8 0h1m11 0h3m5 0h1m5 0h1m2 0h1m9 0h1m6 0h1m3 0h1m6 0h2m1 0h1m3 0h1m12 0h1m4 0h1m1 0h1m3 0h1m1 0h1m3 0h1m3 0h1m3 0h1m6 0h1m5 0h1m4 0h1m7 0h1m23 0h2m3 0h1m1 0h1m10 0h1m1 0h1m6 0h1m3 0h1m3 0h1m4 0h1m2 0h3m4 0h1M0 397.75h1m18 0h1m7 0h1m4 0h1m8 0h2m2 0h1m4 0h2m3 0h1m12 0h1m2 0h1m1 0h1m3 0h1m1 0h1m4 0h1m2 0h1m1 0h1m2 0h1m2 0h1m3 0h1m1 0h1m14 0h1m1 0h1m2 0h1m1 0h1m2 0h1m3 0h1m1 0h2m17 0h1m1 0h1m9 0h1m32 0h1m4 0h1m9 0h2m5 0h1m5 0h1m2 0h1m3 0h1m3 0h2m4 0h1m3 0h2m1 0h1m16 0h1m4 0h1m2 0h1m1 0h1m2 0h1m12 0h1m8 0h2m4 0h1m2 0h1m4 0h2m4 0h1m4 0h1m3 0h1m1 0h1m11 0h1m1 0h1m3 0h1m2 0h1m9 0h1m2 0h1m6 0h1m2 0h1M2 391.15h1m5 0h1m30 0h2m6 0h1m19 0h1m1 0h1m5 0h3m1 0h1m1 0h3m4 0h1m6 0h2m3 0h2m1 0h1m1 0h2m3 0h1m2 0h1m2 0h2m3 0h1m5 0h1m1 0h1m1 0h1m2 0h1m2 0h1m9 0h1m8 0h2m2 0h2m20 0h1m18 0h1m3 0h1m19 0h1m2 0h1m2 0h1m14 0h1m1 0h3m5 0h1m1 0h1m7 0h1m7 0h1m3 0h1m4 0h1m2 0h1m10 0h1m13 0h2m4 0h1m2 0h1m1 0h1m13 0h1m1 0h1m3 0h1m2 0h1m3 0h1m3 0h1m3 0h2m1 0h1m1 0h1m1 0h1m2 0h1m3 0h1m1 0h1m1 0h1m7 0h2m3 0h3m2 0h1m2 0h1M1 384.55h1m7 0h4m2 0h1m6 0h1m5 0h1m1 0h1m1 0h2m3 0h1m18 0h1m8 0h1m18 0h1m1 0h2m1 0h1m2 0h2m2 0h1m7 0h1m2 0h1m4 0h1m4 0h1m6 0h1m5 0h1m17 0h1m2 0h1m15 0h1m7 0h1m6 0h1m3 0h1m7 0h2m2 0h2m3 0h1m21 0h1m17 0h2m9 0h1m9 0h1m1 0h1m3 0h1m8 0h1m1 0h1m1 0h1m14 0h1m4 0h2m11 0h1m2 0h1m2 0h1m5 0h1m3 0h1m4 0h1m1 0h1m4 0h1m4 0h4m9 0h1m8 0h1m5 0h1m3 0h1m1 0h1m2 0h1m5 0h1m5 0h1M0 377.95h2m4 0h1m8 0h2m8 0h1m8 0h1m5 0h1m2 0h1m1 0h1m2 0h1m5 0h2m6 0h1m4 0h1m2 0h2m2 0h1m6 0h2m11 0h1m3 0h2m2 0h1m5 0h1m4 0h1m5 0h1m1 0h1m5 0h2m4 0h1m8 0h1m3 0h2m13 0h1m4 0h1m13 0h2m6 0h2m1 0h1m3 0h1m2 0h2m3 0h1m8 0h1m5 0h1m11 0h1m2 0h1m13 0h5m2 0h1m5 0h1m2 0h1m3 0h1m1 0h1m7 0h1m6 0h1m1 0h2m2 0h1m2 0h1m11 0h1m2 0h2m7 0h1m4 0h1m3 0h1m4 0h1m4 0h1m1 0h1m1 0h2m3 0h1m3 0h1m1 0h1m1 0h1m2 0h1m4 0h1m3 0h1m3 0h1m1 0h2m3 0h1m7 0h1m4 0h1m1 0h1m4 0h1m1 0h1M3 371.35h2m8 0h1m3 0h1m1 0h1m2 0h2m1 0h1m1 0h1m5 0h1m1 0h1m1 0h1m1 0h2m6 0h1m3 0h1m6 0h1m3 0h1m7 0h1m1 0h1m7 0h2m1 0h2m2 0h2m2 0h1m1 0h1m1 0h1m4 0h2m9 0h1m2 0h1m9 0h1m9 0h2m2 0h1m5 0h1m5 0h2m9 0h1m3 0h1m2 0h1m2 0h1m3 0h1m4 0h1m1 0h1m2 0h2m6 0h3m3 0h1m2 0h1m5 0h1m5 0h1m28 0h1m2 0h1m6 0h1m4 0h1m4 0h1m2 0h1m16 0h1m6 0h1m5 0h1m7 0h1m1 0h1m5 0h1m4 0h1m5 0h1m4 0h1m5 0h1m3 0h1m2 0h1m3 0h1m8 0h1m7 0h2m4 0h2m1 0h2m4 0h1m9 0h2m7 0h1M1 364.75h1m17 0h1m3 0h1m2 0h1m11 0h1m1 0h1m3 0h1m1 0h1m8 0h1m5 0h2m3 0h1m8 0h1m3 0h1m4 0h1m2 0h1m7 0h1m6 0h1m1 0h1m2 0h1m6 0h1m9 0h1m2 0h1m4 0h1m4 0h1m4 0h1m7 0h1m7 0h1m6 0h1m7 0h1m2 0h1m2 0h1m7 0h1m1 0h2m1 0h1m13 0h1m2 0h1m9 0h1m1 0h1m2 0h1m2 0h3m24 0h1m7 0h1m6 0h2m8 0h1m4 0h2m3 0h3m1 0h1m4 0h1m8 0h1m1 0h1m2 0h1m3 0h1m11 0h1m6 0h1m3 0h1m5 0h1m8 0h1m11 0h1m2 0h1m4 0h1m6 0h1m9 0h1M0 358.15h1m9 0h1m12 0h1m1 0h1m29 0h2m9 0h1m6 0h1m3 0h2m12 0h1m2 0h2m7 0h1m1 0h1m2 0h1m5 0h1m1 0h1m1 0h1m8 0h1m4 0h1m1 0h1m5 0h1m6 0h1m4 0h2m3 0h1m1 0h1m5 0h1m2 0h1m6 0h3m3 0h2m2 0h2m18 0h2m12 0h1m7 0h1m6 0h1m4 0h2m6 0h1m8 0h1m13 0h1m12 0h1m2 0h1m3 0h1m15 0h1m2 0h1m4 0h1m6 0h2m11 0h1m4 0h1m1 0h2m7 0h1m8 0h1m5 0h1m12 0h1m1 0h1m14 0h1M7 351.55h1m9 0h3m3 0h2m1 0h1m6 0h2m4 0h1m5 0h1m4 0h1m2 0h2m11 0h3m1 0h1m17 0h1m3 0h1m3 0h1m1 0h1m20 0h1m1 0h1m13 0h1m2 0h1m4 0h1m1 0h1m3 0h2m7 0h2m5 0h1m27 0h2m1 0h2m2 0h4m7 0h1m2 0h1m2 0h1m1 0h1m12 0h1m1 0h1m2 0h1m6 0h1m6 0h1m1 0h1m6 0h2m13 0h1m3 0h1m5 0h1m13 0h1m2 0h1m4 0h1m2 0h1m13 0h1m6 0h2m4 0h2m4 0h1m18 0h1m2 0h1m8 0h1m1 0h1m1 0h1m1 0h1m4 0h1m3 0h1m1 0h1m2 0h1m4 0h1M5 344.95h1m6 0h1m7 0h1m1 0h1m2 0h1m8 0h1m1 0h1m8 0h2m2 0h1m6 0h2m12 0h1m5 0h2m5 0h1m1 0h1m2 0h1m9 0h1m8 0h2m1 0h1m1 0h1m4 0h2m7 0h1m13 0h1m10 0h1m2 0h2m11 0h1m4 0h1m1 0h1m3 0h1m1 0h1m4 0h1m6 0h1m1 0h1m1 0h1m2 0h1m3 0h1m2 0h3m2 0h2m1 0h2m9 0h1m7 0h1m3 0h1m12 0h1m3 0h2m4 0h1m3 0h1m3 0h2m6 0h2m2 0h1m3 0h1m8 0h1m8 0h3m4 0h1m2 0h1m5 0h2m27 0h1m2 0h1m2 0h1m1 0h1m2 0h2m6 0h1m2 0h2m2 0h2m1 0h1m3 0h1m7 0h1M19 338.35h1m11 0h1m6 0h1m19 0h2m14 0h1m7 0h1m2 0h1m2 0h2m8 0h1m4 0h1m1 0h1m4 0h2m2 0h1m6 0h1m3 0h1m1 0h1m7 0h1m8 0h2m14 0h1m4 0h1m3 0h1m5 0h1m2 0h1m2 0h1m3 0h2m3 0h1m6 0h1m1 0h1m6 0h1m1 0h2m3 0h1m13 0h1m5 0h2m5 0h2m12 0h1m12 0h1m2 0h1m2 0h2m2 0h1m10 0h1m10 0h1m10 0h1m12 0h1m10 0h1m2 0h2m5 0h1m2 0h2m2 0h1m3 0h2m4 0h1m3 0h1m6 0h1m2 0h1m2 0h1m9 0h1m5 0h1M5 331.75h1m1 0h1m5 0h1m4 0h1m3 0h1m5 0h1m9 0h1m8 0h2m8 0h1m1 0h1m2 0h2m8 0h3m1 0h1m4 0h1m8 0h1m5 0h1m1 0h1m1 0h1m14 0h2m1 0h1m1 0h3m4 0h1m3 0h1m1 0h1m14 0h2m4 0h1m1 0h2m1 0h1m2 0h1m2 0h1m3 0h1m6 0h1m2 0h1m5 0h1m7 0h1m2 0h1m2 0h1m8 0h2m1 0h1m1 0h1m2 0h1m2 0h1m4 0h1m1 0h1m2 0h1m5 0h1m1 0h2m5 0h2m11 0h1m6 0h1m1 0h3m13 0h1m7 0h2m3 0h1m15 0h1m10 0h2m1 0h2m1 0h1m1 0h1m1 0h1m3 0h1m5 0h1m4 0h1m3 0h1m2 0h1m2 0h1m1 0h1m4 0h1m9 0h1m1 0h1m3 0h1m4 0h1m5 0h1m3 0h1m3 0h1M10 325.15h2m1 0h1m9 0h2m3 0h1m1 0h1m5 0h1m1 0h1m9 0h1m1 0h1m2 0h1m5 0h1m4 0h1m6 0h1m1 0h1m2 0h1m6 0h1m2 0h1m8 0h1m1 0h1m19 0h2m6 0h1m4 0h1m10 0h1m2 0h1m2 0h1m13 0h1m1 0h1m4 0h1m7 0h1m4 0h1m4 0h1m11 0h1m3 0h1m2 0h1m3 0h1m2 0h1m3 0h2m9 0h1m1 0h1m8 0h2m2 0h2m1 0h1m8 0h1m2 0h1m3 0h1m2 0h2m7 0h1m2 0h2m2 0h1m2 0h1m1 0h1m4 0h2m3 0h1m10 0h1m3 0h1m3 0h2m2 0h1m2 0h1m13 0h1m7 0h1m11 0h1m1 0h1m9 0h1m5 0h1m6 0h1m4 0h1m1 0h1m3 0h2m5 0h2M7 318.55h1m4 0h1m9 0h1m2 0h1m3 0h1m4 0h1m15 0h1m2 0h3m5 0h1m4 0h1m2 0h4m3 0h1m6 0h1m25 0h1m30 0h1m4 0h1m4 0h1m10 0h2m3 0h1m3 0h1m1 0h1m8 0h1m3 0h1m3 0h1m4 0h1m6 0h1m3 0h2m1 0h2m2 0h1m7 0h1m3 0h1m3 0h1m1 0h1m2 0h1m3 0h1m1 0h2m2 0h1m2 0h1m12 0h1m3 0h1m5 0h1m11 0h1m11 0h1m14 0h1m2 0h2m11 0h2m4 0h1m2 0h1m1 0h1m2 0h1m2 0h1m1 0h2m6 0h1m4 0h1m5 0h1m18 0h1m2 0h1m3 0h1M1 311.95h1m7 0h1m4 0h1m1 0h1m3 0h1m9 0h1m2 0h2m1 0h1m1 0h1m4 0h2m4 0h2m6 0h1m17 0h1m9 0h1m2 0h1m2 0h1m1 0h2m7 0h1m2 0h1m5 0h1m7 0h1m6 0h1m2 0h1m3 0h2m3 0h1m4 0h1m2 0h1m2 0h1m8 0h1m4 0h1m1 0h2m1 0h2m2 0h1m11 0h1m3 0h1m2 0h1m17 0h1m1 0h1m3 0h1m4 0h1m6 0h1m1 0h1m4 0h1m9 0h2m1 0h1m18 0h1m16 0h1m1 0h1m1 0h1m7 0h2m15 0h1m10 0h1m5 0h1m8 0h1m1 0h1m1 0h1m7 0h2m3 0h1m4 0h2m1 0h1m1 0h1m9 0h1m5 0h1m7 0h1m3 0h1m2 0h1M3 305.35h1m5 0h1m1 0h2m4 0h1m1 0h1m3 0h1m6 0h1m8 0h1m1 0h1m1 0h1m1 0h1m1 0h1m7 0h1m2 0h1m7 0h1m2 0h2m2 0h1m25 0h1m1 0h1m4 0h2m8 0h1m7 0h1m7 0h2m5 0h1m9 0h1m4 0h1m1 0h2m2 0h1m2 0h1m1 0h3m1 0h1m7 0h1m5 0h1m3 0h1m8 0h1m4 0h2m2 0h1m3 0h1m2 0h2m15 0h4m1 0h2m2 0h2m1 0h1m3 0h1m2 0h1m2 0h1m8 0h1m4 0h1m3 0h1m5 0h1m5 0h1m1 0h1m10 0h1m8 0h2m1 0h1m17 0h1m4 0h1m3 0h1m13 0h1m12 0h1m1 0h1m14 0h1m7 0h1m5 0h1m5 0h1m1 0h1M7 298.75h1m5 0h1m17 0h1m1 0h1m1 0h1m5 0h2m1 0h1m5 0h2m1 0h1m6 0h1m7 0h1m3 0h2m2 0h1m23 0h1m4 0h1m4 0h1m4 0h2m20 0h1m2 0h1m5 0h1m6 0h2m17 0h2m2 0h1m2 0h1m1 0h1m16 0h1m4 0h1m1 0h1m1 0h1m2 0h2m6 0h1m6 0h1m1 0h1m1 0h2m4 0h1m11 0h1m3 0h2m3 0h1m8 0h1m2 0h1m1 0h1m7 0h2m2 0h2m7 0h3m10 0h1m1 0h1m4 0h1m1 0h1m1 0h1m4 0h1m8 0h1m3 0h1m11 0h1m2 0h1m5 0h1m4 0h1m7 0h1m1 0h1m1 0h3m3 0h1m18 0h2M4 292.15h2m6 0h2m2 0h1m1 0h1m7 0h1m1 0h1m2 0h1m1 0h2m2 0h1m3 0h1m8 0h1m1 0h1m4 0h1m2 0h1m7 0h1m10 0h1m4 0h2m3 0h1m2 0h1m2 0h1m1 0h1m1 0h1m1 0h2m4 0h1m8 0h1m7 0h1m2 0h1m4 0h1m3 0h1m2 0h2m4 0h1m5 0h1m1 0h1m1 0h2m3 0h1m3 0h1m6 0h1m1 0h1m3 0h1m6 0h1m8 0h2m3 0h1m8 0h1m7 0h1m1 0h1m2 0h2m16 0h1m1 0h1m4 0h2m4 0h1m1 0h1m1 0h2m5 0h1m3 0h2m6 0h1m6 0h1m2 0h1m3 0h2m13 0h1m2 0h1m1 0h2m1 0h2m6 0h1m12 0h1m2 0h1m1 0h1m2 0h1m5 0h2m6 0h1m1 0h1m2 0h2m10 0h1m4 0h1m1 0h1m6 0h1m4 0h1m4 0h1M2 285.55h1m6 0h2m1 0h1m7 0h1m5 0h1m5 0h2m5 0h1m2 0h3m1 0h1m3 0h2m3 0h1m1 0h2m13 0h3m4 0h1m10 0h1m8 0h1m3 0h1m7 0h1m4 0h1m4 0h2m4 0h1m1 0h1m11 0h3m3 0h1m1 0h1m1 0h1m6 0h2m1 0h2m1 0h3m5 0h2m5 0h1m7 0h1m1 0h1m4 0h1m5 0h1m2 0h1m2 0h1m14 0h1m4 0h1m2 0h1m1 0h1m3 0h1m5 0h1m1 0h1m2 0h1m8 0h1m3 0h1m1 0h3m22 0h1m2 0h2m4 0h1m6 0h2m1 0h1m1 0h1m2 0h1m9 0h2m7 0h2m2 0h1m4 0h1m4 0h1m5 0h1m2 0h1m5 0h1m4 0h1m8 0h2m11 0h1m3 0h1m4 0h1M2 278.95h1m4 0h2m10 0h2m4 0h3m1 0h1m4 0h1m4 0h1m6 0h1m1 0h1m16 0h1m8 0h1m9 0h1m5 0h1m18 0h1m2 0h1m3 0h1m6 0h1m3 0h1m1 0h1m9 0h1m4 0h2m9 0h1m4 0h1m1 0h1m5 0h1m2 0h1m9 0h1m2 0h3m2 0h2m7 0h1m3 0h1m4 0h1m3 0h1m4 0h2m1 0h1m5 0h3m7 0h1m3 0h1m4 0h1m18 0h1m10 0h1m2 0h1m4 0h2m2 0h1m4 0h1m7 0h1m1 0h1m2 0h1m2 0h1m16 0h1m3 0h1m5 0h2m4 0h1m3 0h1m8 0h1m5 0h1m1 0h1m2 0h3m2 0h2m1 0h1m10 0h2m7 0h1M2 272.35h1m11 0h1m11 0h1m5 0h2m3 0h1m11 0h1m3 0h1m4 0h2m2 0h2m2 0h1m18 0h1m1 0h1m1 0h2m4 0h1m1 0h1m3 0h1m2 0h2m3 0h1m10 0h1m4 0h1m2 0h1m9 0h1m11 0h1m6 0h1m4 0h2m1 0h1m4 0h1m2 0h1m13 0h1m3 0h1m8 0h2m2 0h1m6 0h1m7 0h1m2 0h1m9 0h1m4 0h1m5 0h1m1 0h3m1 0h1m1 0h2m4 0h1m3 0h1m8 0h1m1 0h2m5 0h1m11 0h1m1 0h1m8 0h1m4 0h1m6 0h1m19 0h1m16 0h1m5 0h2m5 0h1m9 0h1m5 0h2m10 0h1m2 0h1M7 265.75h1m6 0h1m3 0h1m1 0h1m3 0h1m1 0h1m13 0h1m3 0h1m1 0h1m4 0h2m2 0h1m6 0h1m1 0h1m4 0h1m1 0h2m1 0h1m3 0h1m5 0h1m4 0h1m5 0h1m1 0h1m2 0h1m4 0h1m1 0h1m5 0h1m11 0h1m4 0h1m2 0h2m10 0h1m14 0h1m2 0h1m4 0h1m2 0h1m1 0h1m2 0h1m1 0h1m26 0h1m3 0h2m5 0h1m13 0h1m6 0h1m10 0h3m2 0h2m1 0h1m4 0h1m5 0h1m6 0h1m7 0h1m4 0h1m11 0h1m3 0h1m9 0h1m2 0h1m4 0h1m1 0h1m1 0h1m6 0h1m1 0h1m5 0h1m2 0h1m3 0h1m1 0h1m1 0h1m6 0h1m3 0h1m8 0h1m3 0h1m9 0h1m1 0h1m1 0h1m5 0h1m1 0h1m1 0h1M1 259.15h1m1 0h1m10 0h2m9 0h1m9 0h1m8 0h1m6 0h1m4 0h1m5 0h1m13 0h1m5 0h2m5 0h1m1 0h3m3 0h1m1 0h2m8 0h2m9 0h1m13 0h1m4 0h1m7 0h1m12 0h1m1 0h1m9 0h1m1 0h1m1 0h1m1 0h2m6 0h1m8 0h1m10 0h1m3 0h1m17 0h3m1 0h1m10 0h1m2 0h1m1 0h1m2 0h1m1 0h1m10 0h1m1 0h1m2 0h1m13 0h1m4 0h1m1 0h2m2 0h3m5 0h3m17 0h1m8 0h1m3 0h1m3 0h1m2 0h2m6 0h1m3 0h2m1 0h1m4 0h1m12 0h1m1 0h1m1 0h3m7 0h1m1 0h1m1 0h1M0 252.55h1m1 0h1m2 0h1m7 0h1m2 0h1m5 0h2m1 0h1m5 0h1m4 0h1m11 0h1m2 0h1m3 0h1m11 0h2m3 0h1m4 0h2m8 0h1m2 0h1m2 0h1m1 0h1m10 0h1m4 0h1m6 0h1m1 0h1m1 0h1m10 0h2m1 0h4m3 0h2m14 0h1m3 0h1m2 0h1m13 0h1m2 0h1m2 0h1m2 0h1m11 0h1m3 0h2m6 0h2m2 0h2m3 0h3m6 0h1m5 0h1m1 0h1m1 0h1m10 0h1m1 0h1m1 0h1m7 0h1m13 0h1m5 0h2m1 0h2m6 0h1m16 0h1m1 0h1m4 0h2m2 0h1m3 0h1m9 0h1m5 0h3m1 0h1m2 0h1m5 0h1m3 0h2m7 0h1m11 0h1m6 0h1m6 0h2m1 0h2M8 245.95h3m1 0h3m3 0h3m2 0h1m2 0h1m4 0h1m11 0h1m4 0h1m6 0h1m2 0h1m8 0h1m4 0h1m4 0h1m1 0h1m1 0h1m3 0h1m1 0h1m5 0h1m1 0h1m9 0h1m1 0h1m1 0h1m8 0h1m5 0h2m9 0h1m1 0h1m4 0h1m1 0h1m8 0h1m6 0h1m9 0h1m4 0h1m3 0h1m2 0h1m5 0h1m6 0h1m7 0h1m4 0h1m1 0h1m6 0h1m2 0h1m1 0h1m1 0h3m4 0h1m5 0h1m16 0h1m1 0h2m1 0h1m4 0h2m7 0h2m5 0h1m3 0h1m1 0h2m3 0h1m7 0h2m4 0h2m26 0h1m4 0h2m5 0h1m6 0h1m4 0h1m3 0h1m2 0h1m2 0h1m1 0h1m4 0h1m6 0h1m1 0h1m4 0h1m2 0h1m3 0h1M9 239.35h1m6 0h1m1 0h2m9 0h1m4 0h1m15 0h1m8 0h1m12 0h1m1 0h1m3 0h1m4 0h1m10 0h1m1 0h1m4 0h1m1 0h1m4 0h1m1 0h1m5 0h1m2 0h1m1 0h1m4 0h1m2 0h1m6 0h1m3 0h1m3 0h2m2 0h1m3 0h1m11 0h1m2 0h1m1 0h1m4 0h1m3 0h1m5 0h1m3 0h1m3 0h2m4 0h2m8 0h1m3 0h1m3 0h2m6 0h1m7 0h1m2 0h1m1 0h1m3 0h1m6 0h2m11 0h1m3 0h2m1 0h1m2 0h1m4 0h1m3 0h1m3 0h3m2 0h2m15 0h1m2 0h1m3 0h2m1 0h1m4 0h1m3 0h1m6 0h1m7 0h2m4 0h1m2 0h1m7 0h1m10 0h1m7 0h2m8 0h1M10 232.75h1m1 0h4m10 0h2m8 0h1m8 0h1m9 0h1m2 0h2m7 0h1m1 0h2m3 0h1m4 0h1m4 0h2m11 0h1m13 0h2m16 0h1m8 0h3m1 0h1m24 0h1m2 0h1m2 0h1m2 0h1m2 0h1m12 0h1m1 0h1m7 0h1m2 0h1m3 0h1m3 0h1m3 0h1m2 0h1m2 0h1m5 0h1m7 0h1m4 0h1m3 0h1m7 0h1m7 0h1m10 0h1m6 0h1m1 0h1m2 0h1m1 0h1m4 0h2m18 0h1m1 0h1m14 0h2m6 0h1m3 0h1m9 0h1m1 0h1m1 0h1m10 0h1m1 0h1m7 0h1m14 0h1m2 0h1m3 0h2M21 226.15h1m2 0h1m4 0h1m8 0h2m3 0h1m2 0h2m11 0h1m4 0h1m10 0h1m3 0h1m4 0h1m13 0h1m15 0h1m8 0h1m1 0h2m3 0h2m7 0h1m2 0h2m2 0h1m2 0h1m2 0h1m6 0h1m2 0h1m2 0h1m5 0h1m11 0h1m3 0h1m8 0h1m5 0h1m1 0h1m13 0h3m9 0h2m3 0h1m2 0h1m6 0h1m6 0h1m9 0h1m1 0h1m2 0h2m6 0h1m9 0h1m6 0h1m1 0h1m2 0h1m5 0h1m5 0h1m5 0h1m2 0h1m3 0h1m3 0h1m14 0h1m4 0h1m1 0h1m16 0h1m5 0h1m4 0h1m2 0h1m11 0h2m6 0h1M7 219.55h1m6 0h1m4 0h1m7 0h1m1 0h1m4 0h1m2 0h1m3 0h2m3 0h1m2 0h1m8 0h1m4 0h1m11 0h1m6 0h1m1 0h2m3 0h1m1 0h1m1 0h1m1 0h1m2 0h1m3 0h3m10 0h1m6 0h1m9 0h1m17 0h1m1 0h1m2 0h1m3 0h1m10 0h1m12 0h1m2 0h1m6 0h1m6 0h1m6 0h1m6 0h1m17 0h3m9 0h2m13 0h2m9 0h1m2 0h2m4 0h1m2 0h1m6 0h1m1 0h1m7 0h1m10 0h1m5 0h3m2 0h1m1 0h1m1 0h1m4 0h1m2 0h2m3 0h1m6 0h1m1 0h1m4 0h1m1 0h1m3 0h1m2 0h1m2 0h2m5 0h1m2 0h2m1 0h2m2 0h1m7 0h1m1 0h3m2 0h1M3 212.95h1m6 0h1m1 0h1m2 0h2m1 0h2m4 0h2m8 0h1m3 0h1m4 0h1m2 0h3m6 0h1m2 0h1m6 0h2m4 0h1m1 0h1m7 0h1m14 0h1m2 0h1m2 0h1m2 0h2m3 0h1m4 0h2m3 0h1m1 0h1m1 0h1m5 0h1m5 0h1m8 0h1m13 0h1m1 0h1m5 0h1m10 0h1m4 0h1m6 0h1m1 0h1m3 0h1m5 0h1m2 0h1m1 0h1m5 0h2m5 0h1m7 0h1m8 0h1m1 0h2m4 0h1m5 0h1m1 0h3m10 0h1m9 0h2m7 0h2m10 0h2m1 0h1m22 0h1m9 0h1m7 0h1m6 0h1m9 0h1m7 0h1m2 0h1m3 0h1m2 0h1m6 0h1m5 0h1m4 0h1M0 206.35h2m3 0h1m9 0h1m5 0h2m3 0h1m12 0h1m2 0h1m4 0h1m6 0h1m13 0h1m1 0h1m5 0h2m6 0h1m4 0h1m8 0h1m3 0h1m5 0h1m4 0h1m4 0h1m3 0h2m1 0h1m7 0h3m1 0h1m22 0h1m1 0h1m6 0h2m3 0h1m6 0h2m5 0h1m4 0h1m1 0h2m4 0h1m6 0h2m7 0h3m17 0h1m5 0h1m5 0h1m12 0h1m9 0h1m1 0h1m3 0h1m17 0h1m2 0h1m2 0h1m1 0h2m10 0h3m5 0h1m2 0h1m7 0h1m12 0h1m1 0h1m3 0h1m2 0h1m6 0h2m2 0h1m3 0h1m1 0h1m22 0h2M4 199.75h1m1 0h2m5 0h1m1 0h1m1 0h1m3 0h1m5 0h1m9 0h1m5 0h1m18 0h1m2 0h1m1 0h1m1 0h3m6 0h1m2 0h1m3 0h1m9 0h1m2 0h1m3 0h1m2 0h1m13 0h1m1 0h3m2 0h1m6 0h1m7 0h1m2 0h1m7 0h1m2 0h2m2 0h1m4 0h1m3 0h1m4 0h1m8 0h3m13 0h1m1 0h1m27 0h1m19 0h1m2 0h1m1 0h1m1 0h1m6 0h1m8 0h1m2 0h1m4 0h3m5 0h1m1 0h1m4 0h1m1 0h1m1 0h1m11 0h1m2 0h4m7 0h1m9 0h1m7 0h1m1 0h1m5 0h1m6 0h2m2 0h3m9 0h1m1 0h1m5 0h1m5 0h3m5 0h1M4 193.15h1m2 0h1m21 0h1m2 0h2m9 0h1m5 0h1m4 0h1m1 0h1m10 0h1m12 0h1m1 0h1m13 0h1m3 0h1m2 0h1m3 0h1m8 0h1m2 0h2m4 0h1m29 0h1m10 0h1m1 0h1m1 0h1m1 0h1m8 0h2m8 0h1m5 0h1m6 0h1m1 0h1m9 0h1m1 0h1m5 0h1m5 0h1m1 0h1m2 0h2m1 0h1m9 0h1m2 0h1m3 0h1m1 0h1m6 0h2m2 0h1m7 0h1m3 0h2m1 0h1m11 0h2m4 0h1m5 0h1m15 0h1m11 0h1m15 0h1m1 0h1m12 0h2m2 0h3m1 0h1m1 0h1m2 0h1m2 0h1m10 0h1M1 186.55h1m4 0h1m4 0h2m1 0h1m4 0h1m2 0h1m3 0h2m4 0h1m15 0h1m10 0h1m6 0h2m1 0h1m24 0h1m3 0h1m3 0h2m9 0h1m5 0h3m7 0h1m4 0h2m8 0h1m11 0h1m5 0h1m2 0h2m1 0h1m5 0h1m13 0h1m5 0h1m2 0h1m4 0h1m3 0h1m2 0h2m3 0h1m5 0h1m2 0h1m8 0h1m3 0h2m2 0h1m5 0h1m4 0h1m2 0h1m5 0h1m6 0h1m4 0h2m2 0h1m8 0h1m2 0h2m6 0h1m1 0h1m3 0h1m3 0h2m5 0h1m1 0h1m3 0h1m11 0h1m4 0h1m4 0h1m5 0h1m8 0h1m2 0h2m8 0h1m4 0h1m5 0h2m11 0h1M4 179.95h1m2 0h1m3 0h1m1 0h1m1 0h1m4 0h1m1 0h1m4 0h1m11 0h1m7 0h1m4 0h1m6 0h1m2 0h1m4 0h1m4 0h1m8 0h1m1 0h1m2 0h2m1 0h1m2 0h1m2 0h1m7 0h1m4 0h1m3 0h1m8 0h1m11 0h1m4 0h1m9 0h4m7 0h2m1 0h2m2 0h1m2 0h1m3 0h1m3 0h1m2 0h2m1 0h2m9 0h1m7 0h1m5 0h1m4 0h1m5 0h1m5 0h1m3 0h1m7 0h1m2 0h1m5 0h1m1 0h1m1 0h1m9 0h1m2 0h1m9 0h1m2 0h1m1 0h1m5 0h1m5 0h1m8 0h1m1 0h1m7 0h3m5 0h1m4 0h1m3 0h2m3 0h4m10 0h1m2 0h1m2 0h1m7 0h1m1 0h1m5 0h1m4 0h1m1 0h2m12 0h1m5 0h4M1 173.35h1m12 0h1m1 0h1m3 0h1m1 0h2m1 0h1m3 0h1m4 0h1m1 0h1m3 0h1m3 0h1m1 0h1m4 0h2m2 0h1m3 0h1m2 0h1m2 0h1m6 0h1m13 0h1m2 0h2m8 0h1m10 0h1m11 0h2m16 0h1m9 0h1m2 0h1m12 0h1m4 0h1m5 0h1m2 0h1m2 0h1m6 0h1m2 0h1m1 0h3m2 0h1m3 0h1m2 0h2m3 0h1m8 0h1m2 0h1m6 0h1m12 0h2m3 0h2m3 0h1m7 0h1m2 0h1m1 0h3m4 0h1m6 0h1m11 0h1m7 0h1m6 0h1m11 0h2m12 0h1m5 0h1m2 0h1m4 0h2m2 0h1m1 0h1m7 0h1m2 0h1m3 0h1m21 0h1m1 0h1M6 166.75h1m4 0h3m9 0h1m1 0h1m3 0h1m3 0h1m3 0h1m7 0h1m10 0h2m21 0h1m4 0h1m12 0h1m13 0h1m10 0h1m9 0h1m1 0h1m1 0h1m2 0h1m3 0h1m1 0h2m5 0h1m10 0h1m1 0h1m9 0h1m1 0h1m7 0h1m8 0h4m2 0h3m3 0h1m10 0h3m3 0h1m1 0h1m5 0h1m3 0h1m1 0h1m11 0h1m1 0h1m2 0h2m6 0h1m14 0h1m3 0h1m7 0h1m1 0h1m5 0h1m2 0h2m11 0h1m2 0h1m5 0h1m1 0h1m7 0h1m1 0h1m2 0h1m2 0h1m4 0h1m14 0h1m1 0h1m1 0h1m1 0h1m11 0h1m2 0h1m4 0h1m4 0h1m3 0h1M3 160.15h1m2 0h1m2 0h2m3 0h1m6 0h1m4 0h2m5 0h1m4 0h1m3 0h1m5 0h1m2 0h1m12 0h1m3 0h1m1 0h1m6 0h1m1 0h1m1 0h2m3 0h1m6 0h3m1 0h1m11 0h1m10 0h3m27 0h1m1 0h1m3 0h1m8 0h3m2 0h1m11 0h1m9 0h1m4 0h3m1 0h1m3 0h1m1 0h1m2 0h1m2 0h1m8 0h2m3 0h2m13 0h1m3 0h1m11 0h2m7 0h1m2 0h1m1 0h1m2 0h4m2 0h1m3 0h1m1 0h1m9 0h2m1 0h1m5 0h1m6 0h1m4 0h1m3 0h1m1 0h1m6 0h1m1 0h1m4 0h1m3 0h1m3 0h1m5 0h1m8 0h1m3 0h1m10 0h2m5 0h1m3 0h1m4 0h4m3 0h1M0 153.55h2m9 0h1m1 0h1m2 0h1m8 0h1m1 0h7m20 0h1m2 0h1m5 0h1m8 0h1m1 0h1m3 0h1m1 0h1m2 0h1m3 0h1m11 0h2m1 0h1m1 0h1m3 0h1m1 0h1m1 0h1m3 0h1m2 0h1m5 0h1m3 0h1m1 0h1m3 0h1m2 0h1m8 0h1m9 0h1m1 0h1m7 0h1m1 0h1m4 0h1m4 0h1m2 0h1m2 0h1m1 0h1m3 0h1m5 0h2m6 0h1m7 0h1m1 0h3m7 0h2m4 0h1m6 0h2m3 0h1m3 0h1m4 0h1m1 0h2m2 0h1m4 0h1m1 0h1m7 0h2m5 0h1m27 0h1m2 0h1m1 0h1m11 0h3m7 0h1m8 0h1m14 0h1m2 0h1m12 0h1m2 0h1m6 0h1m5 0h1m2 0h1m2 0h1M9 146.95h1m1 0h1m3 0h1m2 0h1m3 0h1m3 0h1m1 0h1m1 0h1m2 0h1m1 0h1m2 0h1m3 0h2m1 0h1m4 0h1m4 0h1m1 0h1m3 0h1m6 0h1m2 0h1m4 0h1m1 0h1m9 0h1m1 0h1m2 0h1m8 0h1m1 0h1m7 0h1m7 0h1m13 0h1m7 0h1m5 0h2m19 0h1m4 0h1m3 0h1m4 0h1m3 0h1m1 0h1m2 0h2m9 0h1m4 0h2m4 0h1m1 0h2m7 0h2m4 0h1m1 0h1m21 0h1m1 0h1m16 0h2m5 0h2m1 0h1m3 0h1m3 0h1m2 0h1m5 0h1m2 0h1m6 0h1m12 0h1m8 0h1m3 0h1m4 0h1m3 0h1m6 0h1m2 0h1m1 0h1m9 0h1m1 0h1m8 0h2m8 0h1m4 0h1M5 140.35h1m3 0h1m12 0h1m2 0h2m1 0h1m5 0h1m3 0h1m6 0h1m1 0h1m8 0h1m7 0h1m2 0h1m8 0h1m3 0h1m2 0h1m10 0h2m1 0h1m5 0h1m1 0h1m10 0h1m5 0h2m7 0h1m5 0h1m3 0h1m3 0h1m1 0h1m2 0h1m8 0h1m1 0h1m4 0h1m3 0h1m2 0h1m3 0h1m3 0h1m5 0h2m7 0h1m6 0h1m2 0h1m8 0h3m7 0h1m14 0h1m1 0h1m2 0h1m5 0h1m10 0h1m5 0h1m2 0h1m1 0h1m1 0h1m3 0h2m5 0h1m4 0h1m2 0h1m2 0h1m4 0h1m8 0h1m17 0h1m2 0h1m2 0h1m1 0h1m3 0h1m2 0h1m6 0h1m4 0h1m8 0h1m6 0h1m11 0h2m8 0h1M2 133.75h2m3 0h1m6 0h2m2 0h1m2 0h2m6 0h2m1 0h1m3 0h1m1 0h1m5 0h1m2 0h1m2 0h2m3 0h1m4 0h2m3 0h1m2 0h1m7 0h2m3 0h1m8 0h1m4 0h2m5 0h1m4 0h1m7 0h1m3 0h2m1 0h1m3 0h2m2 0h1m2 0h1m12 0h1m3 0h1m13 0h1m1 0h1m1 0h1m1 0h2m4 0h1m3 0h1m9 0h1m1 0h1m4 0h1m1 0h1m2 0h1m12 0h1m1 0h1m5 0h3m6 0h2m10 0h2m3 0h1m8 0h1m1 0h1m2 0h1m5 0h1m1 0h1m5 0h1m2 0h1m1 0h1m11 0h1m1 0h1m5 0h1m2 0h1m9 0h1m4 0h1m1 0h1m2 0h1m2 0h1m4 0h2m2 0h3m1 0h1m12 0h1m1 0h1m1 0h1m3 0h1m2 0h1m2 0h1m4 0h1m1 0h1m2 0h2m11 0h1m6 0h1M8 127.15h1m8 0h2m3 0h1m1 0h1m9 0h1m3 0h1m9 0h1m5 0h1m5 0h1m4 0h1m3 0h1m1 0h1m3 0h1m5 0h1m5 0h1m1 0h2m3 0h1m5 0h1m6 0h1m2 0h1m3 0h1m1 0h1m2 0h1m17 0h1m11 0h1m1 0h2m4 0h1m8 0h1m5 0h2m7 0h1m2 0h1m2 0h1m12 0h1m6 0h1m6 0h1m14 0h2m3 0h1m2 0h1m7 0h1m1 0h1m1 0h1m5 0h1m1 0h1m3 0h1m3 0h1m1 0h1m9 0h1m16 0h2m4 0h1m2 0h1m5 0h1m1 0h1m4 0h1m6 0h1m2 0h1m11 0h2m1 0h1m3 0h2m2 0h1m3 0h2m3 0h1m5 0h1m4 0h1m9 0h2m9 0h1m3 0h1M8 120.55h1m8 0h1m9 0h1m13 0h2m4 0h1m13 0h1m20 0h1m7 0h1m4 0h1m12 0h1m2 0h1m4 0h1m16 0h1m7 0h1m2 0h1m2 0h1m1 0h1m12 0h2m4 0h1m3 0h1m6 0h1m2 0h1m2 0h1m4 0h1m2 0h1m3 0h1m3 0h1m12 0h1m2 0h2m1 0h1m3 0h1m9 0h2m10 0h2m2 0h1m5 0h1m18 0h2m2 0h1m6 0h2m1 0h1m4 0h1m1 0h1m6 0h1m1 0h1m4 0h1m6 0h1m7 0h1m7 0h1m4 0h2m2 0h1m4 0h1m2 0h1m12 0h2m8 0h1m9 0h1m4 0h1m2 0h1m2 0h1m2 0h2M14 113.95h1m5 0h2m1 0h1m7 0h1m2 0h1m3 0h1m4 0h1m1 0h1m1 0h1m3 0h2m3 0h1m1 0h1m3 0h1m1 0h1m1 0h1m1 0h1m2 0h1m6 0h1m8 0h1m3 0h1m2 0h1m5 0h1m4 0h1m10 0h1m1 0h2m5 0h1m6 0h1m5 0h2m2 0h3m2 0h2m1 0h1m10 0h1m1 0h1m2 0h2m7 0h1m9 0h1m1 0h1m7 0h1m1 0h1m1 0h1m2 0h2m14 0h2m6 0h1m11 0h2m7 0h3m5 0h1m5 0h1m5 0h2m5 0h1m1 0h1m1 0h1m4 0h1m4 0h2m7 0h1m10 0h1m8 0h1m1 0h1m7 0h1m19 0h1m1 0h1m9 0h1m2 0h1m4 0h1m2 0h1m1 0h1m7 0h1m2 0h1m1 0h1m1 0h1M12 107.35h1m5 0h3m3 0h1m2 0h1m4 0h1m4 0h1m8 0h1m11 0h1m2 0h3m7 0h1m4 0h1m8 0h1m1 0h1m1 0h1m1 0h1m8 0h2m16 0h2m6 0h1m1 0h1m12 0h2m20 0h1m1 0h1m5 0h1m18 0h1m6 0h1m2 0h1m1 0h2m6 0h1m1 0h1m1 0h1m1 0h1m6 0h1m7 0h1m7 0h1m2 0h1m10 0h2m6 0h1m6 0h1m11 0h1m7 0h1m1 0h1m6 0h1m5 0h1m1 0h2m1 0h1m3 0h1m1 0h1m1 0h1m7 0h1m6 0h1m9 0h1m6 0h1m3 0h2m2 0h1m16 0h1m2 0h1m5 0h1m1 0h1m1 0h1m3 0h1m5 0h1M3 100.75h1m6 0h1m2 0h1m8 0h2m15 0h1m9 0h2m11 0h2m4 0h1m19 0h2m12 0h1m21 0h1m2 0h1m4 0h1m8 0h1m3 0h1m1 0h1m2 0h1m2 0h1m4 0h1m7 0h1m2 0h1m8 0h1m2 0h2m12 0h1m3 0h1m5 0h2m1 0h1m2 0h1m1 0h1m4 0h1m5 0h2m2 0h1m3 0h1m7 0h1m2 0h1m3 0h1m6 0h2m13 0h1m7 0h1m2 0h1m1 0h1m6 0h1m14 0h1m6 0h1m1 0h1m3 0h1m2 0h1m3 0h1m1 0h1m1 0h1m24 0h2m1 0h2m23 0h3m1 0h2M2 94.15h1m7 0h1m5 0h1m2 0h1m11 0h1m7 0h1m1 0h1m1 0h1m6 0h1m3 0h2m4 0h1m4 0h1m2 0h1m14 0h1m11 0h1m2 0h1m4 0h1m2 0h1m1 0h1m3 0h1m3 0h1m3 0h2m2 0h1m7 0h1m7 0h1m2 0h3m5 0h1m12 0h1m4 0h1m1 0h1m1 0h1m3 0h1m7 0h1m1 0h1m1 0h1m6 0h1m1 0h1m4 0h3m1 0h1m3 0h2m9 0h1m4 0h1m5 0h1m7 0h1m7 0h1m2 0h2m13 0h1m2 0h2m1 0h1m2 0h1m2 0h1m1 0h1m5 0h1m1 0h1m8 0h1m8 0h1m13 0h1m1 0h1m2 0h1m5 0h2m6 0h1m2 0h1m23 0h1m9 0h1m5 0h1m5 0h1m1 0h1M8 87.55h2m2 0h1m3 0h3m8 0h1m12 0h1m2 0h1m7 0h1m1 0h1m1 0h2m3 0h2m5 0h2m5 0h3m1 0h1m1 0h2m2 0h3m6 0h1m10 0h2m4 0h1m4 0h1m6 0h1m4 0h1m6 0h2m17 0h2m2 0h1m6 0h2m5 0h1m4 0h1m1 0h1m12 0h1m6 0h1m6 0h1m1 0h1m2 0h1m9 0h1m8 0h2m4 0h1m2 0h1m5 0h1m6 0h1m18 0h3m2 0h2m4 0h1m7 0h1m1 0h1m1 0h1m2 0h1m27 0h1m1 0h1m6 0h4m5 0h1m2 0h1m3 0h1m3 0h1m1 0h1m14 0h1m1 0h1m4 0h1m7 0h2m10 0h1M6 80.95h1m14 0h1m3 0h2m1 0h1m2 0h2m10 0h2m2 0h1m2 0h1m4 0h1m6 0h1m6 0h1m2 0h2m4 0h1m2 0h1m1 0h1m20 0h1m14 0h1m11 0h1m3 0h1m3 0h1m5 0h1m4 0h2m4 0h1m11 0h2m12 0h1m2 0h1m7 0h1m1 0h1m5 0h1m5 0h1m14 0h1m7 0h1m16 0h1m24 0h2m1 0h2m4 0h1m1 0h1m7 0h1m8 0h1m1 0h1m2 0h1m1 0h1m4 0h1m2 0h2m17 0h1m3 0h1m8 0h2m5 0h2m5 0h2m1 0h1m7 0h5m3 0h1M6 74.35h1m6 0h1m9 0h1m1 0h2m9 0h2m4 0h1m6 0h1m3 0h1m3 0h1m2 0h1m3 0h1m7 0h1m1 0h1m8 0h1m1 0h1m7 0h2m1 0h1m2 0h1m1 0h1m1 0h1m6 0h2m8 0h2m6 0h1m6 0h1m2 0h1m7 0h1m7 0h1m4 0h3m3 0h1m11 0h1m2 0h1m2 0h1m4 0h1m1 0h1m5 0h1m4 0h1m4 0h1m8 0h2m4 0h2m1 0h2m8 0h2m9 0h1m12 0h2m4 0h1m1 0h1m2 0h1m2 0h1m11 0h1m10 0h1m5 0h2m14 0h1m8 0h1m3 0h2m3 0h2m6 0h1m10 0h1m6 0h1m2 0h1m7 0h2m1 0h1m6 0h1m3 0h2m1 0h2m7 0h1M0 67.75h1m2 0h1m10 0h2m1 0h1m1 0h1m29 0h1m3 0h1m1 0h2m1 0h1m1 0h2m12 0h1m5 0h1m1 0h1m23 0h1m13 0h1m2 0h1m2 0h2m2 0h2m2 0h1m3 0h1m3 0h1m1 0h2m11 0h1m5 0h1m1 0h1m24 0h1m6 0h1m1 0h1m3 0h1m5 0h1m8 0h2m3 0h1m4 0h2m5 0h1m7 0h2m1 0h1m7 0h1m1 0h1m3 0h2m7 0h1m12 0h1m1 0h3m19 0h1m11 0h1m4 0h1m2 0h1m3 0h3m7 0h2m2 0h1m4 0h3m2 0h1m6 0h1m5 0h2m2 0h1m2 0h2m1 0h1m1 0h1m1 0h1m2 0h2m9 0h1"/>
</g></g>
<rect x="272.90" y="304.53" width="1.65" height="1.65" fill="#7a0403"/>
</g></g>
<g id="spines" shape-rendering="crispEdges">
<rect x="138" y="62" width="663" height="1" fill="#f1f1f1"/><rect x="138" y="697" width="663" height="1" fill="#f1f1f1"/>
<rect x="138" y="62" width="1" height="636" fill="#f1f1f1"/><rect x="800" y="62" width="1" height="636" fill="#f1f1f1"/>
<rect x="139" y="63" width="661" height="1" fill="#000"/><rect x="139" y="696" width="661" height="1" fill="#000"/>
<rect x="139" y="63" width="1" height="634" fill="#000"/><rect x="799" y="63" width="1" height="634" fill="#000"/>
<rect x="135" y="118" width="4" height="1" fill="#000"/><rect x="134" y="118" width="1" height="1" fill="#808080"/>
<rect x="135" y="201" width="4" height="1" fill="#000"/><rect x="134" y="201" width="1" height="1" fill="#808080"/>
<rect x="135" y="283" width="4" height="1" fill="#000"/><rect x="134" y="283" width="1" height="1" fill="#808080"/>
<rect x="135" y="366" width="4" height="1" fill="#000"/><rect x="134" y="366" width="1" height="1" fill="#808080"/>
<rect x="135" y="448" width="4" height="1" fill="#000"/><rect x="134" y="448" width="1" height="1" fill="#808080"/>
<rect x="135" y="531" width="4" height="1" fill="#000"/><rect x="134" y="531" width="1" height="1" fill="#808080"/>
<rect x="135" y="613" width="4" height="1" fill="#000"/><rect x="134" y="613" width="1" height="1" fill="#808080"/>
<rect x="135" y="695" width="4" height="1" fill="#000"/><rect x="134" y="695" width="1" height="1" fill="#808080"/>
<rect x="140" y="697" width="1" height="4" fill="#000"/><rect x="140" y="701" width="1" height="1" fill="#808080"/>
<rect x="305" y="697" width="1" height="4" fill="#000"/><rect x="305" y="701" width="1" height="1" fill="#808080"/>
<rect x="470" y="697" width="1" height="4" fill="#000"/><rect x="470" y="701" width="1" height="1" fill="#808080"/>
<rect x="635" y="697" width="1" height="4" fill="#000"/><rect x="635" y="701" width="1" height="1" fill="#808080"/>
</g>
<g id="cbar" shape-rendering="crispEdges"><rect x="841" y="61" width="31" height="638" fill="url(#cbg)"/>
<rect x="839" y="59" width="35" height="1" fill="#f1f1f1"/><rect x="839" y="700" width="35" height="1" fill="#f1f1f1"/>
<rect x="839" y="59" width="1" height="642" fill="#f1f1f1"/><rect x="873" y="59" width="1" height="642" fill="#f1f1f1"/>
<rect x="840" y="60" width="33" height="1" fill="#000"/><rect x="840" y="699" width="33" height="1" fill="#000"/>
<rect x="840" y="60" width="1" height="640" fill="#000"/><rect x="872" y="60" width="1" height="640" fill="#000"/>
<rect x="873" y="76" width="4" height="1" fill="#000"/><rect x="877" y="76" width="1" height="1" fill="#808080"/>
<rect x="873" y="154" width="4" height="1" fill="#000"/><rect x="877" y="154" width="1" height="1" fill="#808080"/>
<rect x="873" y="231" width="4" height="1" fill="#000"/><rect x="877" y="231" width="1" height="1" fill="#808080"/>
<rect x="873" y="309" width="4" height="1" fill="#000"/><rect x="877" y="309" width="1" height="1" fill="#808080"/>
<rect x="873" y="387" width="4" height="1" fill="#000"/><rect x="877" y="387" width="1" height="1" fill="#808080"/>
<rect x="873" y="465" width="4" height="1" fill="#000"/><rect x="877" y="465" width="1" height="1" fill="#808080"/>
<rect x="873" y="543" width="4" height="1" fill="#000"/><rect x="877" y="543" width="1" height="1" fill="#808080"/>
<rect x="873" y="621" width="4" height="1" fill="#000"/><rect x="877" y="621" width="1" height="1" fill="#808080"/>
<rect x="873" y="699" width="4" height="1" fill="#000"/><rect x="877" y="699" width="1" height="1" fill="#808080"/>
</g>
<g id="texts" opacity="0.999">
<text id="title" transform="translate(327.33 53.33) scale(1.0793 1)" font-size="31.366" style="fill:#131313">OccupancyMap-10</text>
<text id="xlabel" transform="translate(421.16 763.78) scale(1.0769 1)" font-size="25.683" style="fill:#151515">Column</text>
<text id="ylabel" transform="translate(56.26 408.99) rotate(-90) scale(0.9946 1)" font-size="25.302">Row</text>
<text id="cblabel" transform="translate(948.14 416.49) rotate(-90) scale(1.0020 1)" font-size="36.653" style="fill:#161616">Hits</text>
<text id="xt0" transform="translate(129.36 731.60) scale(1.0396 1)" font-size="35.139" style="fill:#080808">0</text>
<text id="xt100" transform="translate(274.40 731.60) scale(1.0396 1)" font-size="35.139" style="fill:#050505">100</text>
<text id="xt200" transform="translate(439.84 731.60) scale(1.0396 1)" font-size="35.139" style="fill:#0a0a0a">200</text>
<text id="xt300" transform="translate(605.26 731.60) scale(1.0396 1)" font-size="35.139" style="fill:#0e0e0e">300</text>
<text id="yt0" transform="translate(108.36 707.69) scale(1.0273 1)" font-size="35.861" style="fill:#0b0b0b">0</text>
<text id="yt50" transform="translate(87.82 625.92) scale(1.0273 1)" font-size="35.861" style="fill:#181818">50</text>
<text id="yt100" transform="translate(66.35 543.78) scale(1.0273 1)" font-size="35.861" style="fill:#0c0c0c">100</text>
<text id="yt150" transform="translate(66.40 460.74) scale(1.0273 1)" font-size="35.861" style="fill:#141414">150</text>
<text id="yt200" transform="translate(66.75 379.11) scale(1.0273 1)" font-size="35.861" style="fill:#101010">200</text>
<text id="yt250" transform="translate(66.81 296.31) scale(1.0273 1)" font-size="35.861" style="fill:#181818">250</text>
<text id="yt300" transform="translate(67.23 213.86) scale(1.0273 1)" font-size="35.861" style="fill:#141414">300</text>
<text id="yt350" transform="translate(67.20 131.01) scale(1.0273 1)" font-size="35.861" style="fill:#1d1d1d">350</text>
<text id="ct0" transform="translate(882.21 705.42) scale(1.0005 1)" font-size="17.837">0</text>
<text id="ct50" transform="translate(882.29 626.80) scale(1.0005 1)" font-size="17.837" style="fill:#050505">50</text>
<text id="ct100" transform="translate(883.17 549.24) scale(1.0005 1)" font-size="17.837">100</text>
<text id="ct150" transform="translate(883.21 470.84) scale(1.0005 1)" font-size="17.837" style="fill:#010101">150</text>
<text id="ct200" transform="translate(882.41 393.35) scale(1.0005 1)" font-size="17.837">200</text>
<text id="ct250" transform="translate(882.43 314.94) scale(1.0005 1)" font-size="17.837" style="fill:#060606">250</text>
<text id="ct300" transform="translate(882.62 237.61) scale(1.0005 1)" font-size="17.837" style="fill:#050505">300</text>
<text id="ct350" transform="translate(882.71 160.18) scale(1.0005 1)" font-size="17.837" style="fill:#0b0b0b">350</text>
<text id="ct400" transform="translate(882.90 81.89) scale(1.0005 1)" font-size="17.837">400</text>
</g></svg></body></html>
